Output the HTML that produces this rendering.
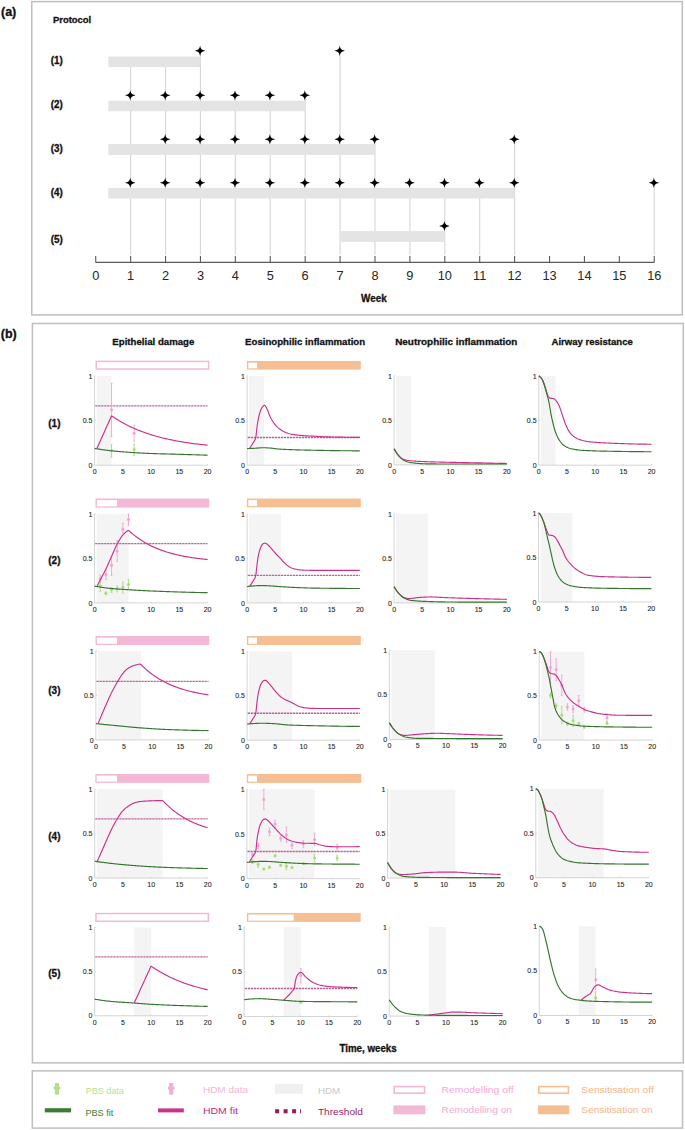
<!DOCTYPE html>
<html><head><meta charset="utf-8"><title>Figure</title>
<style>html,body{margin:0;padding:0;background:#fff;width:685px;height:1130px;overflow:hidden;font-family:"Liberation Sans",sans-serif;} svg{display:block;}</style>
</head><body>
<svg width="685" height="1130" viewBox="0 0 685 1130" font-family='"Liberation Sans", sans-serif'><rect x="31.75" y="1.60" width="650.55" height="313.25" fill="none" stroke="#bebebe" stroke-width="1.5"/>
<rect x="32.40" y="323.50" width="650.90" height="739.35" fill="none" stroke="#bebebe" stroke-width="1.5"/>
<rect x="32.30" y="1070.85" width="650.20" height="57.25" fill="none" stroke="#bebebe" stroke-width="1.5"/>
<line x1="130.63" y1="58.10" x2="130.63" y2="254.7" stroke="#d6d6d6" stroke-width="1.1"/>
<line x1="165.54" y1="58.10" x2="165.54" y2="254.7" stroke="#d6d6d6" stroke-width="1.1"/>
<line x1="200.44" y1="50.80" x2="200.44" y2="254.7" stroke="#d6d6d6" stroke-width="1.1"/>
<line x1="235.35" y1="95.20" x2="235.35" y2="254.7" stroke="#d6d6d6" stroke-width="1.1"/>
<line x1="270.26" y1="95.20" x2="270.26" y2="254.7" stroke="#d6d6d6" stroke-width="1.1"/>
<line x1="305.17" y1="95.20" x2="305.17" y2="254.7" stroke="#d6d6d6" stroke-width="1.1"/>
<line x1="340.08" y1="50.80" x2="340.08" y2="254.7" stroke="#d6d6d6" stroke-width="1.1"/>
<line x1="374.98" y1="139.30" x2="374.98" y2="254.7" stroke="#d6d6d6" stroke-width="1.1"/>
<line x1="409.89" y1="182.80" x2="409.89" y2="254.7" stroke="#d6d6d6" stroke-width="1.1"/>
<line x1="444.80" y1="182.80" x2="444.80" y2="254.7" stroke="#d6d6d6" stroke-width="1.1"/>
<line x1="479.71" y1="182.80" x2="479.71" y2="254.7" stroke="#d6d6d6" stroke-width="1.1"/>
<line x1="514.62" y1="139.30" x2="514.62" y2="254.7" stroke="#d6d6d6" stroke-width="1.1"/>
<line x1="654.25" y1="182.80" x2="654.25" y2="254.7" stroke="#d6d6d6" stroke-width="1.1"/>
<rect x="108.29" y="56.60" width="92.16" height="10.50" fill="#e4e4e4"/>
<rect x="108.29" y="100.70" width="196.88" height="10.50" fill="#e4e4e4"/>
<rect x="108.29" y="144.10" width="266.70" height="10.80" fill="#e4e4e4"/>
<rect x="108.29" y="187.90" width="406.33" height="10.60" fill="#e4e4e4"/>
<rect x="340.08" y="231.10" width="104.72" height="10.80" fill="#e4e4e4"/>
<path d="M0,-5.3 C0.55,-2.0 1.2,-1.2 5.2,0 C1.2,1.2 0.55,2.0 0,5.3 C-0.55,2.0 -1.2,1.2 -5.2,0 C-1.2,-1.2 -0.55,-2.0 0,-5.3 Z" transform="translate(200.09,50.80)" fill="#000"/>
<path d="M0,-5.3 C0.55,-2.0 1.2,-1.2 5.2,0 C1.2,1.2 0.55,2.0 0,5.3 C-0.55,2.0 -1.2,1.2 -5.2,0 C-1.2,-1.2 -0.55,-2.0 0,-5.3 Z" transform="translate(339.73,50.80)" fill="#000"/>
<path d="M0,-5.3 C0.55,-2.0 1.2,-1.2 5.2,0 C1.2,1.2 0.55,2.0 0,5.3 C-0.55,2.0 -1.2,1.2 -5.2,0 C-1.2,-1.2 -0.55,-2.0 0,-5.3 Z" transform="translate(130.28,95.20)" fill="#000"/>
<path d="M0,-5.3 C0.55,-2.0 1.2,-1.2 5.2,0 C1.2,1.2 0.55,2.0 0,5.3 C-0.55,2.0 -1.2,1.2 -5.2,0 C-1.2,-1.2 -0.55,-2.0 0,-5.3 Z" transform="translate(165.19,95.20)" fill="#000"/>
<path d="M0,-5.3 C0.55,-2.0 1.2,-1.2 5.2,0 C1.2,1.2 0.55,2.0 0,5.3 C-0.55,2.0 -1.2,1.2 -5.2,0 C-1.2,-1.2 -0.55,-2.0 0,-5.3 Z" transform="translate(200.09,95.20)" fill="#000"/>
<path d="M0,-5.3 C0.55,-2.0 1.2,-1.2 5.2,0 C1.2,1.2 0.55,2.0 0,5.3 C-0.55,2.0 -1.2,1.2 -5.2,0 C-1.2,-1.2 -0.55,-2.0 0,-5.3 Z" transform="translate(235.00,95.20)" fill="#000"/>
<path d="M0,-5.3 C0.55,-2.0 1.2,-1.2 5.2,0 C1.2,1.2 0.55,2.0 0,5.3 C-0.55,2.0 -1.2,1.2 -5.2,0 C-1.2,-1.2 -0.55,-2.0 0,-5.3 Z" transform="translate(269.91,95.20)" fill="#000"/>
<path d="M0,-5.3 C0.55,-2.0 1.2,-1.2 5.2,0 C1.2,1.2 0.55,2.0 0,5.3 C-0.55,2.0 -1.2,1.2 -5.2,0 C-1.2,-1.2 -0.55,-2.0 0,-5.3 Z" transform="translate(304.82,95.20)" fill="#000"/>
<path d="M0,-5.3 C0.55,-2.0 1.2,-1.2 5.2,0 C1.2,1.2 0.55,2.0 0,5.3 C-0.55,2.0 -1.2,1.2 -5.2,0 C-1.2,-1.2 -0.55,-2.0 0,-5.3 Z" transform="translate(165.19,139.30)" fill="#000"/>
<path d="M0,-5.3 C0.55,-2.0 1.2,-1.2 5.2,0 C1.2,1.2 0.55,2.0 0,5.3 C-0.55,2.0 -1.2,1.2 -5.2,0 C-1.2,-1.2 -0.55,-2.0 0,-5.3 Z" transform="translate(200.09,139.30)" fill="#000"/>
<path d="M0,-5.3 C0.55,-2.0 1.2,-1.2 5.2,0 C1.2,1.2 0.55,2.0 0,5.3 C-0.55,2.0 -1.2,1.2 -5.2,0 C-1.2,-1.2 -0.55,-2.0 0,-5.3 Z" transform="translate(235.00,139.30)" fill="#000"/>
<path d="M0,-5.3 C0.55,-2.0 1.2,-1.2 5.2,0 C1.2,1.2 0.55,2.0 0,5.3 C-0.55,2.0 -1.2,1.2 -5.2,0 C-1.2,-1.2 -0.55,-2.0 0,-5.3 Z" transform="translate(269.91,139.30)" fill="#000"/>
<path d="M0,-5.3 C0.55,-2.0 1.2,-1.2 5.2,0 C1.2,1.2 0.55,2.0 0,5.3 C-0.55,2.0 -1.2,1.2 -5.2,0 C-1.2,-1.2 -0.55,-2.0 0,-5.3 Z" transform="translate(304.82,139.30)" fill="#000"/>
<path d="M0,-5.3 C0.55,-2.0 1.2,-1.2 5.2,0 C1.2,1.2 0.55,2.0 0,5.3 C-0.55,2.0 -1.2,1.2 -5.2,0 C-1.2,-1.2 -0.55,-2.0 0,-5.3 Z" transform="translate(339.73,139.30)" fill="#000"/>
<path d="M0,-5.3 C0.55,-2.0 1.2,-1.2 5.2,0 C1.2,1.2 0.55,2.0 0,5.3 C-0.55,2.0 -1.2,1.2 -5.2,0 C-1.2,-1.2 -0.55,-2.0 0,-5.3 Z" transform="translate(374.63,139.30)" fill="#000"/>
<path d="M0,-5.3 C0.55,-2.0 1.2,-1.2 5.2,0 C1.2,1.2 0.55,2.0 0,5.3 C-0.55,2.0 -1.2,1.2 -5.2,0 C-1.2,-1.2 -0.55,-2.0 0,-5.3 Z" transform="translate(514.27,139.30)" fill="#000"/>
<path d="M0,-5.3 C0.55,-2.0 1.2,-1.2 5.2,0 C1.2,1.2 0.55,2.0 0,5.3 C-0.55,2.0 -1.2,1.2 -5.2,0 C-1.2,-1.2 -0.55,-2.0 0,-5.3 Z" transform="translate(130.28,182.80)" fill="#000"/>
<path d="M0,-5.3 C0.55,-2.0 1.2,-1.2 5.2,0 C1.2,1.2 0.55,2.0 0,5.3 C-0.55,2.0 -1.2,1.2 -5.2,0 C-1.2,-1.2 -0.55,-2.0 0,-5.3 Z" transform="translate(165.19,182.80)" fill="#000"/>
<path d="M0,-5.3 C0.55,-2.0 1.2,-1.2 5.2,0 C1.2,1.2 0.55,2.0 0,5.3 C-0.55,2.0 -1.2,1.2 -5.2,0 C-1.2,-1.2 -0.55,-2.0 0,-5.3 Z" transform="translate(200.09,182.80)" fill="#000"/>
<path d="M0,-5.3 C0.55,-2.0 1.2,-1.2 5.2,0 C1.2,1.2 0.55,2.0 0,5.3 C-0.55,2.0 -1.2,1.2 -5.2,0 C-1.2,-1.2 -0.55,-2.0 0,-5.3 Z" transform="translate(235.00,182.80)" fill="#000"/>
<path d="M0,-5.3 C0.55,-2.0 1.2,-1.2 5.2,0 C1.2,1.2 0.55,2.0 0,5.3 C-0.55,2.0 -1.2,1.2 -5.2,0 C-1.2,-1.2 -0.55,-2.0 0,-5.3 Z" transform="translate(269.91,182.80)" fill="#000"/>
<path d="M0,-5.3 C0.55,-2.0 1.2,-1.2 5.2,0 C1.2,1.2 0.55,2.0 0,5.3 C-0.55,2.0 -1.2,1.2 -5.2,0 C-1.2,-1.2 -0.55,-2.0 0,-5.3 Z" transform="translate(304.82,182.80)" fill="#000"/>
<path d="M0,-5.3 C0.55,-2.0 1.2,-1.2 5.2,0 C1.2,1.2 0.55,2.0 0,5.3 C-0.55,2.0 -1.2,1.2 -5.2,0 C-1.2,-1.2 -0.55,-2.0 0,-5.3 Z" transform="translate(339.73,182.80)" fill="#000"/>
<path d="M0,-5.3 C0.55,-2.0 1.2,-1.2 5.2,0 C1.2,1.2 0.55,2.0 0,5.3 C-0.55,2.0 -1.2,1.2 -5.2,0 C-1.2,-1.2 -0.55,-2.0 0,-5.3 Z" transform="translate(374.63,182.80)" fill="#000"/>
<path d="M0,-5.3 C0.55,-2.0 1.2,-1.2 5.2,0 C1.2,1.2 0.55,2.0 0,5.3 C-0.55,2.0 -1.2,1.2 -5.2,0 C-1.2,-1.2 -0.55,-2.0 0,-5.3 Z" transform="translate(409.54,182.80)" fill="#000"/>
<path d="M0,-5.3 C0.55,-2.0 1.2,-1.2 5.2,0 C1.2,1.2 0.55,2.0 0,5.3 C-0.55,2.0 -1.2,1.2 -5.2,0 C-1.2,-1.2 -0.55,-2.0 0,-5.3 Z" transform="translate(444.45,182.80)" fill="#000"/>
<path d="M0,-5.3 C0.55,-2.0 1.2,-1.2 5.2,0 C1.2,1.2 0.55,2.0 0,5.3 C-0.55,2.0 -1.2,1.2 -5.2,0 C-1.2,-1.2 -0.55,-2.0 0,-5.3 Z" transform="translate(479.36,182.80)" fill="#000"/>
<path d="M0,-5.3 C0.55,-2.0 1.2,-1.2 5.2,0 C1.2,1.2 0.55,2.0 0,5.3 C-0.55,2.0 -1.2,1.2 -5.2,0 C-1.2,-1.2 -0.55,-2.0 0,-5.3 Z" transform="translate(514.27,182.80)" fill="#000"/>
<path d="M0,-5.3 C0.55,-2.0 1.2,-1.2 5.2,0 C1.2,1.2 0.55,2.0 0,5.3 C-0.55,2.0 -1.2,1.2 -5.2,0 C-1.2,-1.2 -0.55,-2.0 0,-5.3 Z" transform="translate(653.90,182.80)" fill="#000"/>
<path d="M0,-5.3 C0.55,-2.0 1.2,-1.2 5.2,0 C1.2,1.2 0.55,2.0 0,5.3 C-0.55,2.0 -1.2,1.2 -5.2,0 C-1.2,-1.2 -0.55,-2.0 0,-5.3 Z" transform="translate(444.45,226.10)" fill="#000"/>
<line x1="95.72" y1="262.40" x2="654.25" y2="262.40" stroke="#5a5a5a" stroke-width="1.1"/>
<line x1="95.72" y1="256.0" x2="95.72" y2="262.40" stroke="#5a5a5a" stroke-width="1.1"/>
<text x="95.72" y="279.70" font-size="12.8" text-anchor="middle" font-weight="normal" fill="#262626">0</text>
<line x1="130.63" y1="256.0" x2="130.63" y2="262.40" stroke="#5a5a5a" stroke-width="1.1"/>
<text x="130.63" y="279.70" font-size="12.8" text-anchor="middle" font-weight="normal" fill="#262626">1</text>
<line x1="165.54" y1="256.0" x2="165.54" y2="262.40" stroke="#5a5a5a" stroke-width="1.1"/>
<text x="165.54" y="279.70" font-size="12.8" text-anchor="middle" font-weight="normal" fill="#262626">2</text>
<line x1="200.44" y1="256.0" x2="200.44" y2="262.40" stroke="#5a5a5a" stroke-width="1.1"/>
<text x="200.44" y="279.70" font-size="12.8" text-anchor="middle" font-weight="normal" fill="#262626">3</text>
<line x1="235.35" y1="256.0" x2="235.35" y2="262.40" stroke="#5a5a5a" stroke-width="1.1"/>
<text x="235.35" y="279.70" font-size="12.8" text-anchor="middle" font-weight="normal" fill="#262626">4</text>
<line x1="270.26" y1="256.0" x2="270.26" y2="262.40" stroke="#5a5a5a" stroke-width="1.1"/>
<text x="270.26" y="279.70" font-size="12.8" text-anchor="middle" font-weight="normal" fill="#262626">5</text>
<line x1="305.17" y1="256.0" x2="305.17" y2="262.40" stroke="#5a5a5a" stroke-width="1.1"/>
<text x="305.17" y="279.70" font-size="12.8" text-anchor="middle" font-weight="normal" fill="#262626">6</text>
<line x1="340.08" y1="256.0" x2="340.08" y2="262.40" stroke="#5a5a5a" stroke-width="1.1"/>
<text x="340.08" y="279.70" font-size="12.8" text-anchor="middle" font-weight="normal" fill="#262626">7</text>
<line x1="374.98" y1="256.0" x2="374.98" y2="262.40" stroke="#5a5a5a" stroke-width="1.1"/>
<text x="374.98" y="279.70" font-size="12.8" text-anchor="middle" font-weight="normal" fill="#262626">8</text>
<line x1="409.89" y1="256.0" x2="409.89" y2="262.40" stroke="#5a5a5a" stroke-width="1.1"/>
<text x="409.89" y="279.70" font-size="12.8" text-anchor="middle" font-weight="normal" fill="#262626">9</text>
<line x1="444.80" y1="256.0" x2="444.80" y2="262.40" stroke="#5a5a5a" stroke-width="1.1"/>
<text x="444.80" y="279.70" font-size="12.8" text-anchor="middle" font-weight="normal" fill="#262626">10</text>
<line x1="479.71" y1="256.0" x2="479.71" y2="262.40" stroke="#5a5a5a" stroke-width="1.1"/>
<text x="479.71" y="279.70" font-size="12.8" text-anchor="middle" font-weight="normal" fill="#262626">11</text>
<line x1="514.62" y1="256.0" x2="514.62" y2="262.40" stroke="#5a5a5a" stroke-width="1.1"/>
<text x="514.62" y="279.70" font-size="12.8" text-anchor="middle" font-weight="normal" fill="#262626">12</text>
<line x1="549.52" y1="256.0" x2="549.52" y2="262.40" stroke="#5a5a5a" stroke-width="1.1"/>
<text x="549.52" y="279.70" font-size="12.8" text-anchor="middle" font-weight="normal" fill="#262626">13</text>
<line x1="584.43" y1="256.0" x2="584.43" y2="262.40" stroke="#5a5a5a" stroke-width="1.1"/>
<text x="584.43" y="279.70" font-size="12.8" text-anchor="middle" font-weight="normal" fill="#262626">14</text>
<line x1="619.34" y1="256.0" x2="619.34" y2="262.40" stroke="#5a5a5a" stroke-width="1.1"/>
<text x="619.34" y="279.70" font-size="12.8" text-anchor="middle" font-weight="normal" fill="#262626">15</text>
<line x1="654.25" y1="256.0" x2="654.25" y2="262.40" stroke="#5a5a5a" stroke-width="1.1"/>
<text x="654.25" y="279.70" font-size="12.8" text-anchor="middle" font-weight="normal" fill="#262626">16</text>
<text x="1.00" y="16.20" font-size="12.5" text-anchor="start" font-weight="bold" fill="#111" stroke="#111" stroke-width="0.3">(a)</text>
<text x="53.00" y="22.80" font-size="9.6" text-anchor="start" font-weight="bold" fill="#111" textLength="38.20" lengthAdjust="spacingAndGlyphs" stroke="#111" stroke-width="0.3">Protocol</text>
<text x="50.80" y="64.30" font-size="10.2" text-anchor="start" font-weight="bold" fill="#111" textLength="12.00" lengthAdjust="spacingAndGlyphs" stroke="#111" stroke-width="0.3">(1)</text>
<text x="50.80" y="108.10" font-size="10.2" text-anchor="start" font-weight="bold" fill="#111" textLength="12.00" lengthAdjust="spacingAndGlyphs" stroke="#111" stroke-width="0.3">(2)</text>
<text x="50.80" y="152.30" font-size="10.2" text-anchor="start" font-weight="bold" fill="#111" textLength="12.00" lengthAdjust="spacingAndGlyphs" stroke="#111" stroke-width="0.3">(3)</text>
<text x="50.80" y="196.20" font-size="10.2" text-anchor="start" font-weight="bold" fill="#111" textLength="12.00" lengthAdjust="spacingAndGlyphs" stroke="#111" stroke-width="0.3">(4)</text>
<text x="50.80" y="242.90" font-size="10.2" text-anchor="start" font-weight="bold" fill="#111" textLength="12.00" lengthAdjust="spacingAndGlyphs" stroke="#111" stroke-width="0.3">(5)</text>
<text x="361.00" y="301.60" font-size="10.0" text-anchor="start" font-weight="bold" fill="#111" textLength="25.70" lengthAdjust="spacingAndGlyphs" stroke="#111" stroke-width="0.3">Week</text>
<text x="0.80" y="338.40" font-size="12.5" text-anchor="start" font-weight="bold" fill="#111" stroke="#111" stroke-width="0.3">(b)</text>
<text x="112.30" y="344.90" font-size="9.9" text-anchor="start" font-weight="bold" fill="#111" textLength="82.10" lengthAdjust="spacingAndGlyphs" stroke="#111" stroke-width="0.3">Epithelial damage</text>
<text x="245.10" y="344.90" font-size="9.9" text-anchor="start" font-weight="bold" fill="#111" textLength="120.00" lengthAdjust="spacingAndGlyphs" stroke="#111" stroke-width="0.3">Eosinophilic inflammation</text>
<text x="395.20" y="344.90" font-size="9.9" text-anchor="start" font-weight="bold" fill="#111" textLength="122.20" lengthAdjust="spacingAndGlyphs" stroke="#111" stroke-width="0.3">Neutrophilic inflammation</text>
<text x="551.50" y="344.90" font-size="9.9" text-anchor="start" font-weight="bold" fill="#111" textLength="81.30" lengthAdjust="spacingAndGlyphs" stroke="#111" stroke-width="0.3">Airway resistance</text>
<text x="48.30" y="426.80" font-size="10.4" text-anchor="start" font-weight="bold" fill="#111" textLength="12.20" lengthAdjust="spacingAndGlyphs" stroke="#111" stroke-width="0.3">(1)</text>
<text x="48.30" y="563.80" font-size="10.4" text-anchor="start" font-weight="bold" fill="#111" textLength="12.20" lengthAdjust="spacingAndGlyphs" stroke="#111" stroke-width="0.3">(2)</text>
<text x="48.30" y="693.50" font-size="10.4" text-anchor="start" font-weight="bold" fill="#111" textLength="12.20" lengthAdjust="spacingAndGlyphs" stroke="#111" stroke-width="0.3">(3)</text>
<text x="48.30" y="840.00" font-size="10.4" text-anchor="start" font-weight="bold" fill="#111" textLength="12.20" lengthAdjust="spacingAndGlyphs" stroke="#111" stroke-width="0.3">(4)</text>
<text x="48.30" y="976.50" font-size="10.4" text-anchor="start" font-weight="bold" fill="#111" textLength="12.20" lengthAdjust="spacingAndGlyphs" stroke="#111" stroke-width="0.3">(5)</text>
<text x="339.40" y="1051.90" font-size="10.0" text-anchor="start" font-weight="bold" fill="#111" textLength="57.30" lengthAdjust="spacingAndGlyphs" stroke="#111" stroke-width="0.3">Time, weeks</text>
<rect x="96.63" y="375.90" width="14.92" height="89.30" fill="#f4f4f4"/>
<path d="M94.60,375.90 L94.60,465.20 L207.60,465.20" fill="none" stroke="#cfcfcf" stroke-width="0.9"/>
<line x1="122.85" y1="465.20" x2="122.85" y2="464.00" stroke="#cfcfcf" stroke-width="0.8"/>
<line x1="151.10" y1="465.20" x2="151.10" y2="464.00" stroke="#cfcfcf" stroke-width="0.8"/>
<line x1="179.35" y1="465.20" x2="179.35" y2="464.00" stroke="#cfcfcf" stroke-width="0.8"/>
<line x1="207.60" y1="465.20" x2="207.60" y2="464.00" stroke="#cfcfcf" stroke-width="0.8"/>
<line x1="94.60" y1="420.55" x2="95.80" y2="420.55" stroke="#cfcfcf" stroke-width="0.8"/>
<line x1="94.60" y1="375.90" x2="95.80" y2="375.90" stroke="#cfcfcf" stroke-width="0.8"/>
<text x="92.40" y="467.80" font-size="7.0" text-anchor="end" font-weight="normal" fill="#262626" stroke="#262626" stroke-width="0.1">0</text>
<text x="92.40" y="423.15" font-size="7.0" text-anchor="end" font-weight="normal" fill="#262626" stroke="#262626" stroke-width="0.1">0.5</text>
<text x="92.40" y="378.50" font-size="7.0" text-anchor="end" font-weight="normal" fill="#262626" stroke="#262626" stroke-width="0.1">1</text>
<text x="94.60" y="474.00" font-size="7.0" text-anchor="middle" font-weight="normal" fill="#262626" stroke="#262626" stroke-width="0.1">0</text>
<text x="122.85" y="474.00" font-size="7.0" text-anchor="middle" font-weight="normal" fill="#262626" stroke="#262626" stroke-width="0.1">5</text>
<text x="151.10" y="474.00" font-size="7.0" text-anchor="middle" font-weight="normal" fill="#262626" stroke="#262626" stroke-width="0.1">10</text>
<text x="179.35" y="474.00" font-size="7.0" text-anchor="middle" font-weight="normal" fill="#262626" stroke="#262626" stroke-width="0.1">15</text>
<text x="207.60" y="474.00" font-size="7.0" text-anchor="middle" font-weight="normal" fill="#262626" stroke="#262626" stroke-width="0.1">20</text>
<line x1="95.20" y1="405.82" x2="207.60" y2="405.82" stroke="#b8649a" stroke-width="1.35" stroke-dasharray="2.3,0.7"/>
<line x1="111.55" y1="383.40" x2="111.55" y2="436.62" stroke="#f0a4d2" stroke-width="0.9"/>
<line x1="110.65" y1="383.40" x2="112.45" y2="383.40" stroke="#f0a4d2" stroke-width="0.8"/>
<line x1="110.65" y1="436.62" x2="112.45" y2="436.62" stroke="#f0a4d2" stroke-width="0.8"/>
<circle cx="111.55" cy="409.83" r="1.5" fill="#f0a4d2"/>
<line x1="134.15" y1="425.37" x2="134.15" y2="441.18" stroke="#f0a4d2" stroke-width="0.9"/>
<line x1="133.25" y1="425.37" x2="135.05" y2="425.37" stroke="#f0a4d2" stroke-width="0.8"/>
<line x1="133.25" y1="441.18" x2="135.05" y2="441.18" stroke="#f0a4d2" stroke-width="0.8"/>
<circle cx="134.15" cy="433.32" r="1.5" fill="#f0a4d2"/>
<line x1="111.55" y1="444.66" x2="111.55" y2="457.25" stroke="#a9dc78" stroke-width="0.9"/>
<line x1="110.65" y1="444.66" x2="112.45" y2="444.66" stroke="#a9dc78" stroke-width="0.8"/>
<line x1="110.65" y1="457.25" x2="112.45" y2="457.25" stroke="#a9dc78" stroke-width="0.8"/>
<circle cx="111.55" cy="450.47" r="1.5" fill="#a9dc78"/>
<line x1="134.15" y1="444.21" x2="134.15" y2="455.64" stroke="#a9dc78" stroke-width="0.9"/>
<line x1="133.25" y1="444.21" x2="135.05" y2="444.21" stroke="#a9dc78" stroke-width="0.8"/>
<line x1="133.25" y1="455.64" x2="135.05" y2="455.64" stroke="#a9dc78" stroke-width="0.8"/>
<circle cx="134.15" cy="449.57" r="1.5" fill="#a9dc78"/>
<path d="M94.60,448.41 L95.53,448.57 L96.47,448.72 L97.40,448.88 L98.34,449.03 L99.27,449.18 L100.20,449.33 L101.14,449.47 L102.07,449.61 L103.00,449.75 L103.94,449.88 L104.87,450.01 L105.81,450.14 L106.74,450.26 L107.67,450.38 L108.61,450.49 L109.54,450.60 L110.48,450.71 L111.41,450.81 L112.34,450.90 L113.28,451.00 L114.21,451.09 L115.15,451.18 L116.08,451.26 L117.01,451.35 L117.95,451.43 L118.88,451.51 L119.81,451.59 L120.75,451.66 L121.68,451.74 L122.62,451.81 L123.55,451.88 L124.48,451.95 L125.42,452.02 L126.35,452.09 L127.29,452.16 L128.22,452.22 L129.15,452.28 L130.09,452.35 L131.02,452.41 L131.96,452.47 L132.89,452.53 L133.82,452.59 L134.76,452.65 L135.69,452.70 L136.62,452.76 L137.56,452.82 L138.49,452.87 L139.43,452.93 L140.36,452.98 L141.29,453.03 L142.23,453.09 L143.16,453.14 L144.10,453.19 L145.03,453.23 L145.96,453.28 L146.90,453.32 L147.83,453.37 L148.77,453.41 L149.70,453.45 L150.63,453.48 L151.57,453.52 L152.50,453.55 L153.43,453.59 L154.37,453.62 L155.30,453.65 L156.24,453.68 L157.17,453.71 L158.10,453.74 L159.04,453.76 L159.97,453.79 L160.91,453.82 L161.84,453.84 L162.77,453.87 L163.71,453.89 L164.64,453.92 L165.58,453.94 L166.51,453.96 L167.44,453.99 L168.38,454.01 L169.31,454.04 L170.24,454.06 L171.18,454.08 L172.11,454.11 L173.05,454.13 L173.98,454.16 L174.91,454.18 L175.85,454.21 L176.78,454.23 L177.72,454.26 L178.65,454.28 L179.58,454.31 L180.52,454.34 L181.45,454.37 L182.39,454.40 L183.32,454.43 L184.25,454.45 L185.19,454.48 L186.12,454.51 L187.05,454.54 L187.99,454.57 L188.92,454.60 L189.86,454.63 L190.79,454.66 L191.72,454.69 L192.66,454.71 L193.59,454.74 L194.53,454.77 L195.46,454.80 L196.39,454.83 L197.33,454.86 L198.26,454.89 L199.20,454.92 L200.13,454.95 L201.06,454.98 L202.00,455.01 L202.93,455.04 L203.86,455.08 L204.80,455.11 L205.73,455.14 L206.67,455.17 L207.60,455.20" fill="none" stroke="#35752f" stroke-width="1.15" stroke-linejoin="round"/>
<path d="M96.86,448.59 L97.78,446.54 L98.70,444.49 L99.61,442.45 L100.53,440.40 L101.45,438.35 L102.37,436.30 L103.29,434.25 L104.20,432.20 L105.12,430.16 L106.04,428.11 L106.96,426.06 L107.88,424.01 L108.80,421.96 L109.71,419.91 L110.63,417.87 L111.55,415.82 M111.55,415.82 L112.48,416.46 L113.42,417.08 L114.35,417.70 L115.28,418.31 L116.21,418.91 L117.15,419.50 L118.08,420.07 L119.01,420.63 L119.94,421.18 L120.88,421.73 L121.81,422.26 L122.74,422.78 L123.67,423.29 L124.61,423.80 L125.54,424.29 L126.47,424.77 L127.40,425.25 L128.34,425.71 L129.27,426.17 L130.20,426.62 L131.13,427.06 L132.07,427.49 L133.00,427.91 L133.93,428.33 L134.86,428.73 L135.80,429.13 L136.73,429.53 L137.66,429.91 L138.59,430.29 L139.53,430.66 L140.46,431.02 L141.39,431.38 L142.32,431.73 L143.26,432.08 L144.19,432.41 L145.12,432.74 L146.05,433.07 L146.99,433.39 L147.92,433.70 L148.85,434.01 L149.78,434.31 L150.72,434.60 L151.65,434.89 L152.58,435.18 L153.51,435.45 L154.45,435.73 L155.38,436.00 L156.31,436.26 L157.24,436.52 L158.18,436.77 L159.11,437.02 L160.04,437.27 L160.97,437.50 L161.91,437.74 L162.84,437.97 L163.77,438.20 L164.70,438.42 L165.64,438.64 L166.57,438.85 L167.50,439.06 L168.43,439.27 L169.37,439.47 L170.30,439.67 L171.23,439.86 L172.16,440.05 L173.10,440.24 L174.03,440.42 L174.96,440.60 L175.89,440.78 L176.83,440.95 L177.76,441.13 L178.69,441.29 L179.62,441.46 L180.56,441.62 L181.49,441.78 L182.42,441.93 L183.35,442.08 L184.29,442.23 L185.22,442.38 L186.15,442.52 L187.08,442.66 L188.02,442.80 L188.95,442.94 L189.88,443.07 L190.81,443.20 L191.75,443.33 L192.68,443.45 L193.61,443.58 L194.54,443.70 L195.48,443.82 L196.41,443.93 L197.34,444.05 L198.27,444.16 L199.21,444.27 L200.14,444.38 L201.07,444.48 L202.00,444.59 L202.94,444.69 L203.87,444.79 L204.80,444.89 L205.73,444.99 L206.67,445.08 L207.60,445.17" fill="none" stroke="#cc2f8a" stroke-width="1.15" stroke-linejoin="round"/>
<rect x="249.13" y="375.90" width="14.88" height="89.30" fill="#f4f4f4"/>
<path d="M247.10,375.90 L247.10,465.20 L359.80,465.20" fill="none" stroke="#cfcfcf" stroke-width="0.9"/>
<line x1="275.27" y1="465.20" x2="275.27" y2="464.00" stroke="#cfcfcf" stroke-width="0.8"/>
<line x1="303.45" y1="465.20" x2="303.45" y2="464.00" stroke="#cfcfcf" stroke-width="0.8"/>
<line x1="331.62" y1="465.20" x2="331.62" y2="464.00" stroke="#cfcfcf" stroke-width="0.8"/>
<line x1="359.80" y1="465.20" x2="359.80" y2="464.00" stroke="#cfcfcf" stroke-width="0.8"/>
<line x1="247.10" y1="420.55" x2="248.30" y2="420.55" stroke="#cfcfcf" stroke-width="0.8"/>
<line x1="247.10" y1="375.90" x2="248.30" y2="375.90" stroke="#cfcfcf" stroke-width="0.8"/>
<text x="244.90" y="467.80" font-size="7.0" text-anchor="end" font-weight="normal" fill="#262626" stroke="#262626" stroke-width="0.1">0</text>
<text x="244.90" y="423.15" font-size="7.0" text-anchor="end" font-weight="normal" fill="#262626" stroke="#262626" stroke-width="0.1">0.5</text>
<text x="244.90" y="378.50" font-size="7.0" text-anchor="end" font-weight="normal" fill="#262626" stroke="#262626" stroke-width="0.1">1</text>
<text x="247.10" y="474.00" font-size="7.0" text-anchor="middle" font-weight="normal" fill="#262626" stroke="#262626" stroke-width="0.1">0</text>
<text x="275.27" y="474.00" font-size="7.0" text-anchor="middle" font-weight="normal" fill="#262626" stroke="#262626" stroke-width="0.1">5</text>
<text x="303.45" y="474.00" font-size="7.0" text-anchor="middle" font-weight="normal" fill="#262626" stroke="#262626" stroke-width="0.1">10</text>
<text x="331.62" y="474.00" font-size="7.0" text-anchor="middle" font-weight="normal" fill="#262626" stroke="#262626" stroke-width="0.1">15</text>
<text x="359.80" y="474.00" font-size="7.0" text-anchor="middle" font-weight="normal" fill="#262626" stroke="#262626" stroke-width="0.1">20</text>
<line x1="247.70" y1="437.52" x2="359.80" y2="437.52" stroke="#b8649a" stroke-width="1.35" stroke-dasharray="2.3,0.7"/>
<path d="M247.10,448.59 L248.03,448.57 L248.96,448.54 L249.89,448.50 L250.83,448.47 L251.76,448.43 L252.69,448.38 L253.62,448.34 L254.55,448.29 L255.48,448.24 L256.41,448.17 L257.35,448.09 L258.28,448.00 L259.21,447.90 L260.14,447.81 L261.07,447.74 L262.00,447.70 L262.93,447.70 L263.87,447.72 L264.80,447.75 L265.73,447.80 L266.66,447.85 L267.59,447.91 L268.52,447.98 L269.45,448.04 L270.39,448.11 L271.32,448.19 L272.25,448.29 L273.18,448.40 L274.11,448.51 L275.04,448.63 L275.97,448.74 L276.90,448.85 L277.84,448.95 L278.77,449.03 L279.70,449.11 L280.63,449.16 L281.56,449.22 L282.49,449.27 L283.42,449.32 L284.36,449.37 L285.29,449.41 L286.22,449.46 L287.15,449.50 L288.08,449.54 L289.01,449.58 L289.94,449.62 L290.88,449.66 L291.81,449.69 L292.74,449.73 L293.67,449.76 L294.60,449.79 L295.53,449.82 L296.46,449.85 L297.40,449.88 L298.33,449.91 L299.26,449.93 L300.19,449.95 L301.12,449.98 L302.05,450.00 L302.98,450.02 L303.92,450.04 L304.85,450.06 L305.78,450.08 L306.71,450.10 L307.64,450.12 L308.57,450.14 L309.50,450.16 L310.44,450.18 L311.37,450.20 L312.30,450.22 L313.23,450.24 L314.16,450.26 L315.09,450.28 L316.02,450.30 L316.96,450.32 L317.89,450.34 L318.82,450.36 L319.75,450.37 L320.68,450.39 L321.61,450.41 L322.54,450.43 L323.48,450.44 L324.41,450.46 L325.34,450.48 L326.27,450.49 L327.20,450.51 L328.13,450.53 L329.06,450.54 L330.00,450.56 L330.93,450.57 L331.86,450.59 L332.79,450.60 L333.72,450.61 L334.65,450.63 L335.58,450.64 L336.51,450.65 L337.45,450.67 L338.38,450.68 L339.31,450.69 L340.24,450.70 L341.17,450.71 L342.10,450.72 L343.03,450.73 L343.97,450.74 L344.90,450.75 L345.83,450.76 L346.76,450.77 L347.69,450.77 L348.62,450.78 L349.55,450.79 L350.49,450.79 L351.42,450.80 L352.35,450.80 L353.28,450.81 L354.21,450.81 L355.14,450.82 L356.07,450.82 L357.01,450.82 L357.94,450.82 L358.87,450.82 L359.80,450.82" fill="none" stroke="#35752f" stroke-width="1.15" stroke-linejoin="round"/>
<path d="M249.47,448.50 L250.40,447.17 L251.34,445.74 L252.27,444.23 L253.21,442.65 L254.14,441.30 L255.08,439.65 L256.01,436.40 L256.95,427.25 L257.88,421.22 L258.82,416.63 L259.75,412.89 L260.69,410.17 L261.62,408.13 L262.56,406.77 L263.49,405.73 L264.43,405.28 L265.36,405.94 L266.30,407.43 L267.23,409.19 L268.17,411.65 L269.10,414.35 L270.04,416.43 L270.97,418.25 L271.91,419.93 L272.84,421.49 L273.78,422.90 L274.71,424.22 L275.65,425.44 L276.58,426.49 L277.52,427.35 L278.45,428.11 L279.39,428.80 L280.32,429.45 L281.26,430.09 L282.19,430.70 L283.13,431.24 L284.06,431.70 L285.00,432.11 L285.93,432.49 L286.87,432.85 L287.80,433.18 L288.74,433.48 L289.67,433.75 L290.61,433.99 L291.54,434.19 L292.48,434.37 L293.41,434.53 L294.35,434.67 L295.28,434.81 L296.22,434.93 L297.15,435.04 L298.09,435.15 L299.02,435.25 L299.96,435.35 L300.89,435.44 L301.83,435.53 L302.76,435.61 L303.70,435.69 L304.63,435.75 L305.57,435.81 L306.50,435.86 L307.44,435.91 L308.37,435.95 L309.31,435.98 L310.24,436.02 L311.18,436.06 L312.11,436.10 L313.05,436.14 L313.98,436.19 L314.92,436.25 L315.85,436.30 L316.79,436.35 L317.72,436.41 L318.66,436.46 L319.59,436.52 L320.53,436.57 L321.46,436.62 L322.40,436.67 L323.33,436.71 L324.27,436.75 L325.20,436.78 L326.14,436.81 L327.07,436.83 L328.01,436.85 L328.94,436.88 L329.88,436.90 L330.81,436.92 L331.75,436.95 L332.68,436.97 L333.62,436.99 L334.55,437.01 L335.49,437.03 L336.42,437.05 L337.36,437.07 L338.29,437.09 L339.23,437.11 L340.16,437.13 L341.10,437.15 L342.03,437.17 L342.97,437.18 L343.90,437.20 L344.84,437.21 L345.77,437.23 L346.71,437.24 L347.64,437.25 L348.58,437.27 L349.51,437.28 L350.45,437.29 L351.38,437.30 L352.32,437.30 L353.25,437.31 L354.19,437.32 L355.12,437.32 L356.06,437.33 L356.99,437.33 L357.93,437.34 L358.86,437.34 L359.80,437.34" fill="none" stroke="#cc2f8a" stroke-width="1.15" stroke-linejoin="round"/>
<rect x="396.13" y="375.90" width="14.88" height="89.00" fill="#f4f4f4"/>
<path d="M394.10,375.90 L394.10,464.90 L506.80,464.90" fill="none" stroke="#cfcfcf" stroke-width="0.9"/>
<line x1="422.28" y1="464.90" x2="422.28" y2="463.70" stroke="#cfcfcf" stroke-width="0.8"/>
<line x1="450.45" y1="464.90" x2="450.45" y2="463.70" stroke="#cfcfcf" stroke-width="0.8"/>
<line x1="478.62" y1="464.90" x2="478.62" y2="463.70" stroke="#cfcfcf" stroke-width="0.8"/>
<line x1="506.80" y1="464.90" x2="506.80" y2="463.70" stroke="#cfcfcf" stroke-width="0.8"/>
<line x1="394.10" y1="420.40" x2="395.30" y2="420.40" stroke="#cfcfcf" stroke-width="0.8"/>
<line x1="394.10" y1="375.90" x2="395.30" y2="375.90" stroke="#cfcfcf" stroke-width="0.8"/>
<text x="391.90" y="467.50" font-size="7.0" text-anchor="end" font-weight="normal" fill="#262626" stroke="#262626" stroke-width="0.1">0</text>
<text x="391.90" y="423.00" font-size="7.0" text-anchor="end" font-weight="normal" fill="#262626" stroke="#262626" stroke-width="0.1">0.5</text>
<text x="391.90" y="378.50" font-size="7.0" text-anchor="end" font-weight="normal" fill="#262626" stroke="#262626" stroke-width="0.1">1</text>
<text x="394.10" y="473.70" font-size="7.0" text-anchor="middle" font-weight="normal" fill="#262626" stroke="#262626" stroke-width="0.1">0</text>
<text x="422.28" y="473.70" font-size="7.0" text-anchor="middle" font-weight="normal" fill="#262626" stroke="#262626" stroke-width="0.1">5</text>
<text x="450.45" y="473.70" font-size="7.0" text-anchor="middle" font-weight="normal" fill="#262626" stroke="#262626" stroke-width="0.1">10</text>
<text x="478.62" y="473.70" font-size="7.0" text-anchor="middle" font-weight="normal" fill="#262626" stroke="#262626" stroke-width="0.1">15</text>
<text x="506.80" y="473.70" font-size="7.0" text-anchor="middle" font-weight="normal" fill="#262626" stroke="#262626" stroke-width="0.1">20</text>
<path d="M394.10,448.70 L395.03,450.40 L395.96,451.98 L396.89,453.43 L397.83,454.69 L398.76,455.76 L399.69,456.64 L400.62,457.47 L401.55,458.21 L402.48,458.85 L403.41,459.34 L404.35,459.68 L405.28,459.92 L406.21,460.13 L407.14,460.31 L408.07,460.46 L409.00,460.59 L409.93,460.70 L410.87,460.79 L411.80,460.88 L412.73,460.95 L413.66,461.03 L414.59,461.09 L415.52,461.16 L416.45,461.22 L417.39,461.27 L418.32,461.33 L419.25,461.38 L420.18,461.42 L421.11,461.47 L422.04,461.51 L422.97,461.55 L423.90,461.59 L424.84,461.62 L425.77,461.66 L426.70,461.69 L427.63,461.73 L428.56,461.76 L429.49,461.79 L430.42,461.82 L431.36,461.85 L432.29,461.88 L433.22,461.91 L434.15,461.93 L435.08,461.96 L436.01,461.98 L436.94,462.01 L437.88,462.03 L438.81,462.05 L439.74,462.08 L440.67,462.10 L441.60,462.12 L442.53,462.14 L443.46,462.16 L444.40,462.18 L445.33,462.21 L446.26,462.23 L447.19,462.25 L448.12,462.27 L449.05,462.29 L449.98,462.31 L450.92,462.33 L451.85,462.35 L452.78,462.37 L453.71,462.39 L454.64,462.41 L455.57,462.43 L456.50,462.45 L457.44,462.47 L458.37,462.48 L459.30,462.50 L460.23,462.52 L461.16,462.54 L462.09,462.55 L463.02,462.57 L463.96,462.59 L464.89,462.61 L465.82,462.62 L466.75,462.64 L467.68,462.66 L468.61,462.68 L469.54,462.70 L470.48,462.71 L471.41,462.73 L472.34,462.75 L473.27,462.77 L474.20,462.79 L475.13,462.81 L476.06,462.83 L477.00,462.85 L477.93,462.86 L478.86,462.88 L479.79,462.90 L480.72,462.92 L481.65,462.94 L482.58,462.96 L483.51,462.98 L484.45,463.00 L485.38,463.02 L486.31,463.04 L487.24,463.06 L488.17,463.08 L489.10,463.10 L490.03,463.12 L490.97,463.14 L491.90,463.16 L492.83,463.18 L493.76,463.20 L494.69,463.22 L495.62,463.23 L496.55,463.25 L497.49,463.27 L498.42,463.29 L499.35,463.31 L500.28,463.33 L501.21,463.35 L502.14,463.37 L503.07,463.39 L504.01,463.42 L504.94,463.44 L505.87,463.46 L506.80,463.48" fill="none" stroke="#cc2f8a" stroke-width="1.15" stroke-linejoin="round"/>
<path d="M394.10,448.70 L395.03,450.36 L395.96,451.92 L396.89,453.36 L397.83,454.67 L398.76,455.82 L399.69,456.83 L400.62,457.78 L401.55,458.66 L402.48,459.43 L403.41,460.08 L404.35,460.59 L405.28,461.00 L406.21,461.39 L407.14,461.73 L408.07,462.03 L409.00,462.29 L409.93,462.50 L410.87,462.66 L411.80,462.78 L412.73,462.89 L413.66,463.00 L414.59,463.10 L415.52,463.19 L416.45,463.28 L417.39,463.36 L418.32,463.44 L419.25,463.51 L420.18,463.57 L421.11,463.63 L422.04,463.68 L422.97,463.72 L423.90,463.76 L424.84,463.79 L425.77,463.81 L426.70,463.83 L427.63,463.84 L428.56,463.86 L429.49,463.87 L430.42,463.88 L431.36,463.89 L432.29,463.90 L433.22,463.91 L434.15,463.92 L435.08,463.93 L436.01,463.94 L436.94,463.95 L437.88,463.96 L438.81,463.97 L439.74,463.97 L440.67,463.98 L441.60,463.98 L442.53,463.99 L443.46,463.99 L444.40,464.00 L445.33,464.00 L446.26,464.00 L447.19,464.01 L448.12,464.01 L449.05,464.01 L449.98,464.01 L450.92,464.01 L451.85,464.01 L452.78,464.01 L453.71,464.01 L454.64,464.01 L455.57,464.01 L456.50,464.01 L457.44,464.01 L458.37,464.01 L459.30,464.01 L460.23,464.01 L461.16,464.01 L462.09,464.01 L463.02,464.01 L463.96,464.01 L464.89,464.01 L465.82,464.01 L466.75,464.01 L467.68,464.01 L468.61,464.01 L469.54,464.01 L470.48,464.01 L471.41,464.01 L472.34,464.01 L473.27,464.01 L474.20,464.01 L475.13,464.01 L476.06,464.01 L477.00,464.01 L477.93,464.01 L478.86,464.01 L479.79,464.01 L480.72,464.01 L481.65,464.01 L482.58,464.01 L483.51,464.01 L484.45,464.01 L485.38,464.01 L486.31,464.01 L487.24,464.01 L488.17,464.01 L489.10,464.01 L490.03,464.01 L490.97,464.01 L491.90,464.01 L492.83,464.01 L493.76,464.01 L494.69,464.01 L495.62,464.01 L496.55,464.01 L497.49,464.01 L498.42,464.01 L499.35,464.01 L500.28,464.01 L501.21,464.01 L502.14,464.01 L503.07,464.01 L504.01,464.01 L504.94,464.01 L505.87,464.01 L506.80,464.01" fill="none" stroke="#35752f" stroke-width="1.15" stroke-linejoin="round"/>
<rect x="540.83" y="375.90" width="14.89" height="89.30" fill="#f4f4f4"/>
<path d="M538.80,375.90 L538.80,465.20 L651.60,465.20" fill="none" stroke="#cfcfcf" stroke-width="0.9"/>
<line x1="567.00" y1="465.20" x2="567.00" y2="464.00" stroke="#cfcfcf" stroke-width="0.8"/>
<line x1="595.20" y1="465.20" x2="595.20" y2="464.00" stroke="#cfcfcf" stroke-width="0.8"/>
<line x1="623.40" y1="465.20" x2="623.40" y2="464.00" stroke="#cfcfcf" stroke-width="0.8"/>
<line x1="651.60" y1="465.20" x2="651.60" y2="464.00" stroke="#cfcfcf" stroke-width="0.8"/>
<line x1="538.80" y1="420.55" x2="540.00" y2="420.55" stroke="#cfcfcf" stroke-width="0.8"/>
<line x1="538.80" y1="375.90" x2="540.00" y2="375.90" stroke="#cfcfcf" stroke-width="0.8"/>
<text x="536.60" y="467.80" font-size="7.0" text-anchor="end" font-weight="normal" fill="#262626" stroke="#262626" stroke-width="0.1">0</text>
<text x="536.60" y="423.15" font-size="7.0" text-anchor="end" font-weight="normal" fill="#262626" stroke="#262626" stroke-width="0.1">0.5</text>
<text x="536.60" y="378.50" font-size="7.0" text-anchor="end" font-weight="normal" fill="#262626" stroke="#262626" stroke-width="0.1">1</text>
<text x="538.80" y="474.00" font-size="7.0" text-anchor="middle" font-weight="normal" fill="#262626" stroke="#262626" stroke-width="0.1">0</text>
<text x="567.00" y="474.00" font-size="7.0" text-anchor="middle" font-weight="normal" fill="#262626" stroke="#262626" stroke-width="0.1">5</text>
<text x="595.20" y="474.00" font-size="7.0" text-anchor="middle" font-weight="normal" fill="#262626" stroke="#262626" stroke-width="0.1">10</text>
<text x="623.40" y="474.00" font-size="7.0" text-anchor="middle" font-weight="normal" fill="#262626" stroke="#262626" stroke-width="0.1">15</text>
<text x="651.60" y="474.00" font-size="7.0" text-anchor="middle" font-weight="normal" fill="#262626" stroke="#262626" stroke-width="0.1">20</text>
<path d="M538.80,375.90 L539.73,376.55 L540.66,377.41 L541.60,378.52 L542.53,379.95 L543.46,381.93 L544.39,384.42 L545.33,387.60 L546.26,390.77 L547.19,393.97 L548.12,396.28 L549.05,397.49 L549.99,398.23 L550.92,398.37 L551.85,398.41 L552.78,398.45 L553.72,398.61 L554.65,399.24 L555.58,400.22 L556.51,401.31 L557.44,402.61 L558.38,404.24 L559.31,406.16 L560.24,408.64 L561.17,411.42 L562.11,414.15 L563.04,417.04 L563.97,419.98 L564.90,422.73 L565.83,425.06 L566.77,427.06 L567.70,428.95 L568.63,430.67 L569.56,432.19 L570.50,433.44 L571.43,434.43 L572.36,435.31 L573.29,436.11 L574.22,436.83 L575.16,437.47 L576.09,438.04 L577.02,438.52 L577.95,438.93 L578.89,439.28 L579.82,439.61 L580.75,439.92 L581.68,440.21 L582.61,440.47 L583.55,440.72 L584.48,440.94 L585.41,441.13 L586.34,441.31 L587.28,441.46 L588.21,441.60 L589.14,441.71 L590.07,441.82 L591.00,441.92 L591.94,442.02 L592.87,442.11 L593.80,442.20 L594.73,442.28 L595.67,442.35 L596.60,442.43 L597.53,442.50 L598.46,442.56 L599.40,442.62 L600.33,442.68 L601.26,442.73 L602.19,442.78 L603.12,442.83 L604.06,442.88 L604.99,442.92 L605.92,442.96 L606.85,443.00 L607.79,443.04 L608.72,443.08 L609.65,443.12 L610.58,443.16 L611.51,443.20 L612.45,443.24 L613.38,443.28 L614.31,443.32 L615.24,443.36 L616.18,443.39 L617.11,443.43 L618.04,443.47 L618.97,443.50 L619.90,443.54 L620.84,443.57 L621.77,443.60 L622.70,443.64 L623.63,443.67 L624.57,443.70 L625.50,443.73 L626.43,443.76 L627.36,443.79 L628.29,443.82 L629.23,443.85 L630.16,443.88 L631.09,443.90 L632.02,443.93 L632.96,443.96 L633.89,443.98 L634.82,444.00 L635.75,444.02 L636.68,444.04 L637.62,444.06 L638.55,444.08 L639.48,444.10 L640.41,444.12 L641.35,444.13 L642.28,444.15 L643.21,444.16 L644.14,444.17 L645.07,444.18 L646.01,444.19 L646.94,444.20 L647.87,444.20 L648.80,444.21 L649.74,444.21 L650.67,444.21 L651.60,444.21" fill="none" stroke="#cc2f8a" stroke-width="1.15" stroke-linejoin="round"/>
<path d="M538.80,375.90 L539.73,376.55 L540.66,377.41 L541.60,378.48 L542.53,379.97 L543.46,382.47 L544.39,385.56 L545.33,388.58 L546.26,391.78 L547.19,395.15 L548.12,398.66 L549.05,402.74 L549.99,408.23 L550.92,413.68 L551.85,418.36 L552.78,422.45 L553.72,426.20 L554.65,429.55 L555.58,432.33 L556.51,434.73 L557.44,436.85 L558.38,438.65 L559.31,440.14 L560.24,441.50 L561.17,442.73 L562.11,443.82 L563.04,444.75 L563.97,445.49 L564.90,446.09 L565.83,446.64 L566.77,447.14 L567.70,447.58 L568.63,447.96 L569.56,448.29 L570.50,448.57 L571.43,448.79 L572.36,448.99 L573.29,449.19 L574.22,449.36 L575.16,449.53 L576.09,449.68 L577.02,449.81 L577.95,449.94 L578.89,450.05 L579.82,450.14 L580.75,450.22 L581.68,450.29 L582.61,450.35 L583.55,450.40 L584.48,450.46 L585.41,450.51 L586.34,450.56 L587.28,450.60 L588.21,450.65 L589.14,450.69 L590.07,450.73 L591.00,450.77 L591.94,450.80 L592.87,450.84 L593.80,450.87 L594.73,450.90 L595.67,450.93 L596.60,450.96 L597.53,450.99 L598.46,451.01 L599.40,451.04 L600.33,451.06 L601.26,451.08 L602.19,451.10 L603.12,451.12 L604.06,451.14 L604.99,451.16 L605.92,451.18 L606.85,451.20 L607.79,451.21 L608.72,451.23 L609.65,451.25 L610.58,451.27 L611.51,451.28 L612.45,451.30 L613.38,451.32 L614.31,451.33 L615.24,451.35 L616.18,451.36 L617.11,451.38 L618.04,451.40 L618.97,451.41 L619.90,451.43 L620.84,451.44 L621.77,451.46 L622.70,451.47 L623.63,451.48 L624.57,451.50 L625.50,451.51 L626.43,451.52 L627.36,451.54 L628.29,451.55 L629.23,451.56 L630.16,451.57 L631.09,451.58 L632.02,451.59 L632.96,451.61 L633.89,451.62 L634.82,451.63 L635.75,451.63 L636.68,451.64 L637.62,451.65 L638.55,451.66 L639.48,451.67 L640.41,451.67 L641.35,451.68 L642.28,451.69 L643.21,451.69 L644.14,451.70 L645.07,451.70 L646.01,451.70 L646.94,451.71 L647.87,451.71 L648.80,451.71 L649.74,451.71 L650.67,451.72 L651.60,451.72" fill="none" stroke="#35752f" stroke-width="1.15" stroke-linejoin="round"/>
<rect x="96.63" y="513.90" width="31.87" height="89.00" fill="#f4f4f4"/>
<path d="M94.60,513.90 L94.60,602.90 L207.60,602.90" fill="none" stroke="#cfcfcf" stroke-width="0.9"/>
<line x1="122.85" y1="602.90" x2="122.85" y2="601.70" stroke="#cfcfcf" stroke-width="0.8"/>
<line x1="151.10" y1="602.90" x2="151.10" y2="601.70" stroke="#cfcfcf" stroke-width="0.8"/>
<line x1="179.35" y1="602.90" x2="179.35" y2="601.70" stroke="#cfcfcf" stroke-width="0.8"/>
<line x1="207.60" y1="602.90" x2="207.60" y2="601.70" stroke="#cfcfcf" stroke-width="0.8"/>
<line x1="94.60" y1="558.40" x2="95.80" y2="558.40" stroke="#cfcfcf" stroke-width="0.8"/>
<line x1="94.60" y1="513.90" x2="95.80" y2="513.90" stroke="#cfcfcf" stroke-width="0.8"/>
<text x="92.40" y="605.50" font-size="7.0" text-anchor="end" font-weight="normal" fill="#262626" stroke="#262626" stroke-width="0.1">0</text>
<text x="92.40" y="561.00" font-size="7.0" text-anchor="end" font-weight="normal" fill="#262626" stroke="#262626" stroke-width="0.1">0.5</text>
<text x="92.40" y="516.50" font-size="7.0" text-anchor="end" font-weight="normal" fill="#262626" stroke="#262626" stroke-width="0.1">1</text>
<text x="94.60" y="611.70" font-size="7.0" text-anchor="middle" font-weight="normal" fill="#262626" stroke="#262626" stroke-width="0.1">0</text>
<text x="122.85" y="611.70" font-size="7.0" text-anchor="middle" font-weight="normal" fill="#262626" stroke="#262626" stroke-width="0.1">5</text>
<text x="151.10" y="611.70" font-size="7.0" text-anchor="middle" font-weight="normal" fill="#262626" stroke="#262626" stroke-width="0.1">10</text>
<text x="179.35" y="611.70" font-size="7.0" text-anchor="middle" font-weight="normal" fill="#262626" stroke="#262626" stroke-width="0.1">15</text>
<text x="207.60" y="611.70" font-size="7.0" text-anchor="middle" font-weight="normal" fill="#262626" stroke="#262626" stroke-width="0.1">20</text>
<line x1="95.20" y1="543.63" x2="207.60" y2="543.63" stroke="#b8649a" stroke-width="1.35" stroke-dasharray="2.3,0.7"/>
<line x1="100.25" y1="575.22" x2="100.25" y2="582.43" stroke="#f0a4d2" stroke-width="0.9"/>
<line x1="99.35" y1="575.22" x2="101.15" y2="575.22" stroke="#f0a4d2" stroke-width="0.8"/>
<line x1="99.35" y1="582.43" x2="101.15" y2="582.43" stroke="#f0a4d2" stroke-width="0.8"/>
<circle cx="100.25" cy="578.87" r="1.5" fill="#f0a4d2"/>
<line x1="105.90" y1="569.70" x2="105.90" y2="579.58" stroke="#f0a4d2" stroke-width="0.9"/>
<line x1="105.00" y1="569.70" x2="106.80" y2="569.70" stroke="#f0a4d2" stroke-width="0.8"/>
<line x1="105.00" y1="579.58" x2="106.80" y2="579.58" stroke="#f0a4d2" stroke-width="0.8"/>
<circle cx="105.90" cy="574.51" r="1.5" fill="#f0a4d2"/>
<line x1="111.55" y1="556.80" x2="111.55" y2="575.49" stroke="#f0a4d2" stroke-width="0.9"/>
<line x1="110.65" y1="556.80" x2="112.45" y2="556.80" stroke="#f0a4d2" stroke-width="0.8"/>
<line x1="110.65" y1="575.49" x2="112.45" y2="575.49" stroke="#f0a4d2" stroke-width="0.8"/>
<circle cx="111.55" cy="565.16" r="1.5" fill="#f0a4d2"/>
<line x1="117.20" y1="540.51" x2="117.20" y2="561.51" stroke="#f0a4d2" stroke-width="0.9"/>
<line x1="116.30" y1="540.51" x2="118.10" y2="540.51" stroke="#f0a4d2" stroke-width="0.8"/>
<line x1="116.30" y1="561.51" x2="118.10" y2="561.51" stroke="#f0a4d2" stroke-width="0.8"/>
<circle cx="117.20" cy="551.01" r="1.5" fill="#f0a4d2"/>
<line x1="122.85" y1="523.07" x2="122.85" y2="533.12" stroke="#f0a4d2" stroke-width="0.9"/>
<line x1="121.95" y1="523.07" x2="123.75" y2="523.07" stroke="#f0a4d2" stroke-width="0.8"/>
<line x1="121.95" y1="533.12" x2="123.75" y2="533.12" stroke="#f0a4d2" stroke-width="0.8"/>
<circle cx="122.85" cy="529.21" r="1.5" fill="#f0a4d2"/>
<line x1="128.50" y1="513.90" x2="128.50" y2="525.47" stroke="#f0a4d2" stroke-width="0.9"/>
<line x1="127.60" y1="513.90" x2="129.40" y2="513.90" stroke="#f0a4d2" stroke-width="0.8"/>
<line x1="127.60" y1="525.47" x2="129.40" y2="525.47" stroke="#f0a4d2" stroke-width="0.8"/>
<circle cx="128.50" cy="519.60" r="1.5" fill="#f0a4d2"/>
<line x1="100.25" y1="581.27" x2="100.25" y2="591.69" stroke="#a9dc78" stroke-width="0.9"/>
<line x1="99.35" y1="581.27" x2="101.15" y2="581.27" stroke="#a9dc78" stroke-width="0.8"/>
<line x1="99.35" y1="591.69" x2="101.15" y2="591.69" stroke="#a9dc78" stroke-width="0.8"/>
<circle cx="100.25" cy="586.08" r="1.5" fill="#a9dc78"/>
<line x1="105.90" y1="591.69" x2="105.90" y2="594.89" stroke="#a9dc78" stroke-width="0.9"/>
<line x1="105.00" y1="591.69" x2="106.80" y2="591.69" stroke="#a9dc78" stroke-width="0.8"/>
<line x1="105.00" y1="594.89" x2="106.80" y2="594.89" stroke="#a9dc78" stroke-width="0.8"/>
<circle cx="105.90" cy="593.29" r="1.5" fill="#a9dc78"/>
<line x1="111.55" y1="587.68" x2="111.55" y2="592.49" stroke="#a9dc78" stroke-width="0.9"/>
<line x1="110.65" y1="587.68" x2="112.45" y2="587.68" stroke="#a9dc78" stroke-width="0.8"/>
<line x1="110.65" y1="592.49" x2="112.45" y2="592.49" stroke="#a9dc78" stroke-width="0.8"/>
<circle cx="111.55" cy="589.73" r="1.5" fill="#a9dc78"/>
<line x1="117.20" y1="585.72" x2="117.20" y2="591.69" stroke="#a9dc78" stroke-width="0.9"/>
<line x1="116.30" y1="585.72" x2="118.10" y2="585.72" stroke="#a9dc78" stroke-width="0.8"/>
<line x1="116.30" y1="591.69" x2="118.10" y2="591.69" stroke="#a9dc78" stroke-width="0.8"/>
<circle cx="117.20" cy="588.48" r="1.5" fill="#a9dc78"/>
<line x1="122.85" y1="582.07" x2="122.85" y2="593.29" stroke="#a9dc78" stroke-width="0.9"/>
<line x1="121.95" y1="582.07" x2="123.75" y2="582.07" stroke="#a9dc78" stroke-width="0.8"/>
<line x1="121.95" y1="593.29" x2="123.75" y2="593.29" stroke="#a9dc78" stroke-width="0.8"/>
<circle cx="122.85" cy="587.32" r="1.5" fill="#a9dc78"/>
<line x1="128.50" y1="579.31" x2="128.50" y2="589.73" stroke="#a9dc78" stroke-width="0.9"/>
<line x1="127.60" y1="579.31" x2="129.40" y2="579.31" stroke="#a9dc78" stroke-width="0.8"/>
<line x1="127.60" y1="589.73" x2="129.40" y2="589.73" stroke="#a9dc78" stroke-width="0.8"/>
<circle cx="128.50" cy="584.48" r="1.5" fill="#a9dc78"/>
<path d="M94.60,586.17 L95.53,586.33 L96.47,586.49 L97.40,586.64 L98.34,586.80 L99.27,586.95 L100.20,587.09 L101.14,587.24 L102.07,587.37 L103.00,587.51 L103.94,587.64 L104.87,587.76 L105.81,587.88 L106.74,588.00 L107.67,588.11 L108.61,588.21 L109.54,588.31 L110.48,588.40 L111.41,588.49 L112.34,588.57 L113.28,588.65 L114.21,588.73 L115.15,588.81 L116.08,588.88 L117.01,588.96 L117.95,589.03 L118.88,589.09 L119.81,589.16 L120.75,589.23 L121.68,589.29 L122.62,589.35 L123.55,589.41 L124.48,589.47 L125.42,589.53 L126.35,589.59 L127.29,589.65 L128.22,589.71 L129.15,589.77 L130.09,589.83 L131.02,589.89 L131.96,589.94 L132.89,590.00 L133.82,590.06 L134.76,590.11 L135.69,590.17 L136.62,590.22 L137.56,590.28 L138.49,590.33 L139.43,590.39 L140.36,590.44 L141.29,590.49 L142.23,590.54 L143.16,590.59 L144.10,590.64 L145.03,590.69 L145.96,590.73 L146.90,590.78 L147.83,590.82 L148.77,590.87 L149.70,590.91 L150.63,590.95 L151.57,590.99 L152.50,591.03 L153.43,591.07 L154.37,591.10 L155.30,591.14 L156.24,591.18 L157.17,591.21 L158.10,591.25 L159.04,591.29 L159.97,591.32 L160.91,591.36 L161.84,591.39 L162.77,591.43 L163.71,591.46 L164.64,591.50 L165.58,591.53 L166.51,591.57 L167.44,591.60 L168.38,591.63 L169.31,591.67 L170.24,591.70 L171.18,591.73 L172.11,591.77 L173.05,591.80 L173.98,591.83 L174.91,591.86 L175.85,591.89 L176.78,591.93 L177.72,591.96 L178.65,591.99 L179.58,592.02 L180.52,592.05 L181.45,592.07 L182.39,592.10 L183.32,592.13 L184.25,592.16 L185.19,592.19 L186.12,592.21 L187.05,592.24 L187.99,592.26 L188.92,592.29 L189.86,592.31 L190.79,592.34 L191.72,592.36 L192.66,592.38 L193.59,592.41 L194.53,592.43 L195.46,592.45 L196.39,592.47 L197.33,592.49 L198.26,592.51 L199.20,592.53 L200.13,592.55 L201.06,592.56 L202.00,592.58 L202.93,592.60 L203.86,592.61 L204.80,592.63 L205.73,592.64 L206.67,592.65 L207.60,592.66" fill="none" stroke="#35752f" stroke-width="1.15" stroke-linejoin="round"/>
<path d="M97.20,585.99 L98.12,584.14 L99.04,582.31 L99.96,580.48 L100.88,578.68 L101.80,576.92 L102.72,575.19 L103.64,573.44 L104.56,571.66 L105.48,569.82 L106.41,567.90 L107.33,565.90 L108.25,563.84 L109.17,561.76 L110.09,559.67 L111.01,557.61 L111.93,555.56 L112.85,553.47 L113.77,551.35 L114.69,549.26 L115.61,547.23 L116.53,545.32 L117.45,543.56 L118.37,541.90 L119.29,540.28 L120.21,538.74 L121.14,537.30 L122.06,536.00 L122.98,534.87 L123.90,533.89 L124.82,532.98 L125.74,532.15 L126.66,531.41 L127.58,530.78 L128.50,530.28 M128.50,530.28 L129.43,531.13 L130.36,531.97 L131.29,532.78 L132.22,533.58 L133.15,534.36 L134.08,535.11 L135.01,535.84 L135.94,536.56 L136.88,537.25 L137.81,537.93 L138.74,538.59 L139.67,539.23 L140.60,539.85 L141.53,540.46 L142.46,541.05 L143.39,541.63 L144.32,542.19 L145.25,542.74 L146.18,543.27 L147.11,543.79 L148.04,544.29 L148.97,544.78 L149.90,545.26 L150.83,545.72 L151.76,546.17 L152.70,546.62 L153.63,547.04 L154.56,547.46 L155.49,547.87 L156.42,548.26 L157.35,548.65 L158.28,549.02 L159.21,549.39 L160.14,549.75 L161.07,550.09 L162.00,550.43 L162.93,550.76 L163.86,551.08 L164.79,551.39 L165.72,551.69 L166.65,551.99 L167.58,552.27 L168.52,552.55 L169.45,552.82 L170.38,553.09 L171.31,553.35 L172.24,553.60 L173.17,553.84 L174.10,554.08 L175.03,554.31 L175.96,554.54 L176.89,554.76 L177.82,554.97 L178.75,555.18 L179.68,555.38 L180.61,555.58 L181.54,555.77 L182.47,555.96 L183.40,556.14 L184.34,556.32 L185.27,556.49 L186.20,556.66 L187.13,556.82 L188.06,556.98 L188.99,557.14 L189.92,557.29 L190.85,557.43 L191.78,557.58 L192.71,557.72 L193.64,557.85 L194.57,557.99 L195.50,558.11 L196.43,558.24 L197.36,558.36 L198.29,558.48 L199.22,558.60 L200.16,558.71 L201.09,558.82 L202.02,558.92 L202.95,559.03 L203.88,559.13 L204.81,559.23 L205.74,559.32 L206.67,559.42 L207.60,559.51" fill="none" stroke="#cc2f8a" stroke-width="1.15" stroke-linejoin="round"/>
<rect x="249.13" y="513.90" width="31.78" height="89.00" fill="#f4f4f4"/>
<path d="M247.10,513.90 L247.10,602.90 L359.80,602.90" fill="none" stroke="#cfcfcf" stroke-width="0.9"/>
<line x1="275.27" y1="602.90" x2="275.27" y2="601.70" stroke="#cfcfcf" stroke-width="0.8"/>
<line x1="303.45" y1="602.90" x2="303.45" y2="601.70" stroke="#cfcfcf" stroke-width="0.8"/>
<line x1="331.62" y1="602.90" x2="331.62" y2="601.70" stroke="#cfcfcf" stroke-width="0.8"/>
<line x1="359.80" y1="602.90" x2="359.80" y2="601.70" stroke="#cfcfcf" stroke-width="0.8"/>
<line x1="247.10" y1="558.40" x2="248.30" y2="558.40" stroke="#cfcfcf" stroke-width="0.8"/>
<line x1="247.10" y1="513.90" x2="248.30" y2="513.90" stroke="#cfcfcf" stroke-width="0.8"/>
<text x="244.90" y="605.50" font-size="7.0" text-anchor="end" font-weight="normal" fill="#262626" stroke="#262626" stroke-width="0.1">0</text>
<text x="244.90" y="561.00" font-size="7.0" text-anchor="end" font-weight="normal" fill="#262626" stroke="#262626" stroke-width="0.1">0.5</text>
<text x="244.90" y="516.50" font-size="7.0" text-anchor="end" font-weight="normal" fill="#262626" stroke="#262626" stroke-width="0.1">1</text>
<text x="247.10" y="611.70" font-size="7.0" text-anchor="middle" font-weight="normal" fill="#262626" stroke="#262626" stroke-width="0.1">0</text>
<text x="275.27" y="611.70" font-size="7.0" text-anchor="middle" font-weight="normal" fill="#262626" stroke="#262626" stroke-width="0.1">5</text>
<text x="303.45" y="611.70" font-size="7.0" text-anchor="middle" font-weight="normal" fill="#262626" stroke="#262626" stroke-width="0.1">10</text>
<text x="331.62" y="611.70" font-size="7.0" text-anchor="middle" font-weight="normal" fill="#262626" stroke="#262626" stroke-width="0.1">15</text>
<text x="359.80" y="611.70" font-size="7.0" text-anchor="middle" font-weight="normal" fill="#262626" stroke="#262626" stroke-width="0.1">20</text>
<line x1="247.70" y1="575.31" x2="359.80" y2="575.31" stroke="#b8649a" stroke-width="1.35" stroke-dasharray="2.3,0.7"/>
<path d="M247.10,586.61 L248.03,586.49 L248.96,586.38 L249.89,586.28 L250.83,586.18 L251.76,586.08 L252.69,586.00 L253.62,585.92 L254.55,585.85 L255.48,585.78 L256.41,585.72 L257.35,585.68 L258.28,585.63 L259.21,585.60 L260.14,585.57 L261.07,585.56 L262.00,585.55 L262.93,585.55 L263.87,585.56 L264.80,585.58 L265.73,585.61 L266.66,585.65 L267.59,585.70 L268.52,585.76 L269.45,585.82 L270.39,585.88 L271.32,585.95 L272.25,586.03 L273.18,586.10 L274.11,586.18 L275.04,586.25 L275.97,586.33 L276.90,586.40 L277.84,586.47 L278.77,586.53 L279.70,586.59 L280.63,586.65 L281.56,586.71 L282.49,586.76 L283.42,586.82 L284.36,586.88 L285.29,586.94 L286.22,587.00 L287.15,587.05 L288.08,587.11 L289.01,587.16 L289.94,587.22 L290.88,587.27 L291.81,587.32 L292.74,587.36 L293.67,587.41 L294.60,587.45 L295.53,587.49 L296.46,587.53 L297.40,587.57 L298.33,587.61 L299.26,587.65 L300.19,587.69 L301.12,587.72 L302.05,587.76 L302.98,587.80 L303.92,587.83 L304.85,587.87 L305.78,587.90 L306.71,587.93 L307.64,587.96 L308.57,587.99 L309.50,588.02 L310.44,588.04 L311.37,588.06 L312.30,588.08 L313.23,588.10 L314.16,588.12 L315.09,588.13 L316.02,588.14 L316.96,588.16 L317.89,588.17 L318.82,588.18 L319.75,588.19 L320.68,588.21 L321.61,588.22 L322.54,588.23 L323.48,588.24 L324.41,588.25 L325.34,588.26 L326.27,588.27 L327.20,588.28 L328.13,588.29 L329.06,588.30 L330.00,588.31 L330.93,588.32 L331.86,588.33 L332.79,588.34 L333.72,588.35 L334.65,588.36 L335.58,588.37 L336.51,588.38 L337.45,588.38 L338.38,588.39 L339.31,588.40 L340.24,588.41 L341.17,588.41 L342.10,588.42 L343.03,588.43 L343.97,588.43 L344.90,588.44 L345.83,588.44 L346.76,588.45 L347.69,588.45 L348.62,588.46 L349.55,588.46 L350.49,588.46 L351.42,588.47 L352.35,588.47 L353.28,588.47 L354.21,588.48 L355.14,588.48 L356.07,588.48 L357.01,588.48 L357.94,588.48 L358.87,588.48 L359.80,588.48" fill="none" stroke="#35752f" stroke-width="1.15" stroke-linejoin="round"/>
<path d="M249.47,586.43 L250.40,585.20 L251.34,583.83 L252.27,582.35 L253.21,580.78 L254.14,579.42 L255.08,577.71 L256.01,574.29 L256.95,565.29 L257.88,558.06 L258.82,553.42 L259.75,550.05 L260.69,547.33 L261.62,545.48 L262.56,544.13 L263.49,543.53 L264.43,543.27 L265.36,543.18 L266.30,543.48 L267.23,544.17 L268.17,545.08 L269.10,546.02 L270.04,546.95 L270.97,548.05 L271.91,549.22 L272.84,550.36 L273.78,551.43 L274.71,552.48 L275.65,553.51 L276.58,554.52 L277.52,555.51 L278.45,556.47 L279.39,557.43 L280.32,558.41 L281.26,559.44 L282.19,560.49 L283.13,561.52 L284.06,562.48 L285.00,563.41 L285.93,564.30 L286.87,565.12 L287.80,565.82 L288.74,566.47 L289.67,567.05 L290.61,567.55 L291.54,567.96 L292.48,568.31 L293.41,568.61 L294.35,568.87 L295.28,569.10 L296.22,569.31 L297.15,569.50 L298.09,569.65 L299.02,569.76 L299.96,569.86 L300.89,569.95 L301.83,570.03 L302.76,570.10 L303.70,570.16 L304.63,570.20 L305.57,570.23 L306.50,570.25 L307.44,570.27 L308.37,570.29 L309.31,570.30 L310.24,570.31 L311.18,570.32 L312.11,570.33 L313.05,570.33 L313.98,570.34 L314.92,570.35 L315.85,570.35 L316.79,570.36 L317.72,570.37 L318.66,570.37 L319.59,570.38 L320.53,570.38 L321.46,570.39 L322.40,570.39 L323.33,570.40 L324.27,570.40 L325.20,570.40 L326.14,570.41 L327.07,570.41 L328.01,570.41 L328.94,570.41 L329.88,570.41 L330.81,570.41 L331.75,570.41 L332.68,570.41 L333.62,570.41 L334.55,570.41 L335.49,570.41 L336.42,570.41 L337.36,570.41 L338.29,570.41 L339.23,570.41 L340.16,570.41 L341.10,570.41 L342.03,570.41 L342.97,570.41 L343.90,570.41 L344.84,570.41 L345.77,570.41 L346.71,570.41 L347.64,570.41 L348.58,570.41 L349.51,570.41 L350.45,570.41 L351.38,570.41 L352.32,570.41 L353.25,570.41 L354.19,570.41 L355.12,570.41 L356.06,570.41 L356.99,570.41 L357.93,570.41 L358.86,570.41 L359.80,570.41" fill="none" stroke="#cc2f8a" stroke-width="1.15" stroke-linejoin="round"/>
<rect x="396.13" y="513.90" width="31.78" height="89.00" fill="#f4f4f4"/>
<path d="M394.10,513.90 L394.10,602.90 L506.80,602.90" fill="none" stroke="#cfcfcf" stroke-width="0.9"/>
<line x1="422.28" y1="602.90" x2="422.28" y2="601.70" stroke="#cfcfcf" stroke-width="0.8"/>
<line x1="450.45" y1="602.90" x2="450.45" y2="601.70" stroke="#cfcfcf" stroke-width="0.8"/>
<line x1="478.62" y1="602.90" x2="478.62" y2="601.70" stroke="#cfcfcf" stroke-width="0.8"/>
<line x1="506.80" y1="602.90" x2="506.80" y2="601.70" stroke="#cfcfcf" stroke-width="0.8"/>
<line x1="394.10" y1="558.40" x2="395.30" y2="558.40" stroke="#cfcfcf" stroke-width="0.8"/>
<line x1="394.10" y1="513.90" x2="395.30" y2="513.90" stroke="#cfcfcf" stroke-width="0.8"/>
<text x="391.90" y="605.50" font-size="7.0" text-anchor="end" font-weight="normal" fill="#262626" stroke="#262626" stroke-width="0.1">0</text>
<text x="391.90" y="561.00" font-size="7.0" text-anchor="end" font-weight="normal" fill="#262626" stroke="#262626" stroke-width="0.1">0.5</text>
<text x="391.90" y="516.50" font-size="7.0" text-anchor="end" font-weight="normal" fill="#262626" stroke="#262626" stroke-width="0.1">1</text>
<text x="394.10" y="611.70" font-size="7.0" text-anchor="middle" font-weight="normal" fill="#262626" stroke="#262626" stroke-width="0.1">0</text>
<text x="422.28" y="611.70" font-size="7.0" text-anchor="middle" font-weight="normal" fill="#262626" stroke="#262626" stroke-width="0.1">5</text>
<text x="450.45" y="611.70" font-size="7.0" text-anchor="middle" font-weight="normal" fill="#262626" stroke="#262626" stroke-width="0.1">10</text>
<text x="478.62" y="611.70" font-size="7.0" text-anchor="middle" font-weight="normal" fill="#262626" stroke="#262626" stroke-width="0.1">15</text>
<text x="506.80" y="611.70" font-size="7.0" text-anchor="middle" font-weight="normal" fill="#262626" stroke="#262626" stroke-width="0.1">20</text>
<path d="M394.10,586.61 L395.03,588.18 L395.96,589.66 L396.89,591.02 L397.83,592.24 L398.76,593.30 L399.69,594.24 L400.62,595.13 L401.55,595.95 L402.48,596.66 L403.41,597.22 L404.35,597.59 L405.28,597.87 L406.21,598.11 L407.14,598.32 L408.07,598.46 L409.00,598.53 L409.93,598.53 L410.87,598.48 L411.80,598.39 L412.73,598.28 L413.66,598.15 L414.59,598.02 L415.52,597.88 L416.45,597.75 L417.39,597.64 L418.32,597.56 L419.25,597.50 L420.18,597.43 L421.11,597.36 L422.04,597.30 L422.97,597.24 L423.90,597.18 L424.84,597.12 L425.77,597.07 L426.70,597.03 L427.63,596.99 L428.56,596.97 L429.49,596.95 L430.42,596.94 L431.36,596.94 L432.29,596.95 L433.22,596.98 L434.15,597.01 L435.08,597.05 L436.01,597.09 L436.94,597.14 L437.88,597.20 L438.81,597.25 L439.74,597.31 L440.67,597.36 L441.60,597.42 L442.53,597.47 L443.46,597.51 L444.40,597.55 L445.33,597.59 L446.26,597.63 L447.19,597.66 L448.12,597.70 L449.05,597.73 L449.98,597.77 L450.92,597.80 L451.85,597.83 L452.78,597.87 L453.71,597.90 L454.64,597.93 L455.57,597.96 L456.50,597.99 L457.44,598.03 L458.37,598.06 L459.30,598.09 L460.23,598.12 L461.16,598.15 L462.09,598.18 L463.02,598.21 L463.96,598.24 L464.89,598.27 L465.82,598.30 L466.75,598.32 L467.68,598.35 L468.61,598.38 L469.54,598.41 L470.48,598.43 L471.41,598.46 L472.34,598.49 L473.27,598.51 L474.20,598.54 L475.13,598.57 L476.06,598.59 L477.00,598.62 L477.93,598.65 L478.86,598.67 L479.79,598.70 L480.72,598.72 L481.65,598.75 L482.58,598.77 L483.51,598.80 L484.45,598.82 L485.38,598.84 L486.31,598.87 L487.24,598.89 L488.17,598.92 L489.10,598.94 L490.03,598.96 L490.97,598.99 L491.90,599.01 L492.83,599.03 L493.76,599.05 L494.69,599.08 L495.62,599.10 L496.55,599.12 L497.49,599.14 L498.42,599.16 L499.35,599.18 L500.28,599.20 L501.21,599.22 L502.14,599.24 L503.07,599.26 L504.01,599.28 L504.94,599.30 L505.87,599.32 L506.80,599.34" fill="none" stroke="#cc2f8a" stroke-width="1.15" stroke-linejoin="round"/>
<path d="M394.10,586.61 L395.03,588.20 L395.96,589.70 L396.89,591.09 L397.83,592.35 L398.76,593.47 L399.69,594.45 L400.62,595.38 L401.55,596.23 L402.48,596.99 L403.41,597.64 L404.35,598.14 L405.28,598.58 L406.21,598.98 L407.14,599.34 L408.07,599.67 L409.00,599.95 L409.93,600.18 L410.87,600.35 L411.80,600.47 L412.73,600.57 L413.66,600.67 L414.59,600.76 L415.52,600.85 L416.45,600.92 L417.39,600.99 L418.32,601.06 L419.25,601.12 L420.18,601.17 L421.11,601.22 L422.04,601.27 L422.97,601.31 L423.90,601.36 L424.84,601.39 L425.77,601.43 L426.70,601.46 L427.63,601.50 L428.56,601.53 L429.49,601.56 L430.42,601.59 L431.36,601.62 L432.29,601.65 L433.22,601.68 L434.15,601.71 L435.08,601.73 L436.01,601.76 L436.94,601.78 L437.88,601.81 L438.81,601.83 L439.74,601.85 L440.67,601.87 L441.60,601.89 L442.53,601.91 L443.46,601.93 L444.40,601.94 L445.33,601.96 L446.26,601.97 L447.19,601.98 L448.12,601.99 L449.05,602.00 L449.98,602.01 L450.92,602.01 L451.85,602.02 L452.78,602.02 L453.71,602.03 L454.64,602.04 L455.57,602.04 L456.50,602.05 L457.44,602.05 L458.37,602.06 L459.30,602.06 L460.23,602.07 L461.16,602.07 L462.09,602.08 L463.02,602.08 L463.96,602.08 L464.89,602.09 L465.82,602.09 L466.75,602.10 L467.68,602.10 L468.61,602.11 L469.54,602.11 L470.48,602.11 L471.41,602.12 L472.34,602.12 L473.27,602.12 L474.20,602.13 L475.13,602.13 L476.06,602.13 L477.00,602.14 L477.93,602.14 L478.86,602.14 L479.79,602.15 L480.72,602.15 L481.65,602.15 L482.58,602.15 L483.51,602.16 L484.45,602.16 L485.38,602.16 L486.31,602.16 L487.24,602.17 L488.17,602.17 L489.10,602.17 L490.03,602.17 L490.97,602.17 L491.90,602.18 L492.83,602.18 L493.76,602.18 L494.69,602.18 L495.62,602.18 L496.55,602.18 L497.49,602.18 L498.42,602.18 L499.35,602.18 L500.28,602.19 L501.21,602.19 L502.14,602.19 L503.07,602.19 L504.01,602.19 L504.94,602.19 L505.87,602.19 L506.80,602.19" fill="none" stroke="#35752f" stroke-width="1.15" stroke-linejoin="round"/>
<rect x="540.53" y="513.00" width="31.81" height="89.00" fill="#f4f4f4"/>
<path d="M538.50,513.00 L538.50,602.00 L651.30,602.00" fill="none" stroke="#cfcfcf" stroke-width="0.9"/>
<line x1="566.70" y1="602.00" x2="566.70" y2="600.80" stroke="#cfcfcf" stroke-width="0.8"/>
<line x1="594.90" y1="602.00" x2="594.90" y2="600.80" stroke="#cfcfcf" stroke-width="0.8"/>
<line x1="623.10" y1="602.00" x2="623.10" y2="600.80" stroke="#cfcfcf" stroke-width="0.8"/>
<line x1="651.30" y1="602.00" x2="651.30" y2="600.80" stroke="#cfcfcf" stroke-width="0.8"/>
<line x1="538.50" y1="557.50" x2="539.70" y2="557.50" stroke="#cfcfcf" stroke-width="0.8"/>
<line x1="538.50" y1="513.00" x2="539.70" y2="513.00" stroke="#cfcfcf" stroke-width="0.8"/>
<text x="536.30" y="604.60" font-size="7.0" text-anchor="end" font-weight="normal" fill="#262626" stroke="#262626" stroke-width="0.1">0</text>
<text x="536.30" y="560.10" font-size="7.0" text-anchor="end" font-weight="normal" fill="#262626" stroke="#262626" stroke-width="0.1">0.5</text>
<text x="536.30" y="515.60" font-size="7.0" text-anchor="end" font-weight="normal" fill="#262626" stroke="#262626" stroke-width="0.1">1</text>
<text x="538.50" y="610.80" font-size="7.0" text-anchor="middle" font-weight="normal" fill="#262626" stroke="#262626" stroke-width="0.1">0</text>
<text x="566.70" y="610.80" font-size="7.0" text-anchor="middle" font-weight="normal" fill="#262626" stroke="#262626" stroke-width="0.1">5</text>
<text x="594.90" y="610.80" font-size="7.0" text-anchor="middle" font-weight="normal" fill="#262626" stroke="#262626" stroke-width="0.1">10</text>
<text x="623.10" y="610.80" font-size="7.0" text-anchor="middle" font-weight="normal" fill="#262626" stroke="#262626" stroke-width="0.1">15</text>
<text x="651.30" y="610.80" font-size="7.0" text-anchor="middle" font-weight="normal" fill="#262626" stroke="#262626" stroke-width="0.1">20</text>
<path d="M538.50,513.00 L539.43,513.54 L540.36,514.68 L541.30,516.45 L542.23,518.38 L543.16,520.60 L544.09,522.99 L545.03,525.71 L545.96,528.58 L546.89,531.03 L547.82,533.29 L548.75,534.85 L549.69,535.13 L550.62,535.24 L551.55,535.34 L552.48,535.55 L553.42,535.93 L554.35,536.48 L555.28,537.33 L556.21,538.71 L557.14,540.21 L558.08,541.86 L559.01,543.64 L559.94,545.43 L560.87,547.19 L561.81,548.97 L562.74,550.85 L563.67,552.99 L564.60,555.36 L565.53,557.36 L566.47,558.88 L567.40,560.26 L568.33,561.51 L569.26,562.65 L570.20,563.70 L571.13,564.69 L572.06,565.64 L572.99,566.55 L573.92,567.42 L574.86,568.24 L575.79,568.99 L576.72,569.68 L577.65,570.31 L578.59,570.88 L579.52,571.45 L580.45,572.00 L581.38,572.53 L582.31,573.04 L583.25,573.52 L584.18,573.95 L585.11,574.34 L586.04,574.68 L586.98,574.96 L587.91,575.17 L588.84,575.33 L589.77,575.48 L590.70,575.62 L591.64,575.75 L592.57,575.87 L593.50,575.99 L594.43,576.10 L595.37,576.19 L596.30,576.28 L597.23,576.36 L598.16,576.43 L599.10,576.49 L600.03,576.55 L600.96,576.59 L601.89,576.62 L602.82,576.65 L603.76,576.68 L604.69,576.71 L605.62,576.73 L606.55,576.76 L607.49,576.78 L608.42,576.81 L609.35,576.83 L610.28,576.85 L611.21,576.87 L612.15,576.90 L613.08,576.92 L614.01,576.94 L614.94,576.96 L615.88,576.98 L616.81,577.00 L617.74,577.02 L618.67,577.04 L619.60,577.05 L620.54,577.07 L621.47,577.09 L622.40,577.10 L623.33,577.12 L624.27,577.13 L625.20,577.15 L626.13,577.16 L627.06,577.18 L627.99,577.19 L628.93,577.20 L629.86,577.21 L630.79,577.22 L631.72,577.24 L632.66,577.25 L633.59,577.26 L634.52,577.27 L635.45,577.27 L636.38,577.28 L637.32,577.29 L638.25,577.30 L639.18,577.30 L640.11,577.31 L641.05,577.32 L641.98,577.32 L642.91,577.33 L643.84,577.33 L644.77,577.33 L645.71,577.34 L646.64,577.34 L647.57,577.34 L648.50,577.34 L649.44,577.35 L650.37,577.35 L651.30,577.35" fill="none" stroke="#cc2f8a" stroke-width="1.15" stroke-linejoin="round"/>
<path d="M538.50,513.00 L539.43,513.54 L540.36,514.68 L541.30,516.45 L542.23,518.36 L543.16,520.60 L544.09,523.41 L545.03,527.10 L545.96,531.04 L546.89,535.21 L547.82,539.15 L548.75,542.98 L549.69,546.97 L550.62,551.08 L551.55,555.44 L552.48,559.69 L553.42,563.41 L554.35,566.79 L555.28,569.58 L556.21,572.02 L557.14,574.18 L558.08,575.99 L559.01,577.47 L559.94,578.80 L560.87,580.00 L561.81,581.06 L562.74,581.95 L563.67,582.66 L564.60,583.24 L565.53,583.76 L566.47,584.23 L567.40,584.65 L568.33,585.01 L569.26,585.33 L570.20,585.60 L571.13,585.83 L572.06,586.04 L572.99,586.24 L573.92,586.42 L574.86,586.60 L575.79,586.76 L576.72,586.91 L577.65,587.04 L578.59,587.15 L579.52,587.25 L580.45,587.34 L581.38,587.41 L582.31,587.46 L583.25,587.52 L584.18,587.57 L585.11,587.62 L586.04,587.67 L586.98,587.72 L587.91,587.77 L588.84,587.81 L589.77,587.85 L590.70,587.89 L591.64,587.93 L592.57,587.96 L593.50,587.99 L594.43,588.03 L595.37,588.06 L596.30,588.08 L597.23,588.11 L598.16,588.14 L599.10,588.16 L600.03,588.18 L600.96,588.20 L601.89,588.22 L602.82,588.24 L603.76,588.26 L604.69,588.27 L605.62,588.29 L606.55,588.30 L607.49,588.31 L608.42,588.32 L609.35,588.34 L610.28,588.35 L611.21,588.36 L612.15,588.37 L613.08,588.38 L614.01,588.40 L614.94,588.41 L615.88,588.42 L616.81,588.43 L617.74,588.44 L618.67,588.45 L619.60,588.46 L620.54,588.47 L621.47,588.48 L622.40,588.49 L623.33,588.50 L624.27,588.51 L625.20,588.52 L626.13,588.53 L627.06,588.54 L627.99,588.54 L628.93,588.55 L629.86,588.56 L630.79,588.57 L631.72,588.57 L632.66,588.58 L633.59,588.59 L634.52,588.59 L635.45,588.60 L636.38,588.60 L637.32,588.61 L638.25,588.61 L639.18,588.62 L640.11,588.62 L641.05,588.63 L641.98,588.63 L642.91,588.64 L643.84,588.64 L644.77,588.64 L645.71,588.64 L646.64,588.65 L647.57,588.65 L648.50,588.65 L649.44,588.65 L650.37,588.65 L651.30,588.65" fill="none" stroke="#35752f" stroke-width="1.15" stroke-linejoin="round"/>
<rect x="97.93" y="650.90" width="43.01" height="89.00" fill="#f4f4f4"/>
<path d="M95.90,650.90 L95.90,739.90 L208.50,739.90" fill="none" stroke="#cfcfcf" stroke-width="0.9"/>
<line x1="124.05" y1="739.90" x2="124.05" y2="738.70" stroke="#cfcfcf" stroke-width="0.8"/>
<line x1="152.20" y1="739.90" x2="152.20" y2="738.70" stroke="#cfcfcf" stroke-width="0.8"/>
<line x1="180.35" y1="739.90" x2="180.35" y2="738.70" stroke="#cfcfcf" stroke-width="0.8"/>
<line x1="208.50" y1="739.90" x2="208.50" y2="738.70" stroke="#cfcfcf" stroke-width="0.8"/>
<line x1="95.90" y1="695.40" x2="97.10" y2="695.40" stroke="#cfcfcf" stroke-width="0.8"/>
<line x1="95.90" y1="650.90" x2="97.10" y2="650.90" stroke="#cfcfcf" stroke-width="0.8"/>
<text x="93.70" y="742.50" font-size="7.0" text-anchor="end" font-weight="normal" fill="#262626" stroke="#262626" stroke-width="0.1">0</text>
<text x="93.70" y="698.00" font-size="7.0" text-anchor="end" font-weight="normal" fill="#262626" stroke="#262626" stroke-width="0.1">0.5</text>
<text x="93.70" y="653.50" font-size="7.0" text-anchor="end" font-weight="normal" fill="#262626" stroke="#262626" stroke-width="0.1">1</text>
<text x="95.90" y="748.70" font-size="7.0" text-anchor="middle" font-weight="normal" fill="#262626" stroke="#262626" stroke-width="0.1">0</text>
<text x="124.05" y="748.70" font-size="7.0" text-anchor="middle" font-weight="normal" fill="#262626" stroke="#262626" stroke-width="0.1">5</text>
<text x="152.20" y="748.70" font-size="7.0" text-anchor="middle" font-weight="normal" fill="#262626" stroke="#262626" stroke-width="0.1">10</text>
<text x="180.35" y="748.70" font-size="7.0" text-anchor="middle" font-weight="normal" fill="#262626" stroke="#262626" stroke-width="0.1">15</text>
<text x="208.50" y="748.70" font-size="7.0" text-anchor="middle" font-weight="normal" fill="#262626" stroke="#262626" stroke-width="0.1">20</text>
<line x1="96.50" y1="681.34" x2="208.50" y2="681.34" stroke="#b8649a" stroke-width="1.35" stroke-dasharray="2.3,0.7"/>
<path d="M95.90,723.61 L96.83,723.71 L97.76,723.80 L98.69,723.90 L99.62,724.00 L100.55,724.09 L101.48,724.18 L102.41,724.28 L103.34,724.37 L104.28,724.47 L105.21,724.56 L106.14,724.65 L107.07,724.74 L108.00,724.84 L108.93,724.93 L109.86,725.02 L110.79,725.11 L111.72,725.20 L112.65,725.29 L113.58,725.38 L114.51,725.47 L115.44,725.56 L116.37,725.65 L117.30,725.74 L118.23,725.83 L119.16,725.92 L120.10,726.01 L121.03,726.10 L121.96,726.19 L122.89,726.28 L123.82,726.37 L124.75,726.46 L125.68,726.55 L126.61,726.65 L127.54,726.74 L128.47,726.83 L129.40,726.91 L130.33,727.00 L131.26,727.09 L132.19,727.18 L133.12,727.26 L134.05,727.34 L134.98,727.43 L135.91,727.51 L136.85,727.58 L137.78,727.66 L138.71,727.73 L139.64,727.81 L140.57,727.87 L141.50,727.94 L142.43,728.01 L143.36,728.08 L144.29,728.14 L145.22,728.21 L146.15,728.28 L147.08,728.34 L148.01,728.41 L148.94,728.47 L149.87,728.53 L150.80,728.60 L151.73,728.66 L152.67,728.72 L153.60,728.78 L154.53,728.84 L155.46,728.90 L156.39,728.96 L157.32,729.01 L158.25,729.07 L159.18,729.12 L160.11,729.18 L161.04,729.23 L161.97,729.28 L162.90,729.33 L163.83,729.37 L164.76,729.42 L165.69,729.46 L166.62,729.50 L167.55,729.54 L168.49,729.58 L169.42,729.62 L170.35,729.65 L171.28,729.68 L172.21,729.71 L173.14,729.75 L174.07,729.78 L175.00,729.81 L175.93,729.84 L176.86,729.87 L177.79,729.90 L178.72,729.93 L179.65,729.96 L180.58,729.99 L181.51,730.02 L182.44,730.05 L183.37,730.08 L184.30,730.11 L185.24,730.13 L186.17,730.16 L187.10,730.19 L188.03,730.21 L188.96,730.24 L189.89,730.26 L190.82,730.28 L191.75,730.31 L192.68,730.33 L193.61,730.35 L194.54,730.37 L195.47,730.39 L196.40,730.41 L197.33,730.43 L198.26,730.44 L199.19,730.46 L200.12,730.47 L201.06,730.49 L201.99,730.50 L202.92,730.51 L203.85,730.52 L204.78,730.53 L205.71,730.54 L206.64,730.55 L207.57,730.55 L208.50,730.55" fill="none" stroke="#35752f" stroke-width="1.15" stroke-linejoin="round"/>
<path d="M98.07,723.61 L98.99,721.36 L99.91,719.12 L100.83,716.90 L101.76,714.71 L102.68,712.53 L103.60,710.37 L104.52,708.22 L105.45,706.10 L106.37,704.00 L107.29,701.93 L108.21,699.89 L109.13,697.85 L110.06,695.84 L110.98,693.88 L111.90,691.98 L112.82,690.16 L113.75,688.40 L114.67,686.69 L115.59,685.03 L116.51,683.42 L117.43,681.84 L118.36,680.28 L119.28,678.72 L120.20,677.20 L121.12,675.76 L122.05,674.43 L122.97,673.27 L123.89,672.19 L124.81,671.18 L125.73,670.24 L126.66,669.41 L127.58,668.69 L128.50,668.08 L129.42,667.52 L130.35,667.00 L131.27,666.54 L132.19,666.13 L133.11,665.77 L134.03,665.47 L134.96,665.20 L135.88,664.93 L136.80,664.69 L137.72,664.48 L138.65,664.30 L139.57,664.16 L140.49,664.07 M140.49,664.07 L141.42,665.02 L142.35,665.94 L143.28,666.84 L144.22,667.72 L145.15,668.58 L146.08,669.41 L147.01,670.21 L147.94,671.00 L148.87,671.77 L149.81,672.51 L150.74,673.24 L151.67,673.94 L152.60,674.63 L153.53,675.30 L154.46,675.95 L155.40,676.59 L156.33,677.21 L157.26,677.81 L158.19,678.39 L159.12,678.96 L160.05,679.52 L160.99,680.06 L161.92,680.58 L162.85,681.09 L163.78,681.59 L164.71,682.08 L165.64,682.55 L166.58,683.01 L167.51,683.45 L168.44,683.89 L169.37,684.31 L170.30,684.73 L171.23,685.13 L172.17,685.52 L173.10,685.90 L174.03,686.27 L174.96,686.63 L175.89,686.98 L176.82,687.32 L177.76,687.65 L178.69,687.98 L179.62,688.29 L180.55,688.60 L181.48,688.90 L182.41,689.19 L183.35,689.47 L184.28,689.75 L185.21,690.02 L186.14,690.28 L187.07,690.53 L188.00,690.78 L188.94,691.02 L189.87,691.25 L190.80,691.48 L191.73,691.70 L192.66,691.92 L193.59,692.13 L194.53,692.34 L195.46,692.54 L196.39,692.73 L197.32,692.92 L198.25,693.10 L199.18,693.28 L200.12,693.46 L201.05,693.63 L201.98,693.79 L202.91,693.95 L203.84,694.11 L204.77,694.26 L205.71,694.41 L206.64,694.56 L207.57,694.70 L208.50,694.83" fill="none" stroke="#cc2f8a" stroke-width="1.15" stroke-linejoin="round"/>
<rect x="249.13" y="651.40" width="43.05" height="88.80" fill="#f4f4f4"/>
<path d="M247.10,651.40 L247.10,740.20 L359.80,740.20" fill="none" stroke="#cfcfcf" stroke-width="0.9"/>
<line x1="275.27" y1="740.20" x2="275.27" y2="739.00" stroke="#cfcfcf" stroke-width="0.8"/>
<line x1="303.45" y1="740.20" x2="303.45" y2="739.00" stroke="#cfcfcf" stroke-width="0.8"/>
<line x1="331.62" y1="740.20" x2="331.62" y2="739.00" stroke="#cfcfcf" stroke-width="0.8"/>
<line x1="359.80" y1="740.20" x2="359.80" y2="739.00" stroke="#cfcfcf" stroke-width="0.8"/>
<line x1="247.10" y1="695.80" x2="248.30" y2="695.80" stroke="#cfcfcf" stroke-width="0.8"/>
<line x1="247.10" y1="651.40" x2="248.30" y2="651.40" stroke="#cfcfcf" stroke-width="0.8"/>
<text x="244.90" y="742.80" font-size="7.0" text-anchor="end" font-weight="normal" fill="#262626" stroke="#262626" stroke-width="0.1">0</text>
<text x="244.90" y="698.40" font-size="7.0" text-anchor="end" font-weight="normal" fill="#262626" stroke="#262626" stroke-width="0.1">0.5</text>
<text x="244.90" y="654.00" font-size="7.0" text-anchor="end" font-weight="normal" fill="#262626" stroke="#262626" stroke-width="0.1">1</text>
<text x="247.10" y="749.00" font-size="7.0" text-anchor="middle" font-weight="normal" fill="#262626" stroke="#262626" stroke-width="0.1">0</text>
<text x="275.27" y="749.00" font-size="7.0" text-anchor="middle" font-weight="normal" fill="#262626" stroke="#262626" stroke-width="0.1">5</text>
<text x="303.45" y="749.00" font-size="7.0" text-anchor="middle" font-weight="normal" fill="#262626" stroke="#262626" stroke-width="0.1">10</text>
<text x="331.62" y="749.00" font-size="7.0" text-anchor="middle" font-weight="normal" fill="#262626" stroke="#262626" stroke-width="0.1">15</text>
<text x="359.80" y="749.00" font-size="7.0" text-anchor="middle" font-weight="normal" fill="#262626" stroke="#262626" stroke-width="0.1">20</text>
<line x1="247.70" y1="713.20" x2="359.80" y2="713.20" stroke="#b8649a" stroke-width="1.35" stroke-dasharray="2.3,0.7"/>
<path d="M247.10,724.13 L248.03,724.03 L248.96,723.93 L249.89,723.84 L250.83,723.76 L251.76,723.68 L252.69,723.61 L253.62,723.54 L254.55,723.48 L255.48,723.43 L256.41,723.38 L257.35,723.34 L258.28,723.31 L259.21,723.28 L260.14,723.26 L261.07,723.25 L262.00,723.24 L262.93,723.24 L263.87,723.25 L264.80,723.26 L265.73,723.29 L266.66,723.31 L267.59,723.35 L268.52,723.38 L269.45,723.42 L270.39,723.47 L271.32,723.51 L272.25,723.56 L273.18,723.60 L274.11,723.66 L275.04,723.72 L275.97,723.80 L276.90,723.88 L277.84,723.97 L278.77,724.07 L279.70,724.17 L280.63,724.28 L281.56,724.38 L282.49,724.48 L283.42,724.58 L284.36,724.68 L285.29,724.77 L286.22,724.85 L287.15,724.92 L288.08,724.98 L289.01,725.02 L289.94,725.07 L290.88,725.11 L291.81,725.14 L292.74,725.18 L293.67,725.21 L294.60,725.24 L295.53,725.27 L296.46,725.30 L297.40,725.33 L298.33,725.35 L299.26,725.38 L300.19,725.40 L301.12,725.43 L302.05,725.45 L302.98,725.47 L303.92,725.49 L304.85,725.52 L305.78,725.54 L306.71,725.56 L307.64,725.58 L308.57,725.60 L309.50,725.62 L310.44,725.64 L311.37,725.66 L312.30,725.68 L313.23,725.70 L314.16,725.72 L315.09,725.74 L316.02,725.76 L316.96,725.78 L317.89,725.80 L318.82,725.82 L319.75,725.84 L320.68,725.86 L321.61,725.88 L322.54,725.90 L323.48,725.92 L324.41,725.94 L325.34,725.96 L326.27,725.98 L327.20,725.99 L328.13,726.01 L329.06,726.03 L330.00,726.05 L330.93,726.06 L331.86,726.08 L332.79,726.10 L333.72,726.11 L334.65,726.13 L335.58,726.15 L336.51,726.16 L337.45,726.18 L338.38,726.19 L339.31,726.21 L340.24,726.22 L341.17,726.24 L342.10,726.25 L343.03,726.26 L343.97,726.28 L344.90,726.29 L345.83,726.30 L346.76,726.31 L347.69,726.32 L348.62,726.34 L349.55,726.35 L350.49,726.36 L351.42,726.37 L352.35,726.38 L353.28,726.38 L354.21,726.39 L355.14,726.40 L356.07,726.41 L357.01,726.42 L357.94,726.42 L358.87,726.43 L359.80,726.44" fill="none" stroke="#35752f" stroke-width="1.15" stroke-linejoin="round"/>
<path d="M249.47,723.95 L250.40,722.72 L251.34,721.35 L252.27,719.87 L253.21,718.31 L254.14,716.95 L255.08,715.25 L256.01,711.81 L256.95,702.67 L257.88,695.46 L258.82,690.83 L259.75,687.47 L260.69,684.78 L261.62,682.88 L262.56,681.46 L263.49,680.75 L264.43,680.39 L265.36,680.26 L266.30,680.63 L267.23,681.49 L268.17,682.59 L269.10,683.69 L270.04,684.70 L270.97,685.81 L271.91,686.97 L272.84,688.13 L273.78,689.26 L274.71,690.42 L275.65,691.56 L276.58,692.64 L277.52,693.69 L278.45,694.71 L279.39,695.66 L280.32,696.49 L281.26,697.21 L282.19,697.86 L283.13,698.46 L284.06,699.00 L285.00,699.50 L285.93,699.95 L286.87,700.39 L287.80,700.82 L288.74,701.23 L289.67,701.63 L290.61,702.04 L291.54,702.46 L292.48,702.94 L293.41,703.48 L294.35,704.05 L295.28,704.60 L296.22,705.09 L297.15,705.53 L298.09,705.95 L299.02,706.34 L299.96,706.68 L300.89,706.95 L301.83,707.18 L302.76,707.39 L303.70,707.57 L304.63,707.73 L305.57,707.86 L306.50,707.97 L307.44,708.08 L308.37,708.18 L309.31,708.27 L310.24,708.34 L311.18,708.39 L312.11,708.41 L313.05,708.42 L313.98,708.43 L314.92,708.44 L315.85,708.45 L316.79,708.46 L317.72,708.47 L318.66,708.48 L319.59,708.48 L320.53,708.49 L321.46,708.49 L322.40,708.49 L323.33,708.50 L324.27,708.50 L325.20,708.50 L326.14,708.50 L327.07,708.50 L328.01,708.50 L328.94,708.50 L329.88,708.50 L330.81,708.50 L331.75,708.50 L332.68,708.50 L333.62,708.50 L334.55,708.50 L335.49,708.50 L336.42,708.50 L337.36,708.50 L338.29,708.50 L339.23,708.50 L340.16,708.50 L341.10,708.50 L342.03,708.50 L342.97,708.50 L343.90,708.50 L344.84,708.50 L345.77,708.50 L346.71,708.50 L347.64,708.50 L348.58,708.50 L349.51,708.50 L350.45,708.50 L351.38,708.50 L352.32,708.50 L353.25,708.50 L354.19,708.50 L355.12,708.50 L356.06,708.50 L356.99,708.50 L357.93,708.50 L358.86,708.50 L359.80,708.50" fill="none" stroke="#cc2f8a" stroke-width="1.15" stroke-linejoin="round"/>
<rect x="391.44" y="650.20" width="43.24" height="89.30" fill="#f4f4f4"/>
<path d="M389.40,650.20 L389.40,739.50 L502.60,739.50" fill="none" stroke="#cfcfcf" stroke-width="0.9"/>
<line x1="417.70" y1="739.50" x2="417.70" y2="738.30" stroke="#cfcfcf" stroke-width="0.8"/>
<line x1="446.00" y1="739.50" x2="446.00" y2="738.30" stroke="#cfcfcf" stroke-width="0.8"/>
<line x1="474.30" y1="739.50" x2="474.30" y2="738.30" stroke="#cfcfcf" stroke-width="0.8"/>
<line x1="502.60" y1="739.50" x2="502.60" y2="738.30" stroke="#cfcfcf" stroke-width="0.8"/>
<line x1="389.40" y1="694.85" x2="390.60" y2="694.85" stroke="#cfcfcf" stroke-width="0.8"/>
<line x1="389.40" y1="650.20" x2="390.60" y2="650.20" stroke="#cfcfcf" stroke-width="0.8"/>
<text x="387.20" y="742.10" font-size="7.0" text-anchor="end" font-weight="normal" fill="#262626" stroke="#262626" stroke-width="0.1">0</text>
<text x="387.20" y="697.45" font-size="7.0" text-anchor="end" font-weight="normal" fill="#262626" stroke="#262626" stroke-width="0.1">0.5</text>
<text x="387.20" y="652.80" font-size="7.0" text-anchor="end" font-weight="normal" fill="#262626" stroke="#262626" stroke-width="0.1">1</text>
<text x="389.40" y="748.30" font-size="7.0" text-anchor="middle" font-weight="normal" fill="#262626" stroke="#262626" stroke-width="0.1">0</text>
<text x="417.70" y="748.30" font-size="7.0" text-anchor="middle" font-weight="normal" fill="#262626" stroke="#262626" stroke-width="0.1">5</text>
<text x="446.00" y="748.30" font-size="7.0" text-anchor="middle" font-weight="normal" fill="#262626" stroke="#262626" stroke-width="0.1">10</text>
<text x="474.30" y="748.30" font-size="7.0" text-anchor="middle" font-weight="normal" fill="#262626" stroke="#262626" stroke-width="0.1">15</text>
<text x="502.60" y="748.30" font-size="7.0" text-anchor="middle" font-weight="normal" fill="#262626" stroke="#262626" stroke-width="0.1">20</text>
<path d="M389.40,722.80 L390.34,724.37 L391.27,725.85 L392.21,727.23 L393.14,728.48 L394.08,729.59 L395.01,730.59 L395.95,731.55 L396.88,732.44 L397.82,733.22 L398.76,733.83 L399.69,734.25 L400.63,734.59 L401.56,734.89 L402.50,735.14 L403.43,735.32 L404.37,735.39 L405.30,735.38 L406.24,735.35 L407.18,735.30 L408.11,735.23 L409.05,735.15 L409.98,735.05 L410.92,734.96 L411.85,734.86 L412.79,734.76 L413.72,734.67 L414.66,734.59 L415.60,734.52 L416.53,734.44 L417.47,734.35 L418.40,734.27 L419.34,734.19 L420.27,734.10 L421.21,734.02 L422.14,733.94 L423.08,733.86 L424.01,733.79 L424.95,733.73 L425.89,733.67 L426.82,733.62 L427.76,733.57 L428.69,733.53 L429.63,733.48 L430.56,733.44 L431.50,733.39 L432.43,733.35 L433.37,733.32 L434.31,733.29 L435.24,733.27 L436.18,733.25 L437.11,733.25 L438.05,733.25 L438.98,733.27 L439.92,733.29 L440.85,733.33 L441.79,733.36 L442.73,733.41 L443.66,733.45 L444.60,733.49 L445.53,733.54 L446.47,733.58 L447.40,733.62 L448.34,733.65 L449.27,733.69 L450.21,733.73 L451.15,733.77 L452.08,733.80 L453.02,733.84 L453.95,733.88 L454.89,733.92 L455.82,733.96 L456.76,734.01 L457.69,734.05 L458.63,734.09 L459.57,734.13 L460.50,734.17 L461.44,734.21 L462.37,734.25 L463.31,734.29 L464.24,734.32 L465.18,734.36 L466.11,734.40 L467.05,734.43 L467.99,734.47 L468.92,734.50 L469.86,734.54 L470.79,734.57 L471.73,734.60 L472.66,734.63 L473.60,734.66 L474.53,734.68 L475.47,734.71 L476.40,734.74 L477.34,734.77 L478.28,734.80 L479.21,734.83 L480.15,734.85 L481.08,734.88 L482.02,734.91 L482.95,734.93 L483.89,734.96 L484.82,734.99 L485.76,735.01 L486.70,735.04 L487.63,735.06 L488.57,735.09 L489.50,735.11 L490.44,735.13 L491.37,735.16 L492.31,735.18 L493.24,735.20 L494.18,735.22 L495.12,735.24 L496.05,735.26 L496.99,735.28 L497.92,735.30 L498.86,735.32 L499.79,735.34 L500.73,735.36 L501.66,735.38 L502.60,735.39" fill="none" stroke="#cc2f8a" stroke-width="1.15" stroke-linejoin="round"/>
<path d="M389.40,722.80 L390.34,724.38 L391.27,725.88 L392.21,727.26 L393.14,728.53 L394.08,729.67 L395.01,730.69 L395.95,731.64 L396.88,732.53 L397.82,733.32 L398.76,734.00 L399.69,734.56 L400.63,735.07 L401.56,735.55 L402.50,735.98 L403.43,736.38 L404.37,736.72 L405.30,737.00 L406.24,737.21 L407.18,737.37 L408.11,737.51 L409.05,737.65 L409.98,737.77 L410.92,737.89 L411.85,737.99 L412.79,738.08 L413.72,738.16 L414.66,738.23 L415.60,738.28 L416.53,738.32 L417.47,738.34 L418.40,738.34 L419.34,738.35 L420.27,738.36 L421.21,738.37 L422.14,738.37 L423.08,738.38 L424.01,738.39 L424.95,738.39 L425.89,738.40 L426.82,738.41 L427.76,738.41 L428.69,738.42 L429.63,738.42 L430.56,738.43 L431.50,738.44 L432.43,738.44 L433.37,738.45 L434.31,738.45 L435.24,738.46 L436.18,738.46 L437.11,738.47 L438.05,738.47 L438.98,738.48 L439.92,738.48 L440.85,738.49 L441.79,738.49 L442.73,738.50 L443.66,738.50 L444.60,738.50 L445.53,738.51 L446.47,738.51 L447.40,738.52 L448.34,738.52 L449.27,738.52 L450.21,738.53 L451.15,738.53 L452.08,738.53 L453.02,738.54 L453.95,738.54 L454.89,738.54 L455.82,738.55 L456.76,738.55 L457.69,738.55 L458.63,738.55 L459.57,738.56 L460.50,738.56 L461.44,738.56 L462.37,738.56 L463.31,738.57 L464.24,738.57 L465.18,738.57 L466.11,738.57 L467.05,738.57 L467.99,738.58 L468.92,738.58 L469.86,738.58 L470.79,738.58 L471.73,738.58 L472.66,738.59 L473.60,738.59 L474.53,738.59 L475.47,738.59 L476.40,738.59 L477.34,738.59 L478.28,738.59 L479.21,738.59 L480.15,738.60 L481.08,738.60 L482.02,738.60 L482.95,738.60 L483.89,738.60 L484.82,738.60 L485.76,738.60 L486.70,738.60 L487.63,738.60 L488.57,738.60 L489.50,738.60 L490.44,738.60 L491.37,738.60 L492.31,738.60 L493.24,738.61 L494.18,738.61 L495.12,738.61 L496.05,738.61 L496.99,738.61 L497.92,738.61 L498.86,738.61 L499.79,738.61 L500.73,738.61 L501.66,738.61 L502.60,738.61" fill="none" stroke="#35752f" stroke-width="1.15" stroke-linejoin="round"/>
<rect x="541.23" y="651.60" width="43.17" height="88.50" fill="#f4f4f4"/>
<path d="M539.20,651.60 L539.20,740.10 L652.20,740.10" fill="none" stroke="#cfcfcf" stroke-width="0.9"/>
<line x1="567.45" y1="740.10" x2="567.45" y2="738.90" stroke="#cfcfcf" stroke-width="0.8"/>
<line x1="595.70" y1="740.10" x2="595.70" y2="738.90" stroke="#cfcfcf" stroke-width="0.8"/>
<line x1="623.95" y1="740.10" x2="623.95" y2="738.90" stroke="#cfcfcf" stroke-width="0.8"/>
<line x1="652.20" y1="740.10" x2="652.20" y2="738.90" stroke="#cfcfcf" stroke-width="0.8"/>
<line x1="539.20" y1="695.85" x2="540.40" y2="695.85" stroke="#cfcfcf" stroke-width="0.8"/>
<line x1="539.20" y1="651.60" x2="540.40" y2="651.60" stroke="#cfcfcf" stroke-width="0.8"/>
<text x="537.00" y="742.70" font-size="7.0" text-anchor="end" font-weight="normal" fill="#262626" stroke="#262626" stroke-width="0.1">0</text>
<text x="537.00" y="698.45" font-size="7.0" text-anchor="end" font-weight="normal" fill="#262626" stroke="#262626" stroke-width="0.1">0.5</text>
<text x="537.00" y="654.20" font-size="7.0" text-anchor="end" font-weight="normal" fill="#262626" stroke="#262626" stroke-width="0.1">1</text>
<text x="539.20" y="748.90" font-size="7.0" text-anchor="middle" font-weight="normal" fill="#262626" stroke="#262626" stroke-width="0.1">0</text>
<text x="567.45" y="748.90" font-size="7.0" text-anchor="middle" font-weight="normal" fill="#262626" stroke="#262626" stroke-width="0.1">5</text>
<text x="595.70" y="748.90" font-size="7.0" text-anchor="middle" font-weight="normal" fill="#262626" stroke="#262626" stroke-width="0.1">10</text>
<text x="623.95" y="748.90" font-size="7.0" text-anchor="middle" font-weight="normal" fill="#262626" stroke="#262626" stroke-width="0.1">15</text>
<text x="652.20" y="748.90" font-size="7.0" text-anchor="middle" font-weight="normal" fill="#262626" stroke="#262626" stroke-width="0.1">20</text>
<line x1="550.50" y1="651.60" x2="550.50" y2="682.75" stroke="#f0a4d2" stroke-width="0.9"/>
<line x1="549.60" y1="651.60" x2="551.40" y2="651.60" stroke="#f0a4d2" stroke-width="0.8"/>
<line x1="549.60" y1="682.75" x2="551.40" y2="682.75" stroke="#f0a4d2" stroke-width="0.8"/>
<circle cx="550.50" cy="667.18" r="1.5" fill="#f0a4d2"/>
<line x1="556.15" y1="659.03" x2="556.15" y2="680.54" stroke="#f0a4d2" stroke-width="0.9"/>
<line x1="555.25" y1="659.03" x2="557.05" y2="659.03" stroke="#f0a4d2" stroke-width="0.8"/>
<line x1="555.25" y1="680.54" x2="557.05" y2="680.54" stroke="#f0a4d2" stroke-width="0.8"/>
<circle cx="556.15" cy="669.48" r="1.5" fill="#f0a4d2"/>
<line x1="561.80" y1="675.14" x2="561.80" y2="695.50" stroke="#f0a4d2" stroke-width="0.9"/>
<line x1="560.90" y1="675.14" x2="562.70" y2="675.14" stroke="#f0a4d2" stroke-width="0.8"/>
<line x1="560.90" y1="695.50" x2="562.70" y2="695.50" stroke="#f0a4d2" stroke-width="0.8"/>
<circle cx="561.80" cy="685.32" r="1.5" fill="#f0a4d2"/>
<line x1="567.45" y1="703.73" x2="567.45" y2="710.28" stroke="#f0a4d2" stroke-width="0.9"/>
<line x1="566.55" y1="703.73" x2="568.35" y2="703.73" stroke="#f0a4d2" stroke-width="0.8"/>
<line x1="566.55" y1="710.28" x2="568.35" y2="710.28" stroke="#f0a4d2" stroke-width="0.8"/>
<circle cx="567.45" cy="707.09" r="1.5" fill="#f0a4d2"/>
<line x1="573.10" y1="705.67" x2="573.10" y2="712.58" stroke="#f0a4d2" stroke-width="0.9"/>
<line x1="572.20" y1="705.67" x2="574.00" y2="705.67" stroke="#f0a4d2" stroke-width="0.8"/>
<line x1="572.20" y1="712.58" x2="574.00" y2="712.58" stroke="#f0a4d2" stroke-width="0.8"/>
<circle cx="573.10" cy="709.12" r="1.5" fill="#f0a4d2"/>
<line x1="578.75" y1="695.50" x2="578.75" y2="705.67" stroke="#f0a4d2" stroke-width="0.9"/>
<line x1="577.85" y1="695.50" x2="579.65" y2="695.50" stroke="#f0a4d2" stroke-width="0.8"/>
<line x1="577.85" y1="705.67" x2="579.65" y2="705.67" stroke="#f0a4d2" stroke-width="0.8"/>
<circle cx="578.75" cy="700.63" r="1.5" fill="#f0a4d2"/>
<line x1="584.40" y1="707.36" x2="584.40" y2="712.22" stroke="#f0a4d2" stroke-width="0.9"/>
<line x1="583.50" y1="707.36" x2="585.30" y2="707.36" stroke="#f0a4d2" stroke-width="0.8"/>
<line x1="583.50" y1="712.22" x2="585.30" y2="712.22" stroke="#f0a4d2" stroke-width="0.8"/>
<circle cx="584.40" cy="709.83" r="1.5" fill="#f0a4d2"/>
<line x1="607.00" y1="713.90" x2="607.00" y2="721.60" stroke="#f0a4d2" stroke-width="0.9"/>
<line x1="606.10" y1="713.90" x2="607.90" y2="713.90" stroke="#f0a4d2" stroke-width="0.8"/>
<line x1="606.10" y1="721.60" x2="607.90" y2="721.60" stroke="#f0a4d2" stroke-width="0.8"/>
<circle cx="607.00" cy="717.80" r="1.5" fill="#f0a4d2"/>
<line x1="550.50" y1="692.75" x2="550.50" y2="697.62" stroke="#a9dc78" stroke-width="0.9"/>
<line x1="549.60" y1="692.75" x2="551.40" y2="692.75" stroke="#a9dc78" stroke-width="0.8"/>
<line x1="549.60" y1="697.62" x2="551.40" y2="697.62" stroke="#a9dc78" stroke-width="0.8"/>
<circle cx="550.50" cy="695.23" r="1.5" fill="#a9dc78"/>
<line x1="556.15" y1="703.82" x2="556.15" y2="707.80" stroke="#a9dc78" stroke-width="0.9"/>
<line x1="555.25" y1="703.82" x2="557.05" y2="703.82" stroke="#a9dc78" stroke-width="0.8"/>
<line x1="555.25" y1="707.80" x2="557.05" y2="707.80" stroke="#a9dc78" stroke-width="0.8"/>
<circle cx="556.15" cy="705.67" r="1.5" fill="#a9dc78"/>
<line x1="561.80" y1="706.47" x2="561.80" y2="723.64" stroke="#a9dc78" stroke-width="0.9"/>
<line x1="560.90" y1="706.47" x2="562.70" y2="706.47" stroke="#a9dc78" stroke-width="0.8"/>
<line x1="560.90" y1="723.64" x2="562.70" y2="723.64" stroke="#a9dc78" stroke-width="0.8"/>
<circle cx="561.80" cy="714.88" r="1.5" fill="#a9dc78"/>
<line x1="567.45" y1="722.40" x2="567.45" y2="725.50" stroke="#a9dc78" stroke-width="0.9"/>
<line x1="566.55" y1="722.40" x2="568.35" y2="722.40" stroke="#a9dc78" stroke-width="0.8"/>
<line x1="566.55" y1="725.50" x2="568.35" y2="725.50" stroke="#a9dc78" stroke-width="0.8"/>
<circle cx="567.45" cy="723.82" r="1.5" fill="#a9dc78"/>
<line x1="573.10" y1="715.41" x2="573.10" y2="726.21" stroke="#a9dc78" stroke-width="0.9"/>
<line x1="572.20" y1="715.41" x2="574.00" y2="715.41" stroke="#a9dc78" stroke-width="0.8"/>
<line x1="572.20" y1="726.21" x2="574.00" y2="726.21" stroke="#a9dc78" stroke-width="0.8"/>
<circle cx="573.10" cy="720.81" r="1.5" fill="#a9dc78"/>
<line x1="578.75" y1="722.40" x2="578.75" y2="725.06" stroke="#a9dc78" stroke-width="0.9"/>
<line x1="577.85" y1="722.40" x2="579.65" y2="722.40" stroke="#a9dc78" stroke-width="0.8"/>
<line x1="577.85" y1="725.06" x2="579.65" y2="725.06" stroke="#a9dc78" stroke-width="0.8"/>
<circle cx="578.75" cy="723.64" r="1.5" fill="#a9dc78"/>
<line x1="584.40" y1="725.94" x2="584.40" y2="728.15" stroke="#a9dc78" stroke-width="0.9"/>
<line x1="583.50" y1="725.94" x2="585.30" y2="725.94" stroke="#a9dc78" stroke-width="0.8"/>
<line x1="583.50" y1="728.15" x2="585.30" y2="728.15" stroke="#a9dc78" stroke-width="0.8"/>
<circle cx="584.40" cy="726.91" r="1.5" fill="#a9dc78"/>
<line x1="607.00" y1="722.67" x2="607.00" y2="724.17" stroke="#a9dc78" stroke-width="0.9"/>
<line x1="606.10" y1="722.67" x2="607.90" y2="722.67" stroke="#a9dc78" stroke-width="0.8"/>
<line x1="606.10" y1="724.17" x2="607.90" y2="724.17" stroke="#a9dc78" stroke-width="0.8"/>
<circle cx="607.00" cy="723.37" r="1.5" fill="#a9dc78"/>
<path d="M539.20,651.60 L540.13,651.93 L541.07,652.64 L542.00,654.02 L542.94,655.84 L543.87,658.15 L544.80,660.54 L545.74,662.87 L546.67,665.32 L547.60,668.34 L548.54,671.01 L549.47,672.48 L550.41,673.25 L551.34,673.54 L552.27,673.74 L553.21,673.89 L554.14,674.07 L555.08,674.57 L556.01,675.39 L556.94,676.44 L557.88,677.87 L558.81,679.46 L559.75,681.02 L560.68,682.64 L561.61,684.45 L562.55,686.71 L563.48,689.14 L564.41,691.52 L565.35,693.47 L566.28,694.98 L567.22,696.32 L568.15,697.51 L569.08,698.59 L570.02,699.57 L570.95,700.49 L571.89,701.35 L572.82,702.17 L573.75,702.93 L574.69,703.65 L575.62,704.33 L576.56,704.98 L577.49,705.59 L578.42,706.17 L579.36,706.73 L580.29,707.27 L581.22,707.80 L582.16,708.30 L583.09,708.78 L584.03,709.24 L584.96,709.66 L585.89,710.05 L586.83,710.40 L587.76,710.72 L588.70,711.03 L589.63,711.32 L590.56,711.61 L591.50,711.89 L592.43,712.16 L593.37,712.42 L594.30,712.66 L595.23,712.89 L596.17,713.11 L597.10,713.31 L598.03,713.49 L598.97,713.66 L599.90,713.80 L600.84,713.93 L601.77,714.04 L602.70,714.15 L603.64,714.25 L604.57,714.35 L605.51,714.44 L606.44,714.53 L607.37,714.62 L608.31,714.71 L609.24,714.78 L610.18,714.86 L611.11,714.93 L612.04,714.99 L612.98,715.05 L613.91,715.10 L614.84,715.14 L615.78,715.17 L616.71,715.20 L617.65,715.22 L618.58,715.23 L619.51,715.24 L620.45,715.25 L621.38,715.26 L622.32,715.27 L623.25,715.28 L624.18,715.29 L625.12,715.30 L626.05,715.30 L626.99,715.31 L627.92,715.32 L628.85,715.33 L629.79,715.33 L630.72,715.34 L631.65,715.35 L632.59,715.35 L633.52,715.36 L634.46,715.36 L635.39,715.37 L636.32,715.37 L637.26,715.38 L638.19,715.38 L639.13,715.38 L640.06,715.39 L640.99,715.39 L641.93,715.39 L642.86,715.40 L643.80,715.40 L644.73,715.40 L645.66,715.40 L646.60,715.40 L647.53,715.41 L648.46,715.41 L649.40,715.41 L650.33,715.41 L651.27,715.41 L652.20,715.41" fill="none" stroke="#cc2f8a" stroke-width="1.15" stroke-linejoin="round"/>
<path d="M539.20,651.60 L540.13,651.93 L541.07,652.64 L542.00,654.02 L542.94,655.80 L543.87,658.01 L544.80,660.64 L545.74,664.03 L546.67,667.80 L547.60,671.44 L548.54,675.24 L549.47,679.61 L550.41,684.62 L551.34,689.66 L552.27,694.60 L553.21,699.72 L554.14,704.96 L555.08,708.25 L556.01,710.76 L556.94,712.82 L557.88,714.51 L558.81,715.91 L559.75,717.16 L560.68,718.29 L561.61,719.30 L562.55,720.19 L563.48,720.95 L564.41,721.57 L565.35,722.09 L566.28,722.57 L567.22,723.00 L568.15,723.40 L569.08,723.76 L570.02,724.08 L570.95,724.36 L571.89,724.60 L572.82,724.79 L573.75,724.96 L574.69,725.12 L575.62,725.26 L576.56,725.40 L577.49,725.53 L578.42,725.65 L579.36,725.76 L580.29,725.86 L581.22,725.95 L582.16,726.03 L583.09,726.10 L584.03,726.16 L584.96,726.21 L585.89,726.25 L586.83,726.29 L587.76,726.33 L588.70,726.37 L589.63,726.40 L590.56,726.44 L591.50,726.47 L592.43,726.50 L593.37,726.53 L594.30,726.56 L595.23,726.59 L596.17,726.62 L597.10,726.64 L598.03,726.67 L598.97,726.69 L599.90,726.71 L600.84,726.73 L601.77,726.75 L602.70,726.77 L603.64,726.79 L604.57,726.81 L605.51,726.82 L606.44,726.84 L607.37,726.85 L608.31,726.87 L609.24,726.88 L610.18,726.89 L611.11,726.91 L612.04,726.92 L612.98,726.93 L613.91,726.95 L614.84,726.96 L615.78,726.97 L616.71,726.98 L617.65,727.00 L618.58,727.01 L619.51,727.02 L620.45,727.03 L621.38,727.04 L622.32,727.05 L623.25,727.07 L624.18,727.08 L625.12,727.09 L626.05,727.10 L626.99,727.11 L627.92,727.12 L628.85,727.13 L629.79,727.14 L630.72,727.15 L631.65,727.16 L632.59,727.17 L633.52,727.18 L634.46,727.18 L635.39,727.19 L636.32,727.20 L637.26,727.21 L638.19,727.21 L639.13,727.22 L640.06,727.23 L640.99,727.23 L641.93,727.24 L642.86,727.24 L643.80,727.25 L644.73,727.25 L645.66,727.26 L646.60,727.26 L647.53,727.26 L648.46,727.26 L649.40,727.27 L650.33,727.27 L651.27,727.27 L652.20,727.27" fill="none" stroke="#35752f" stroke-width="1.15" stroke-linejoin="round"/>
<rect x="96.73" y="789.20" width="65.77" height="88.90" fill="#f4f4f4"/>
<path d="M94.70,789.20 L94.70,878.10 L207.70,878.10" fill="none" stroke="#cfcfcf" stroke-width="0.9"/>
<line x1="122.95" y1="878.10" x2="122.95" y2="876.90" stroke="#cfcfcf" stroke-width="0.8"/>
<line x1="151.20" y1="878.10" x2="151.20" y2="876.90" stroke="#cfcfcf" stroke-width="0.8"/>
<line x1="179.45" y1="878.10" x2="179.45" y2="876.90" stroke="#cfcfcf" stroke-width="0.8"/>
<line x1="207.70" y1="878.10" x2="207.70" y2="876.90" stroke="#cfcfcf" stroke-width="0.8"/>
<line x1="94.70" y1="833.65" x2="95.90" y2="833.65" stroke="#cfcfcf" stroke-width="0.8"/>
<line x1="94.70" y1="789.20" x2="95.90" y2="789.20" stroke="#cfcfcf" stroke-width="0.8"/>
<text x="92.50" y="880.70" font-size="7.0" text-anchor="end" font-weight="normal" fill="#262626" stroke="#262626" stroke-width="0.1">0</text>
<text x="92.50" y="836.25" font-size="7.0" text-anchor="end" font-weight="normal" fill="#262626" stroke="#262626" stroke-width="0.1">0.5</text>
<text x="92.50" y="791.80" font-size="7.0" text-anchor="end" font-weight="normal" fill="#262626" stroke="#262626" stroke-width="0.1">1</text>
<text x="94.70" y="886.90" font-size="7.0" text-anchor="middle" font-weight="normal" fill="#262626" stroke="#262626" stroke-width="0.1">0</text>
<text x="122.95" y="886.90" font-size="7.0" text-anchor="middle" font-weight="normal" fill="#262626" stroke="#262626" stroke-width="0.1">5</text>
<text x="151.20" y="886.90" font-size="7.0" text-anchor="middle" font-weight="normal" fill="#262626" stroke="#262626" stroke-width="0.1">10</text>
<text x="179.45" y="886.90" font-size="7.0" text-anchor="middle" font-weight="normal" fill="#262626" stroke="#262626" stroke-width="0.1">15</text>
<text x="207.70" y="886.90" font-size="7.0" text-anchor="middle" font-weight="normal" fill="#262626" stroke="#262626" stroke-width="0.1">20</text>
<line x1="95.30" y1="818.80" x2="207.70" y2="818.80" stroke="#b8649a" stroke-width="1.35" stroke-dasharray="2.3,0.7"/>
<path d="M94.70,861.30 L95.63,861.43 L96.57,861.56 L97.50,861.68 L98.44,861.81 L99.37,861.93 L100.30,862.06 L101.24,862.18 L102.17,862.30 L103.10,862.42 L104.04,862.54 L104.97,862.66 L105.91,862.78 L106.84,862.89 L107.77,863.00 L108.71,863.12 L109.64,863.23 L110.58,863.33 L111.51,863.44 L112.44,863.55 L113.38,863.65 L114.31,863.75 L115.25,863.85 L116.18,863.95 L117.11,864.04 L118.05,864.14 L118.98,864.23 L119.91,864.32 L120.85,864.41 L121.78,864.49 L122.72,864.58 L123.65,864.67 L124.58,864.75 L125.52,864.83 L126.45,864.91 L127.39,865.00 L128.32,865.08 L129.25,865.16 L130.19,865.23 L131.12,865.31 L132.06,865.39 L132.99,865.46 L133.92,865.54 L134.86,865.61 L135.79,865.69 L136.72,865.76 L137.66,865.83 L138.59,865.90 L139.53,865.96 L140.46,866.03 L141.39,866.10 L142.33,866.16 L143.26,866.22 L144.20,866.28 L145.13,866.35 L146.06,866.40 L147.00,866.46 L147.93,866.52 L148.87,866.57 L149.80,866.63 L150.73,866.68 L151.67,866.73 L152.60,866.78 L153.53,866.83 L154.47,866.87 L155.40,866.92 L156.34,866.97 L157.27,867.01 L158.20,867.06 L159.14,867.10 L160.07,867.15 L161.01,867.19 L161.94,867.23 L162.87,867.27 L163.81,867.31 L164.74,867.35 L165.68,867.39 L166.61,867.43 L167.54,867.47 L168.48,867.50 L169.41,867.54 L170.34,867.58 L171.28,867.61 L172.21,867.64 L173.15,867.68 L174.08,867.71 L175.01,867.74 L175.95,867.77 L176.88,867.80 L177.82,867.83 L178.75,867.86 L179.68,867.88 L180.62,867.91 L181.55,867.94 L182.49,867.96 L183.42,867.99 L184.35,868.01 L185.29,868.04 L186.22,868.06 L187.15,868.09 L188.09,868.11 L189.02,868.14 L189.96,868.16 L190.89,868.18 L191.82,868.21 L192.76,868.23 L193.69,868.25 L194.63,868.27 L195.56,868.29 L196.49,868.31 L197.43,868.33 L198.36,868.35 L199.30,868.37 L200.23,868.38 L201.16,868.40 L202.10,868.42 L203.03,868.43 L203.96,868.45 L204.90,868.46 L205.83,868.47 L206.77,868.49 L207.70,868.50" fill="none" stroke="#35752f" stroke-width="1.15" stroke-linejoin="round"/>
<path d="M97.30,861.21 L98.23,859.13 L99.17,857.03 L100.11,854.94 L101.04,852.83 L101.98,850.71 L102.91,848.59 L103.85,846.43 L104.78,844.27 L105.72,842.11 L106.65,839.97 L107.59,837.88 L108.52,835.80 L109.46,833.73 L110.40,831.69 L111.33,829.70 L112.27,827.79 L113.20,825.97 L114.14,824.19 L115.07,822.46 L116.01,820.80 L116.94,819.22 L117.88,817.71 L118.82,816.23 L119.75,814.80 L120.69,813.44 L121.62,812.19 L122.56,811.07 L123.49,810.10 L124.43,809.21 L125.36,808.39 L126.30,807.64 L127.23,806.94 L128.17,806.29 L129.11,805.65 L130.04,805.03 L130.98,804.45 L131.91,803.93 L132.85,803.48 L133.78,803.12 L134.72,802.82 L135.65,802.53 L136.59,802.27 L137.52,802.04 L138.46,801.85 L139.40,801.68 L140.33,801.55 L141.27,801.45 L142.20,801.35 L143.14,801.26 L144.07,801.19 L145.01,801.12 L145.94,801.06 L146.88,801.00 L147.81,800.96 L148.75,800.92 L149.69,800.88 L150.62,800.85 L151.56,800.81 L152.49,800.78 L153.43,800.75 L154.36,800.72 L155.30,800.69 L156.23,800.67 L157.17,800.65 L158.11,800.63 L159.04,800.61 L159.98,800.60 L160.91,800.59 L161.85,800.58 L162.78,800.58 M162.78,800.58 L163.72,801.57 L164.65,802.55 L165.59,803.49 L166.53,804.41 L167.46,805.31 L168.40,806.18 L169.33,807.03 L170.27,807.85 L171.20,808.65 L172.14,809.44 L173.08,810.20 L174.01,810.94 L174.95,811.66 L175.88,812.36 L176.82,813.05 L177.75,813.71 L178.69,814.36 L179.63,814.99 L180.56,815.61 L181.50,816.20 L182.43,816.78 L183.37,817.35 L184.31,817.90 L185.24,818.44 L186.18,818.96 L187.11,819.47 L188.05,819.96 L188.98,820.45 L189.92,820.91 L190.86,821.37 L191.79,821.82 L192.73,822.25 L193.66,822.67 L194.60,823.08 L195.53,823.48 L196.47,823.87 L197.41,824.24 L198.34,824.61 L199.28,824.97 L200.21,825.32 L201.15,825.66 L202.09,825.99 L203.02,826.31 L203.96,826.62 L204.89,826.93 L205.83,827.23 L206.76,827.52 L207.70,827.80" fill="none" stroke="#cc2f8a" stroke-width="1.15" stroke-linejoin="round"/>
<rect x="248.93" y="789.20" width="65.65" height="89.50" fill="#f4f4f4"/>
<path d="M246.90,789.20 L246.90,878.70 L359.70,878.70" fill="none" stroke="#cfcfcf" stroke-width="0.9"/>
<line x1="275.10" y1="878.70" x2="275.10" y2="877.50" stroke="#cfcfcf" stroke-width="0.8"/>
<line x1="303.30" y1="878.70" x2="303.30" y2="877.50" stroke="#cfcfcf" stroke-width="0.8"/>
<line x1="331.50" y1="878.70" x2="331.50" y2="877.50" stroke="#cfcfcf" stroke-width="0.8"/>
<line x1="359.70" y1="878.70" x2="359.70" y2="877.50" stroke="#cfcfcf" stroke-width="0.8"/>
<line x1="246.90" y1="833.95" x2="248.10" y2="833.95" stroke="#cfcfcf" stroke-width="0.8"/>
<line x1="246.90" y1="789.20" x2="248.10" y2="789.20" stroke="#cfcfcf" stroke-width="0.8"/>
<text x="244.70" y="881.30" font-size="7.0" text-anchor="end" font-weight="normal" fill="#262626" stroke="#262626" stroke-width="0.1">0</text>
<text x="244.70" y="836.55" font-size="7.0" text-anchor="end" font-weight="normal" fill="#262626" stroke="#262626" stroke-width="0.1">0.5</text>
<text x="244.70" y="791.80" font-size="7.0" text-anchor="end" font-weight="normal" fill="#262626" stroke="#262626" stroke-width="0.1">1</text>
<text x="246.90" y="887.50" font-size="7.0" text-anchor="middle" font-weight="normal" fill="#262626" stroke="#262626" stroke-width="0.1">0</text>
<text x="275.10" y="887.50" font-size="7.0" text-anchor="middle" font-weight="normal" fill="#262626" stroke="#262626" stroke-width="0.1">5</text>
<text x="303.30" y="887.50" font-size="7.0" text-anchor="middle" font-weight="normal" fill="#262626" stroke="#262626" stroke-width="0.1">10</text>
<text x="331.50" y="887.50" font-size="7.0" text-anchor="middle" font-weight="normal" fill="#262626" stroke="#262626" stroke-width="0.1">15</text>
<text x="359.70" y="887.50" font-size="7.0" text-anchor="middle" font-weight="normal" fill="#262626" stroke="#262626" stroke-width="0.1">20</text>
<line x1="247.50" y1="851.49" x2="359.70" y2="851.49" stroke="#b8649a" stroke-width="1.35" stroke-dasharray="2.3,0.7"/>
<line x1="252.54" y1="853.19" x2="252.54" y2="855.88" stroke="#f0a4d2" stroke-width="0.9"/>
<line x1="251.64" y1="853.19" x2="253.44" y2="853.19" stroke="#f0a4d2" stroke-width="0.8"/>
<line x1="251.64" y1="855.88" x2="253.44" y2="855.88" stroke="#f0a4d2" stroke-width="0.8"/>
<circle cx="252.54" cy="854.54" r="1.5" fill="#f0a4d2"/>
<line x1="258.18" y1="843.17" x2="258.18" y2="848.36" stroke="#f0a4d2" stroke-width="0.9"/>
<line x1="257.28" y1="843.17" x2="259.08" y2="843.17" stroke="#f0a4d2" stroke-width="0.8"/>
<line x1="257.28" y1="848.36" x2="259.08" y2="848.36" stroke="#f0a4d2" stroke-width="0.8"/>
<circle cx="258.18" cy="845.76" r="1.5" fill="#f0a4d2"/>
<line x1="263.82" y1="789.29" x2="263.82" y2="809.52" stroke="#f0a4d2" stroke-width="0.9"/>
<line x1="262.92" y1="789.29" x2="264.72" y2="789.29" stroke="#f0a4d2" stroke-width="0.8"/>
<line x1="262.92" y1="809.52" x2="264.72" y2="809.52" stroke="#f0a4d2" stroke-width="0.8"/>
<circle cx="263.82" cy="799.49" r="1.5" fill="#f0a4d2"/>
<line x1="269.46" y1="827.86" x2="269.46" y2="835.56" stroke="#f0a4d2" stroke-width="0.9"/>
<line x1="268.56" y1="827.86" x2="270.36" y2="827.86" stroke="#f0a4d2" stroke-width="0.8"/>
<line x1="268.56" y1="835.56" x2="270.36" y2="835.56" stroke="#f0a4d2" stroke-width="0.8"/>
<circle cx="269.46" cy="831.71" r="1.5" fill="#f0a4d2"/>
<line x1="275.10" y1="820.26" x2="275.10" y2="827.86" stroke="#f0a4d2" stroke-width="0.9"/>
<line x1="274.20" y1="820.26" x2="276.00" y2="820.26" stroke="#f0a4d2" stroke-width="0.8"/>
<line x1="274.20" y1="827.86" x2="276.00" y2="827.86" stroke="#f0a4d2" stroke-width="0.8"/>
<circle cx="275.10" cy="824.02" r="1.5" fill="#f0a4d2"/>
<line x1="280.74" y1="835.56" x2="280.74" y2="841.20" stroke="#f0a4d2" stroke-width="0.9"/>
<line x1="279.84" y1="835.56" x2="281.64" y2="835.56" stroke="#f0a4d2" stroke-width="0.8"/>
<line x1="279.84" y1="841.20" x2="281.64" y2="841.20" stroke="#f0a4d2" stroke-width="0.8"/>
<circle cx="280.74" cy="838.34" r="1.5" fill="#f0a4d2"/>
<line x1="286.38" y1="827.06" x2="286.38" y2="842.36" stroke="#f0a4d2" stroke-width="0.9"/>
<line x1="285.48" y1="827.06" x2="287.28" y2="827.06" stroke="#f0a4d2" stroke-width="0.8"/>
<line x1="285.48" y1="842.36" x2="287.28" y2="842.36" stroke="#f0a4d2" stroke-width="0.8"/>
<circle cx="286.38" cy="834.85" r="1.5" fill="#f0a4d2"/>
<line x1="292.02" y1="842.72" x2="292.02" y2="848.63" stroke="#f0a4d2" stroke-width="0.9"/>
<line x1="291.12" y1="842.72" x2="292.92" y2="842.72" stroke="#f0a4d2" stroke-width="0.8"/>
<line x1="291.12" y1="848.63" x2="292.92" y2="848.63" stroke="#f0a4d2" stroke-width="0.8"/>
<circle cx="292.02" cy="845.14" r="1.5" fill="#f0a4d2"/>
<line x1="303.30" y1="840.66" x2="303.30" y2="847.82" stroke="#f0a4d2" stroke-width="0.9"/>
<line x1="302.40" y1="840.66" x2="304.20" y2="840.66" stroke="#f0a4d2" stroke-width="0.8"/>
<line x1="302.40" y1="847.82" x2="304.20" y2="847.82" stroke="#f0a4d2" stroke-width="0.8"/>
<circle cx="303.30" cy="844.06" r="1.5" fill="#f0a4d2"/>
<line x1="314.58" y1="833.23" x2="314.58" y2="845.32" stroke="#f0a4d2" stroke-width="0.9"/>
<line x1="313.68" y1="833.23" x2="315.48" y2="833.23" stroke="#f0a4d2" stroke-width="0.8"/>
<line x1="313.68" y1="845.32" x2="315.48" y2="845.32" stroke="#f0a4d2" stroke-width="0.8"/>
<circle cx="314.58" cy="839.50" r="1.5" fill="#f0a4d2"/>
<line x1="337.14" y1="844.42" x2="337.14" y2="850.51" stroke="#f0a4d2" stroke-width="0.9"/>
<line x1="336.24" y1="844.42" x2="338.04" y2="844.42" stroke="#f0a4d2" stroke-width="0.8"/>
<line x1="336.24" y1="850.51" x2="338.04" y2="850.51" stroke="#f0a4d2" stroke-width="0.8"/>
<circle cx="337.14" cy="847.38" r="1.5" fill="#f0a4d2"/>
<line x1="252.54" y1="859.91" x2="252.54" y2="863.49" stroke="#a9dc78" stroke-width="0.9"/>
<line x1="251.64" y1="859.91" x2="253.44" y2="859.91" stroke="#a9dc78" stroke-width="0.8"/>
<line x1="251.64" y1="863.49" x2="253.44" y2="863.49" stroke="#a9dc78" stroke-width="0.8"/>
<circle cx="252.54" cy="861.78" r="1.5" fill="#a9dc78"/>
<line x1="258.18" y1="862.14" x2="258.18" y2="867.33" stroke="#a9dc78" stroke-width="0.9"/>
<line x1="257.28" y1="862.14" x2="259.08" y2="862.14" stroke="#a9dc78" stroke-width="0.8"/>
<line x1="257.28" y1="867.33" x2="259.08" y2="867.33" stroke="#a9dc78" stroke-width="0.8"/>
<circle cx="258.18" cy="864.47" r="1.5" fill="#a9dc78"/>
<line x1="263.82" y1="868.32" x2="263.82" y2="869.75" stroke="#a9dc78" stroke-width="0.9"/>
<line x1="262.92" y1="868.32" x2="264.72" y2="868.32" stroke="#a9dc78" stroke-width="0.8"/>
<line x1="262.92" y1="869.75" x2="264.72" y2="869.75" stroke="#a9dc78" stroke-width="0.8"/>
<circle cx="263.82" cy="869.03" r="1.5" fill="#a9dc78"/>
<line x1="269.46" y1="866.17" x2="269.46" y2="868.41" stroke="#a9dc78" stroke-width="0.9"/>
<line x1="268.56" y1="866.17" x2="270.36" y2="866.17" stroke="#a9dc78" stroke-width="0.8"/>
<line x1="268.56" y1="868.41" x2="270.36" y2="868.41" stroke="#a9dc78" stroke-width="0.8"/>
<circle cx="269.46" cy="867.33" r="1.5" fill="#a9dc78"/>
<line x1="275.10" y1="854.54" x2="275.10" y2="856.77" stroke="#a9dc78" stroke-width="0.9"/>
<line x1="274.20" y1="854.54" x2="276.00" y2="854.54" stroke="#a9dc78" stroke-width="0.8"/>
<line x1="274.20" y1="856.77" x2="276.00" y2="856.77" stroke="#a9dc78" stroke-width="0.8"/>
<circle cx="275.10" cy="855.70" r="1.5" fill="#a9dc78"/>
<line x1="280.74" y1="864.38" x2="280.74" y2="866.17" stroke="#a9dc78" stroke-width="0.9"/>
<line x1="279.84" y1="864.38" x2="281.64" y2="864.38" stroke="#a9dc78" stroke-width="0.8"/>
<line x1="279.84" y1="866.17" x2="281.64" y2="866.17" stroke="#a9dc78" stroke-width="0.8"/>
<circle cx="280.74" cy="865.19" r="1.5" fill="#a9dc78"/>
<line x1="286.38" y1="863.22" x2="286.38" y2="869.75" stroke="#a9dc78" stroke-width="0.9"/>
<line x1="285.48" y1="863.22" x2="287.28" y2="863.22" stroke="#a9dc78" stroke-width="0.8"/>
<line x1="285.48" y1="869.75" x2="287.28" y2="869.75" stroke="#a9dc78" stroke-width="0.8"/>
<circle cx="286.38" cy="866.17" r="1.5" fill="#a9dc78"/>
<line x1="292.02" y1="866.62" x2="292.02" y2="868.41" stroke="#a9dc78" stroke-width="0.9"/>
<line x1="291.12" y1="866.62" x2="292.92" y2="866.62" stroke="#a9dc78" stroke-width="0.8"/>
<line x1="291.12" y1="868.41" x2="292.92" y2="868.41" stroke="#a9dc78" stroke-width="0.8"/>
<circle cx="292.02" cy="867.60" r="1.5" fill="#a9dc78"/>
<line x1="303.30" y1="862.59" x2="303.30" y2="864.38" stroke="#a9dc78" stroke-width="0.9"/>
<line x1="302.40" y1="862.59" x2="304.20" y2="862.59" stroke="#a9dc78" stroke-width="0.8"/>
<line x1="302.40" y1="864.38" x2="304.20" y2="864.38" stroke="#a9dc78" stroke-width="0.8"/>
<circle cx="303.30" cy="863.49" r="1.5" fill="#a9dc78"/>
<line x1="314.58" y1="854.27" x2="314.58" y2="861.78" stroke="#a9dc78" stroke-width="0.9"/>
<line x1="313.68" y1="854.27" x2="315.48" y2="854.27" stroke="#a9dc78" stroke-width="0.8"/>
<line x1="313.68" y1="861.78" x2="315.48" y2="861.78" stroke="#a9dc78" stroke-width="0.8"/>
<circle cx="314.58" cy="858.12" r="1.5" fill="#a9dc78"/>
<line x1="337.14" y1="855.16" x2="337.14" y2="860.71" stroke="#a9dc78" stroke-width="0.9"/>
<line x1="336.24" y1="855.16" x2="338.04" y2="855.16" stroke="#a9dc78" stroke-width="0.8"/>
<line x1="336.24" y1="860.71" x2="338.04" y2="860.71" stroke="#a9dc78" stroke-width="0.8"/>
<circle cx="337.14" cy="858.12" r="1.5" fill="#a9dc78"/>
<path d="M246.90,862.41 L247.83,862.30 L248.76,862.20 L249.70,862.10 L250.63,862.00 L251.56,861.91 L252.49,861.83 L253.43,861.76 L254.36,861.69 L255.29,861.62 L256.22,861.56 L257.15,861.51 L258.09,861.47 L259.02,861.43 L259.95,861.40 L260.88,861.37 L261.82,861.35 L262.75,861.34 L263.68,861.34 L264.61,861.34 L265.54,861.35 L266.48,861.38 L267.41,861.41 L268.34,861.45 L269.27,861.49 L270.21,861.55 L271.14,861.60 L272.07,861.67 L273.00,861.73 L273.93,861.80 L274.87,861.87 L275.80,861.94 L276.73,862.01 L277.66,862.08 L278.60,862.15 L279.53,862.22 L280.46,862.29 L281.39,862.35 L282.32,862.40 L283.26,862.46 L284.19,862.52 L285.12,862.57 L286.05,862.63 L286.99,862.69 L287.92,862.75 L288.85,862.81 L289.78,862.87 L290.71,862.93 L291.65,862.99 L292.58,863.05 L293.51,863.10 L294.44,863.16 L295.38,863.21 L296.31,863.26 L297.24,863.30 L298.17,863.35 L299.10,863.39 L300.04,863.42 L300.97,863.46 L301.90,863.49 L302.83,863.53 L303.77,863.56 L304.70,863.59 L305.63,863.62 L306.56,863.65 L307.50,863.68 L308.43,863.71 L309.36,863.74 L310.29,863.76 L311.22,863.78 L312.16,863.80 L313.09,863.82 L314.02,863.83 L314.95,863.85 L315.89,863.86 L316.82,863.87 L317.75,863.89 L318.68,863.90 L319.61,863.91 L320.55,863.92 L321.48,863.93 L322.41,863.95 L323.34,863.96 L324.28,863.97 L325.21,863.98 L326.14,863.99 L327.07,864.00 L328.00,864.01 L328.94,864.02 L329.87,864.03 L330.80,864.04 L331.73,864.05 L332.67,864.06 L333.60,864.07 L334.53,864.08 L335.46,864.09 L336.39,864.09 L337.33,864.10 L338.26,864.11 L339.19,864.12 L340.12,864.12 L341.06,864.13 L341.99,864.14 L342.92,864.14 L343.85,864.15 L344.78,864.16 L345.72,864.16 L346.65,864.17 L347.58,864.17 L348.51,864.17 L349.45,864.18 L350.38,864.18 L351.31,864.19 L352.24,864.19 L353.17,864.19 L354.11,864.19 L355.04,864.20 L355.97,864.20 L356.90,864.20 L357.84,864.20 L358.77,864.20 L359.70,864.20" fill="none" stroke="#35752f" stroke-width="1.15" stroke-linejoin="round"/>
<path d="M249.44,862.14 L250.37,860.51 L251.31,858.90 L252.24,857.31 L253.18,855.79 L254.11,854.65 L255.04,853.22 L255.98,849.91 L256.91,840.44 L257.85,834.17 L258.78,829.63 L259.72,826.21 L260.65,823.73 L261.59,821.71 L262.52,820.25 L263.45,819.56 L264.39,819.10 L265.32,818.91 L266.26,819.21 L267.19,819.92 L268.13,820.76 L269.06,821.63 L270.00,822.64 L270.93,823.65 L271.86,824.69 L272.80,825.75 L273.73,826.80 L274.67,827.84 L275.60,828.89 L276.54,829.95 L277.47,830.99 L278.41,831.97 L279.34,832.90 L280.27,833.80 L281.21,834.67 L282.14,835.49 L283.08,836.25 L284.01,836.98 L284.95,837.69 L285.88,838.35 L286.81,838.94 L287.75,839.44 L288.68,839.89 L289.62,840.29 L290.55,840.66 L291.49,840.98 L292.42,841.26 L293.36,841.52 L294.29,841.76 L295.22,841.97 L296.16,842.16 L297.09,842.32 L298.03,842.47 L298.96,842.60 L299.90,842.72 L300.83,842.84 L301.77,842.96 L302.70,843.08 L303.63,843.18 L304.57,843.24 L305.50,843.27 L306.44,843.28 L307.37,843.29 L308.31,843.29 L309.24,843.30 L310.18,843.30 L311.11,843.31 L312.04,843.31 L312.98,843.32 L313.91,843.33 L314.85,843.35 L315.78,843.51 L316.72,843.80 L317.65,844.15 L318.59,844.48 L319.52,844.75 L320.45,845.02 L321.39,845.28 L322.32,845.53 L323.26,845.75 L324.19,845.93 L325.13,846.07 L326.06,846.20 L327.00,846.32 L327.93,846.42 L328.86,846.50 L329.80,846.56 L330.73,846.60 L331.67,846.64 L332.60,846.67 L333.54,846.70 L334.47,846.72 L335.40,846.74 L336.34,846.75 L337.27,846.75 L338.21,846.75 L339.14,846.75 L340.08,846.75 L341.01,846.75 L341.95,846.75 L342.88,846.75 L343.81,846.75 L344.75,846.75 L345.68,846.74 L346.62,846.74 L347.55,846.74 L348.49,846.74 L349.42,846.73 L350.36,846.73 L351.29,846.73 L352.22,846.72 L353.16,846.72 L354.09,846.71 L355.03,846.70 L355.96,846.70 L356.90,846.69 L357.83,846.68 L358.77,846.67 L359.70,846.66" fill="none" stroke="#cc2f8a" stroke-width="1.15" stroke-linejoin="round"/>
<rect x="389.63" y="789.60" width="65.77" height="88.50" fill="#f4f4f4"/>
<path d="M387.60,789.60 L387.60,878.10 L500.60,878.10" fill="none" stroke="#cfcfcf" stroke-width="0.9"/>
<line x1="415.85" y1="878.10" x2="415.85" y2="876.90" stroke="#cfcfcf" stroke-width="0.8"/>
<line x1="444.10" y1="878.10" x2="444.10" y2="876.90" stroke="#cfcfcf" stroke-width="0.8"/>
<line x1="472.35" y1="878.10" x2="472.35" y2="876.90" stroke="#cfcfcf" stroke-width="0.8"/>
<line x1="500.60" y1="878.10" x2="500.60" y2="876.90" stroke="#cfcfcf" stroke-width="0.8"/>
<line x1="387.60" y1="833.85" x2="388.80" y2="833.85" stroke="#cfcfcf" stroke-width="0.8"/>
<line x1="387.60" y1="789.60" x2="388.80" y2="789.60" stroke="#cfcfcf" stroke-width="0.8"/>
<text x="385.40" y="880.70" font-size="7.0" text-anchor="end" font-weight="normal" fill="#262626" stroke="#262626" stroke-width="0.1">0</text>
<text x="385.40" y="836.45" font-size="7.0" text-anchor="end" font-weight="normal" fill="#262626" stroke="#262626" stroke-width="0.1">0.5</text>
<text x="385.40" y="792.20" font-size="7.0" text-anchor="end" font-weight="normal" fill="#262626" stroke="#262626" stroke-width="0.1">1</text>
<text x="387.60" y="886.90" font-size="7.0" text-anchor="middle" font-weight="normal" fill="#262626" stroke="#262626" stroke-width="0.1">0</text>
<text x="415.85" y="886.90" font-size="7.0" text-anchor="middle" font-weight="normal" fill="#262626" stroke="#262626" stroke-width="0.1">5</text>
<text x="444.10" y="886.90" font-size="7.0" text-anchor="middle" font-weight="normal" fill="#262626" stroke="#262626" stroke-width="0.1">10</text>
<text x="472.35" y="886.90" font-size="7.0" text-anchor="middle" font-weight="normal" fill="#262626" stroke="#262626" stroke-width="0.1">15</text>
<text x="500.60" y="886.90" font-size="7.0" text-anchor="middle" font-weight="normal" fill="#262626" stroke="#262626" stroke-width="0.1">20</text>
<path d="M387.60,862.44 L388.53,864.18 L389.47,865.80 L390.40,867.28 L391.34,868.58 L392.27,869.67 L393.20,870.64 L394.14,871.55 L395.07,872.37 L396.00,873.04 L396.94,873.53 L397.87,873.81 L398.81,874.05 L399.74,874.25 L400.67,874.41 L401.61,874.52 L402.54,874.56 L403.48,874.55 L404.41,874.53 L405.34,874.50 L406.28,874.46 L407.21,874.41 L408.15,874.36 L409.08,874.29 L410.01,874.23 L410.95,874.16 L411.88,874.09 L412.81,874.02 L413.75,873.94 L414.68,873.85 L415.62,873.73 L416.55,873.61 L417.48,873.48 L418.42,873.34 L419.35,873.20 L420.29,873.07 L421.22,872.95 L422.15,872.84 L423.09,872.74 L424.02,872.66 L424.96,872.61 L425.89,872.57 L426.82,872.53 L427.76,872.49 L428.69,872.45 L429.62,872.42 L430.56,872.38 L431.49,872.35 L432.43,872.32 L433.36,872.29 L434.29,872.27 L435.23,872.24 L436.16,872.22 L437.10,872.21 L438.03,872.19 L438.96,872.18 L439.90,872.17 L440.83,872.17 L441.77,872.17 L442.70,872.17 L443.63,872.17 L444.57,872.17 L445.50,872.17 L446.43,872.17 L447.37,872.17 L448.30,872.17 L449.24,872.17 L450.17,872.17 L451.10,872.17 L452.04,872.17 L452.97,872.17 L453.91,872.17 L454.84,872.17 L455.77,872.17 L456.71,872.18 L457.64,872.21 L458.58,872.25 L459.51,872.30 L460.44,872.36 L461.38,872.42 L462.31,872.49 L463.24,872.57 L464.18,872.65 L465.11,872.73 L466.05,872.81 L466.98,872.89 L467.91,872.97 L468.85,873.04 L469.78,873.11 L470.72,873.17 L471.65,873.23 L472.58,873.27 L473.52,873.32 L474.45,873.37 L475.39,873.41 L476.32,873.46 L477.25,873.50 L478.19,873.55 L479.12,873.59 L480.05,873.63 L480.99,873.68 L481.92,873.72 L482.86,873.76 L483.79,873.80 L484.72,873.84 L485.66,873.88 L486.59,873.92 L487.53,873.96 L488.46,873.99 L489.39,874.03 L490.33,874.07 L491.26,874.10 L492.20,874.13 L493.13,874.16 L494.06,874.20 L495.00,874.23 L495.93,874.26 L496.86,874.28 L497.80,874.31 L498.73,874.34 L499.67,874.36 L500.60,874.38" fill="none" stroke="#cc2f8a" stroke-width="1.15" stroke-linejoin="round"/>
<path d="M387.60,862.44 L388.53,864.21 L389.47,865.87 L390.40,867.38 L391.34,868.72 L392.27,869.85 L393.20,870.82 L394.14,871.72 L395.07,872.52 L396.00,873.21 L396.94,873.80 L397.87,874.27 L398.81,874.72 L399.74,875.14 L400.67,875.52 L401.61,875.85 L402.54,876.13 L403.48,876.35 L404.41,876.49 L405.34,876.59 L406.28,876.67 L407.21,876.75 L408.15,876.83 L409.08,876.90 L410.01,876.97 L410.95,877.03 L411.88,877.08 L412.81,877.14 L413.75,877.18 L414.68,877.22 L415.62,877.26 L416.55,877.29 L417.48,877.32 L418.42,877.34 L419.35,877.36 L420.29,877.38 L421.22,877.39 L422.15,877.40 L423.09,877.40 L424.02,877.41 L424.96,877.42 L425.89,877.42 L426.82,877.43 L427.76,877.44 L428.69,877.44 L429.62,877.45 L430.56,877.46 L431.49,877.46 L432.43,877.47 L433.36,877.47 L434.29,877.48 L435.23,877.49 L436.16,877.49 L437.10,877.50 L438.03,877.50 L438.96,877.51 L439.90,877.51 L440.83,877.52 L441.77,877.52 L442.70,877.53 L443.63,877.53 L444.57,877.54 L445.50,877.54 L446.43,877.55 L447.37,877.55 L448.30,877.55 L449.24,877.56 L450.17,877.56 L451.10,877.57 L452.04,877.57 L452.97,877.57 L453.91,877.58 L454.84,877.58 L455.77,877.58 L456.71,877.59 L457.64,877.59 L458.58,877.59 L459.51,877.60 L460.44,877.60 L461.38,877.60 L462.31,877.61 L463.24,877.61 L464.18,877.61 L465.11,877.61 L466.05,877.62 L466.98,877.62 L467.91,877.62 L468.85,877.62 L469.78,877.63 L470.72,877.63 L471.65,877.63 L472.58,877.63 L473.52,877.63 L474.45,877.63 L475.39,877.64 L476.32,877.64 L477.25,877.64 L478.19,877.64 L479.12,877.64 L480.05,877.64 L480.99,877.65 L481.92,877.65 L482.86,877.65 L483.79,877.65 L484.72,877.65 L485.66,877.65 L486.59,877.65 L487.53,877.65 L488.46,877.65 L489.39,877.65 L490.33,877.65 L491.26,877.65 L492.20,877.66 L493.13,877.66 L494.06,877.66 L495.00,877.66 L495.93,877.66 L496.86,877.66 L497.80,877.66 L498.73,877.66 L499.67,877.66 L500.60,877.66" fill="none" stroke="#35752f" stroke-width="1.15" stroke-linejoin="round"/>
<rect x="537.83" y="788.80" width="65.77" height="88.90" fill="#f4f4f4"/>
<path d="M535.80,788.80 L535.80,877.70 L648.80,877.70" fill="none" stroke="#cfcfcf" stroke-width="0.9"/>
<line x1="564.05" y1="877.70" x2="564.05" y2="876.50" stroke="#cfcfcf" stroke-width="0.8"/>
<line x1="592.30" y1="877.70" x2="592.30" y2="876.50" stroke="#cfcfcf" stroke-width="0.8"/>
<line x1="620.55" y1="877.70" x2="620.55" y2="876.50" stroke="#cfcfcf" stroke-width="0.8"/>
<line x1="648.80" y1="877.70" x2="648.80" y2="876.50" stroke="#cfcfcf" stroke-width="0.8"/>
<line x1="535.80" y1="833.25" x2="537.00" y2="833.25" stroke="#cfcfcf" stroke-width="0.8"/>
<line x1="535.80" y1="788.80" x2="537.00" y2="788.80" stroke="#cfcfcf" stroke-width="0.8"/>
<text x="533.60" y="880.30" font-size="7.0" text-anchor="end" font-weight="normal" fill="#262626" stroke="#262626" stroke-width="0.1">0</text>
<text x="533.60" y="835.85" font-size="7.0" text-anchor="end" font-weight="normal" fill="#262626" stroke="#262626" stroke-width="0.1">0.5</text>
<text x="533.60" y="791.40" font-size="7.0" text-anchor="end" font-weight="normal" fill="#262626" stroke="#262626" stroke-width="0.1">1</text>
<text x="535.80" y="886.50" font-size="7.0" text-anchor="middle" font-weight="normal" fill="#262626" stroke="#262626" stroke-width="0.1">0</text>
<text x="564.05" y="886.50" font-size="7.0" text-anchor="middle" font-weight="normal" fill="#262626" stroke="#262626" stroke-width="0.1">5</text>
<text x="592.30" y="886.50" font-size="7.0" text-anchor="middle" font-weight="normal" fill="#262626" stroke="#262626" stroke-width="0.1">10</text>
<text x="620.55" y="886.50" font-size="7.0" text-anchor="middle" font-weight="normal" fill="#262626" stroke="#262626" stroke-width="0.1">15</text>
<text x="648.80" y="886.50" font-size="7.0" text-anchor="middle" font-weight="normal" fill="#262626" stroke="#262626" stroke-width="0.1">20</text>
<path d="M535.80,788.80 L536.73,789.14 L537.67,789.84 L538.60,791.19 L539.54,792.94 L540.47,795.01 L541.40,797.39 L542.34,800.00 L543.27,802.88 L544.20,805.74 L545.14,808.62 L546.07,810.00 L547.01,810.83 L547.94,811.14 L548.87,811.20 L549.81,811.24 L550.74,811.41 L551.68,812.05 L552.61,812.88 L553.54,813.84 L554.48,815.08 L555.41,816.87 L556.35,819.12 L557.28,821.09 L558.21,823.09 L559.15,825.21 L560.08,827.25 L561.01,829.09 L561.95,830.82 L562.88,832.45 L563.82,833.95 L564.75,835.36 L565.68,836.71 L566.62,837.95 L567.55,839.05 L568.49,840.01 L569.42,840.86 L570.35,841.63 L571.29,842.32 L572.22,842.96 L573.16,843.55 L574.09,844.08 L575.02,844.55 L575.96,844.96 L576.89,845.33 L577.82,845.64 L578.76,845.90 L579.69,846.14 L580.63,846.36 L581.56,846.57 L582.49,846.75 L583.43,846.93 L584.36,847.09 L585.30,847.25 L586.23,847.39 L587.16,847.53 L588.10,847.66 L589.03,847.79 L589.97,847.91 L590.90,848.03 L591.83,848.14 L592.77,848.24 L593.70,848.33 L594.63,848.42 L595.57,848.49 L596.50,848.56 L597.44,848.61 L598.37,848.65 L599.30,848.69 L600.24,848.72 L601.17,848.76 L602.11,848.80 L603.04,848.86 L603.97,848.93 L604.91,849.04 L605.84,849.18 L606.78,849.35 L607.71,849.53 L608.64,849.72 L609.58,849.90 L610.51,850.07 L611.44,850.22 L612.38,850.37 L613.31,850.53 L614.25,850.68 L615.18,850.84 L616.11,850.99 L617.05,851.12 L617.98,851.24 L618.92,851.35 L619.85,851.43 L620.78,851.49 L621.72,851.54 L622.65,851.58 L623.59,851.63 L624.52,851.67 L625.45,851.72 L626.39,851.76 L627.32,851.80 L628.25,851.84 L629.19,851.87 L630.12,851.91 L631.06,851.94 L631.99,851.98 L632.92,852.01 L633.86,852.04 L634.79,852.06 L635.73,852.09 L636.66,852.12 L637.59,852.14 L638.53,852.16 L639.46,852.18 L640.40,852.20 L641.33,852.21 L642.26,852.23 L643.20,852.24 L644.13,852.25 L645.06,852.26 L646.00,852.27 L646.93,852.27 L647.87,852.27 L648.80,852.27" fill="none" stroke="#cc2f8a" stroke-width="1.15" stroke-linejoin="round"/>
<path d="M535.80,788.80 L536.73,789.14 L537.67,789.84 L538.60,791.19 L539.54,792.94 L540.47,794.92 L541.40,797.33 L542.34,800.44 L543.27,804.32 L544.20,808.24 L545.14,812.16 L546.07,816.60 L547.01,822.42 L547.94,828.00 L548.87,832.95 L549.81,836.69 L550.74,839.52 L551.68,842.02 L552.61,844.41 L553.54,846.60 L554.48,848.59 L555.41,850.43 L556.35,851.97 L557.28,853.32 L558.21,854.53 L559.15,855.59 L560.08,856.52 L561.01,857.39 L561.95,858.17 L562.88,858.85 L563.82,859.38 L564.75,859.80 L565.68,860.15 L566.62,860.46 L567.55,860.72 L568.49,860.96 L569.42,861.20 L570.35,861.43 L571.29,861.65 L572.22,861.86 L573.16,862.05 L574.09,862.23 L575.02,862.39 L575.96,862.53 L576.89,862.65 L577.82,862.74 L578.76,862.81 L579.69,862.87 L580.63,862.93 L581.56,862.99 L582.49,863.04 L583.43,863.10 L584.36,863.15 L585.30,863.19 L586.23,863.24 L587.16,863.29 L588.10,863.33 L589.03,863.37 L589.97,863.41 L590.90,863.44 L591.83,863.48 L592.77,863.51 L593.70,863.54 L594.63,863.57 L595.57,863.60 L596.50,863.63 L597.44,863.65 L598.37,863.68 L599.30,863.70 L600.24,863.72 L601.17,863.74 L602.11,863.76 L603.04,863.78 L603.97,863.79 L604.91,863.81 L605.84,863.82 L606.78,863.84 L607.71,863.85 L608.64,863.86 L609.58,863.88 L610.51,863.89 L611.44,863.90 L612.38,863.91 L613.31,863.93 L614.25,863.94 L615.18,863.95 L616.11,863.96 L617.05,863.97 L617.98,863.98 L618.92,864.00 L619.85,864.01 L620.78,864.02 L621.72,864.03 L622.65,864.04 L623.59,864.05 L624.52,864.06 L625.45,864.07 L626.39,864.07 L627.32,864.08 L628.25,864.09 L629.19,864.10 L630.12,864.11 L631.06,864.11 L631.99,864.12 L632.92,864.13 L633.86,864.13 L634.79,864.14 L635.73,864.15 L636.66,864.15 L637.59,864.16 L638.53,864.16 L639.46,864.17 L640.40,864.17 L641.33,864.17 L642.26,864.18 L643.20,864.18 L644.13,864.18 L645.06,864.18 L646.00,864.19 L646.93,864.19 L647.87,864.19 L648.80,864.19" fill="none" stroke="#35752f" stroke-width="1.15" stroke-linejoin="round"/>
<rect x="134.25" y="927.30" width="16.95" height="88.50" fill="#f4f4f4"/>
<path d="M94.70,927.30 L94.70,1015.80 L207.70,1015.80" fill="none" stroke="#cfcfcf" stroke-width="0.9"/>
<line x1="122.95" y1="1015.80" x2="122.95" y2="1014.60" stroke="#cfcfcf" stroke-width="0.8"/>
<line x1="151.20" y1="1015.80" x2="151.20" y2="1014.60" stroke="#cfcfcf" stroke-width="0.8"/>
<line x1="179.45" y1="1015.80" x2="179.45" y2="1014.60" stroke="#cfcfcf" stroke-width="0.8"/>
<line x1="207.70" y1="1015.80" x2="207.70" y2="1014.60" stroke="#cfcfcf" stroke-width="0.8"/>
<line x1="94.70" y1="971.55" x2="95.90" y2="971.55" stroke="#cfcfcf" stroke-width="0.8"/>
<line x1="94.70" y1="927.30" x2="95.90" y2="927.30" stroke="#cfcfcf" stroke-width="0.8"/>
<text x="92.50" y="1018.40" font-size="7.0" text-anchor="end" font-weight="normal" fill="#262626" stroke="#262626" stroke-width="0.1">0</text>
<text x="92.50" y="974.15" font-size="7.0" text-anchor="end" font-weight="normal" fill="#262626" stroke="#262626" stroke-width="0.1">0.5</text>
<text x="92.50" y="929.90" font-size="7.0" text-anchor="end" font-weight="normal" fill="#262626" stroke="#262626" stroke-width="0.1">1</text>
<text x="94.70" y="1024.60" font-size="7.0" text-anchor="middle" font-weight="normal" fill="#262626" stroke="#262626" stroke-width="0.1">0</text>
<text x="122.95" y="1024.60" font-size="7.0" text-anchor="middle" font-weight="normal" fill="#262626" stroke="#262626" stroke-width="0.1">5</text>
<text x="151.20" y="1024.60" font-size="7.0" text-anchor="middle" font-weight="normal" fill="#262626" stroke="#262626" stroke-width="0.1">10</text>
<text x="179.45" y="1024.60" font-size="7.0" text-anchor="middle" font-weight="normal" fill="#262626" stroke="#262626" stroke-width="0.1">15</text>
<text x="207.70" y="1024.60" font-size="7.0" text-anchor="middle" font-weight="normal" fill="#262626" stroke="#262626" stroke-width="0.1">20</text>
<line x1="95.30" y1="956.86" x2="207.70" y2="956.86" stroke="#b8649a" stroke-width="1.35" stroke-dasharray="2.3,0.7"/>
<path d="M94.70,999.16 L95.63,999.32 L96.57,999.47 L97.50,999.62 L98.44,999.77 L99.37,999.92 L100.30,1000.07 L101.24,1000.21 L102.17,1000.35 L103.10,1000.48 L104.04,1000.61 L104.97,1000.74 L105.91,1000.86 L106.84,1000.97 L107.77,1001.08 L108.71,1001.19 L109.64,1001.29 L110.58,1001.38 L111.51,1001.47 L112.44,1001.55 L113.38,1001.63 L114.31,1001.71 L115.25,1001.79 L116.18,1001.86 L117.11,1001.93 L118.05,1001.99 L118.98,1002.06 L119.91,1002.12 L120.85,1002.19 L121.78,1002.25 L122.72,1002.31 L123.65,1002.37 L124.58,1002.43 L125.52,1002.48 L126.45,1002.54 L127.39,1002.60 L128.32,1002.66 L129.25,1002.72 L130.19,1002.78 L131.12,1002.84 L132.06,1002.90 L132.99,1002.97 L133.92,1003.03 L134.86,1003.10 L135.79,1003.17 L136.72,1003.24 L137.66,1003.31 L138.59,1003.38 L139.53,1003.46 L140.46,1003.53 L141.39,1003.60 L142.33,1003.68 L143.26,1003.75 L144.20,1003.82 L145.13,1003.89 L146.06,1003.96 L147.00,1004.02 L147.93,1004.09 L148.87,1004.15 L149.80,1004.21 L150.73,1004.27 L151.67,1004.32 L152.60,1004.37 L153.53,1004.43 L154.47,1004.48 L155.40,1004.52 L156.34,1004.57 L157.27,1004.62 L158.20,1004.67 L159.14,1004.71 L160.07,1004.76 L161.01,1004.80 L161.94,1004.84 L162.87,1004.89 L163.81,1004.93 L164.74,1004.97 L165.68,1005.01 L166.61,1005.05 L167.54,1005.09 L168.48,1005.12 L169.41,1005.16 L170.34,1005.20 L171.28,1005.24 L172.21,1005.27 L173.15,1005.31 L174.08,1005.34 L175.01,1005.38 L175.95,1005.42 L176.88,1005.45 L177.82,1005.49 L178.75,1005.52 L179.68,1005.56 L180.62,1005.59 L181.55,1005.62 L182.49,1005.66 L183.42,1005.69 L184.35,1005.72 L185.29,1005.76 L186.22,1005.79 L187.15,1005.82 L188.09,1005.85 L189.02,1005.88 L189.96,1005.91 L190.89,1005.94 L191.82,1005.97 L192.76,1006.00 L193.69,1006.03 L194.63,1006.06 L195.56,1006.09 L196.49,1006.12 L197.43,1006.15 L198.36,1006.17 L199.30,1006.20 L200.23,1006.23 L201.16,1006.25 L202.10,1006.28 L203.03,1006.30 L203.96,1006.33 L204.90,1006.35 L205.83,1006.37 L206.77,1006.40 L207.70,1006.42" fill="none" stroke="#35752f" stroke-width="1.15" stroke-linejoin="round"/>
<path d="M134.25,1002.88 L135.19,1000.83 L136.12,998.79 L137.06,996.74 L137.99,994.70 L138.93,992.65 L139.86,990.61 L140.80,988.56 L141.73,986.52 L142.67,984.47 L143.60,982.43 L144.54,980.38 L145.47,978.33 L146.41,976.29 L147.35,974.24 L148.28,972.20 L149.22,970.15 L150.15,968.11 L151.09,966.06 M151.09,966.06 L152.02,966.71 L152.94,967.35 L153.87,967.97 L154.80,968.59 L155.73,969.19 L156.66,969.78 L157.58,970.36 L158.51,970.93 L159.44,971.48 L160.37,972.03 L161.30,972.57 L162.22,973.10 L163.15,973.61 L164.08,974.12 L165.01,974.62 L165.94,975.11 L166.86,975.59 L167.79,976.06 L168.72,976.52 L169.65,976.97 L170.58,977.42 L171.50,977.85 L172.43,978.28 L173.36,978.70 L174.29,979.12 L175.22,979.52 L176.15,979.92 L177.07,980.31 L178.00,980.69 L178.93,981.07 L179.86,981.43 L180.79,981.79 L181.71,982.15 L182.64,982.50 L183.57,982.84 L184.50,983.17 L185.43,983.50 L186.35,983.83 L187.28,984.14 L188.21,984.45 L189.14,984.76 L190.07,985.06 L190.99,985.35 L191.92,985.64 L192.85,985.92 L193.78,986.20 L194.71,986.47 L195.63,986.74 L196.56,987.00 L197.49,987.26 L198.42,987.51 L199.35,987.76 L200.28,988.00 L201.20,988.24 L202.13,988.47 L203.06,988.70 L203.99,988.93 L204.92,989.15 L205.84,989.37 L206.77,989.58 L207.70,989.79" fill="none" stroke="#cc2f8a" stroke-width="1.15" stroke-linejoin="round"/>
<rect x="283.78" y="927.00" width="16.97" height="89.50" fill="#f4f4f4"/>
<path d="M244.20,927.00 L244.20,1016.50 L357.30,1016.50" fill="none" stroke="#cfcfcf" stroke-width="0.9"/>
<line x1="272.48" y1="1016.50" x2="272.48" y2="1015.30" stroke="#cfcfcf" stroke-width="0.8"/>
<line x1="300.75" y1="1016.50" x2="300.75" y2="1015.30" stroke="#cfcfcf" stroke-width="0.8"/>
<line x1="329.02" y1="1016.50" x2="329.02" y2="1015.30" stroke="#cfcfcf" stroke-width="0.8"/>
<line x1="357.30" y1="1016.50" x2="357.30" y2="1015.30" stroke="#cfcfcf" stroke-width="0.8"/>
<line x1="244.20" y1="971.75" x2="245.40" y2="971.75" stroke="#cfcfcf" stroke-width="0.8"/>
<line x1="244.20" y1="927.00" x2="245.40" y2="927.00" stroke="#cfcfcf" stroke-width="0.8"/>
<text x="242.00" y="1019.10" font-size="7.0" text-anchor="end" font-weight="normal" fill="#262626" stroke="#262626" stroke-width="0.1">0</text>
<text x="242.00" y="974.35" font-size="7.0" text-anchor="end" font-weight="normal" fill="#262626" stroke="#262626" stroke-width="0.1">0.5</text>
<text x="242.00" y="929.60" font-size="7.0" text-anchor="end" font-weight="normal" fill="#262626" stroke="#262626" stroke-width="0.1">1</text>
<text x="244.20" y="1025.30" font-size="7.0" text-anchor="middle" font-weight="normal" fill="#262626" stroke="#262626" stroke-width="0.1">0</text>
<text x="272.48" y="1025.30" font-size="7.0" text-anchor="middle" font-weight="normal" fill="#262626" stroke="#262626" stroke-width="0.1">5</text>
<text x="300.75" y="1025.30" font-size="7.0" text-anchor="middle" font-weight="normal" fill="#262626" stroke="#262626" stroke-width="0.1">10</text>
<text x="329.02" y="1025.30" font-size="7.0" text-anchor="middle" font-weight="normal" fill="#262626" stroke="#262626" stroke-width="0.1">15</text>
<text x="357.30" y="1025.30" font-size="7.0" text-anchor="middle" font-weight="normal" fill="#262626" stroke="#262626" stroke-width="0.1">20</text>
<line x1="244.80" y1="988.49" x2="357.30" y2="988.49" stroke="#b8649a" stroke-width="1.35" stroke-dasharray="2.3,0.7"/>
<line x1="300.75" y1="968.53" x2="300.75" y2="982.85" stroke="#f0a4d2" stroke-width="0.9"/>
<line x1="299.85" y1="968.53" x2="301.65" y2="968.53" stroke="#f0a4d2" stroke-width="0.8"/>
<line x1="299.85" y1="982.85" x2="301.65" y2="982.85" stroke="#f0a4d2" stroke-width="0.8"/>
<circle cx="300.75" cy="975.60" r="1.5" fill="#f0a4d2"/>
<line x1="300.75" y1="1001.73" x2="300.75" y2="1002.63" stroke="#a9dc78" stroke-width="0.9"/>
<line x1="299.85" y1="1001.73" x2="301.65" y2="1001.73" stroke="#a9dc78" stroke-width="0.8"/>
<line x1="299.85" y1="1002.63" x2="301.65" y2="1002.63" stroke="#a9dc78" stroke-width="0.8"/>
<circle cx="300.75" cy="1002.18" r="1.5" fill="#a9dc78"/>
<path d="M244.20,999.67 L245.13,999.56 L246.07,999.45 L247.00,999.35 L247.94,999.26 L248.87,999.17 L249.81,999.09 L250.74,999.02 L251.68,998.95 L252.61,998.89 L253.55,998.84 L254.48,998.80 L255.42,998.76 L256.35,998.73 L257.29,998.71 L258.22,998.70 L259.16,998.69 L260.09,998.69 L261.02,998.71 L261.96,998.73 L262.89,998.76 L263.83,998.81 L264.76,998.85 L265.70,998.91 L266.63,998.97 L267.57,999.03 L268.50,999.10 L269.44,999.17 L270.37,999.24 L271.31,999.31 L272.24,999.38 L273.18,999.45 L274.11,999.51 L275.05,999.58 L275.98,999.65 L276.91,999.72 L277.85,999.80 L278.78,999.87 L279.72,999.95 L280.65,1000.03 L281.59,1000.11 L282.52,1000.18 L283.46,1000.26 L284.39,1000.32 L285.33,1000.39 L286.26,1000.46 L287.20,1000.54 L288.13,1000.61 L289.07,1000.69 L290.00,1000.76 L290.94,1000.83 L291.87,1000.90 L292.80,1000.97 L293.74,1001.04 L294.67,1001.10 L295.61,1001.16 L296.54,1001.21 L297.48,1001.26 L298.41,1001.30 L299.35,1001.34 L300.28,1001.36 L301.22,1001.38 L302.15,1001.40 L303.09,1001.42 L304.02,1001.44 L304.96,1001.45 L305.89,1001.47 L306.83,1001.48 L307.76,1001.49 L308.70,1001.51 L309.63,1001.52 L310.56,1001.53 L311.50,1001.54 L312.43,1001.55 L313.37,1001.56 L314.30,1001.57 L315.24,1001.58 L316.17,1001.59 L317.11,1001.59 L318.04,1001.60 L318.98,1001.61 L319.91,1001.62 L320.85,1001.62 L321.78,1001.63 L322.72,1001.64 L323.65,1001.65 L324.59,1001.65 L325.52,1001.66 L326.45,1001.67 L327.39,1001.67 L328.32,1001.68 L329.26,1001.69 L330.19,1001.69 L331.13,1001.70 L332.06,1001.71 L333.00,1001.71 L333.93,1001.72 L334.87,1001.73 L335.80,1001.73 L336.74,1001.74 L337.67,1001.74 L338.61,1001.75 L339.54,1001.75 L340.48,1001.76 L341.41,1001.76 L342.34,1001.77 L343.28,1001.77 L344.21,1001.78 L345.15,1001.78 L346.08,1001.79 L347.02,1001.79 L347.95,1001.80 L348.89,1001.80 L349.82,1001.80 L350.76,1001.81 L351.69,1001.81 L352.63,1001.81 L353.56,1001.81 L354.50,1001.82 L355.43,1001.82 L356.37,1001.82 L357.30,1001.82" fill="none" stroke="#35752f" stroke-width="1.15" stroke-linejoin="round"/>
<path d="M283.78,1000.12 L284.66,999.28 L285.54,998.43 L286.41,997.55 L287.29,996.65 L288.17,995.74 L289.04,994.79 L289.92,993.82 L290.80,992.82 L291.67,991.80 L292.55,990.75 L293.43,989.68 L294.30,988.58 M294.30,988.58 L295.24,981.83 L296.18,977.88 L297.12,975.52 L298.06,974.20 L299.00,973.17 L299.94,972.48 L300.89,972.31 L301.83,972.86 L302.77,973.76 L303.71,974.68 L304.65,975.76 L305.59,976.80 L306.53,977.68 L307.47,978.50 L308.41,979.26 L309.35,979.98 L310.29,980.68 L311.23,981.35 L312.17,981.94 L313.11,982.44 L314.05,982.90 L314.99,983.34 L315.93,983.75 L316.87,984.13 L317.81,984.47 L318.75,984.77 L319.69,985.02 L320.63,985.23 L321.57,985.43 L322.51,985.62 L323.45,985.79 L324.39,985.96 L325.33,986.11 L326.27,986.25 L327.21,986.38 L328.15,986.49 L329.09,986.58 L330.03,986.65 L330.97,986.71 L331.91,986.76 L332.85,986.81 L333.79,986.86 L334.73,986.91 L335.67,986.95 L336.61,987.00 L337.55,987.04 L338.50,987.08 L339.44,987.12 L340.38,987.16 L341.32,987.19 L342.26,987.23 L343.20,987.26 L344.14,987.29 L345.08,987.32 L346.02,987.34 L346.96,987.37 L347.90,987.39 L348.84,987.41 L349.78,987.43 L350.72,987.45 L351.66,987.46 L352.60,987.47 L353.54,987.48 L354.48,987.49 L355.42,987.50 L356.36,987.50 L357.30,987.50" fill="none" stroke="#cc2f8a" stroke-width="1.15" stroke-linejoin="round"/>
<rect x="428.89" y="927.00" width="17.01" height="89.10" fill="#f4f4f4"/>
<path d="M389.20,927.00 L389.20,1016.10 L502.60,1016.10" fill="none" stroke="#cfcfcf" stroke-width="0.9"/>
<line x1="417.55" y1="1016.10" x2="417.55" y2="1014.90" stroke="#cfcfcf" stroke-width="0.8"/>
<line x1="445.90" y1="1016.10" x2="445.90" y2="1014.90" stroke="#cfcfcf" stroke-width="0.8"/>
<line x1="474.25" y1="1016.10" x2="474.25" y2="1014.90" stroke="#cfcfcf" stroke-width="0.8"/>
<line x1="502.60" y1="1016.10" x2="502.60" y2="1014.90" stroke="#cfcfcf" stroke-width="0.8"/>
<line x1="389.20" y1="971.55" x2="390.40" y2="971.55" stroke="#cfcfcf" stroke-width="0.8"/>
<line x1="389.20" y1="927.00" x2="390.40" y2="927.00" stroke="#cfcfcf" stroke-width="0.8"/>
<text x="387.00" y="1018.70" font-size="7.0" text-anchor="end" font-weight="normal" fill="#262626" stroke="#262626" stroke-width="0.1">0</text>
<text x="387.00" y="974.15" font-size="7.0" text-anchor="end" font-weight="normal" fill="#262626" stroke="#262626" stroke-width="0.1">0.5</text>
<text x="387.00" y="929.60" font-size="7.0" text-anchor="end" font-weight="normal" fill="#262626" stroke="#262626" stroke-width="0.1">1</text>
<text x="389.20" y="1024.90" font-size="7.0" text-anchor="middle" font-weight="normal" fill="#262626" stroke="#262626" stroke-width="0.1">0</text>
<text x="417.55" y="1024.90" font-size="7.0" text-anchor="middle" font-weight="normal" fill="#262626" stroke="#262626" stroke-width="0.1">5</text>
<text x="445.90" y="1024.90" font-size="7.0" text-anchor="middle" font-weight="normal" fill="#262626" stroke="#262626" stroke-width="0.1">10</text>
<text x="474.25" y="1024.90" font-size="7.0" text-anchor="middle" font-weight="normal" fill="#262626" stroke="#262626" stroke-width="0.1">15</text>
<text x="502.60" y="1024.90" font-size="7.0" text-anchor="middle" font-weight="normal" fill="#262626" stroke="#262626" stroke-width="0.1">20</text>
<path d="M428.89,1015.12 L429.82,1014.98 L430.76,1014.85 L431.69,1014.71 L432.62,1014.58 L433.56,1014.45 L434.49,1014.32 L435.42,1014.20 L436.35,1014.08 L437.29,1013.95 L438.22,1013.84 L439.15,1013.72 L440.09,1013.61 L441.02,1013.50 L441.95,1013.39 L442.89,1013.28 L443.82,1013.17 L444.75,1013.05 L445.68,1012.93 L446.62,1012.79 L447.55,1012.63 L448.48,1012.47 L449.42,1012.33 L450.35,1012.22 L451.28,1012.18 L452.22,1012.18 L453.15,1012.18 L454.08,1012.18 L455.02,1012.18 L455.95,1012.18 L456.88,1012.18 L457.81,1012.18 L458.75,1012.18 L459.68,1012.18 L460.61,1012.18 L461.55,1012.19 L462.48,1012.22 L463.41,1012.25 L464.35,1012.28 L465.28,1012.33 L466.21,1012.38 L467.14,1012.43 L468.08,1012.48 L469.01,1012.54 L469.94,1012.59 L470.88,1012.65 L471.81,1012.70 L472.74,1012.74 L473.68,1012.78 L474.61,1012.82 L475.54,1012.85 L476.47,1012.88 L477.41,1012.91 L478.34,1012.95 L479.27,1012.98 L480.21,1013.01 L481.14,1013.04 L482.07,1013.07 L483.01,1013.10 L483.94,1013.13 L484.87,1013.16 L485.81,1013.19 L486.74,1013.22 L487.67,1013.24 L488.60,1013.27 L489.54,1013.30 L490.47,1013.32 L491.40,1013.35 L492.34,1013.38 L493.27,1013.40 L494.20,1013.42 L495.14,1013.45 L496.07,1013.47 L497.00,1013.49 L497.93,1013.51 L498.87,1013.53 L499.80,1013.55 L500.73,1013.57 L501.67,1013.59 L502.60,1013.61" fill="none" stroke="#cc2f8a" stroke-width="1.15" stroke-linejoin="round"/>
<path d="M389.20,999.71 L390.14,1001.09 L391.07,1002.41 L392.01,1003.65 L392.95,1004.81 L393.89,1005.86 L394.82,1006.83 L395.76,1007.77 L396.70,1008.67 L397.63,1009.51 L398.57,1010.26 L399.51,1010.89 L400.45,1011.39 L401.38,1011.79 L402.32,1012.16 L403.26,1012.50 L404.20,1012.80 L405.13,1013.08 L406.07,1013.32 L407.01,1013.52 L407.94,1013.70 L408.88,1013.84 L409.82,1013.98 L410.76,1014.10 L411.69,1014.22 L412.63,1014.33 L413.57,1014.43 L414.50,1014.53 L415.44,1014.62 L416.38,1014.69 L417.32,1014.76 L418.25,1014.82 L419.19,1014.88 L420.13,1014.92 L421.06,1014.95 L422.00,1014.98 L422.94,1015.01 L423.88,1015.04 L424.81,1015.06 L425.75,1015.09 L426.69,1015.11 L427.62,1015.14 L428.56,1015.16 L429.50,1015.18 L430.44,1015.20 L431.37,1015.22 L432.31,1015.24 L433.25,1015.25 L434.19,1015.27 L435.12,1015.29 L436.06,1015.30 L437.00,1015.31 L437.93,1015.33 L438.87,1015.34 L439.81,1015.35 L440.75,1015.36 L441.68,1015.36 L442.62,1015.37 L443.56,1015.38 L444.49,1015.38 L445.43,1015.39 L446.37,1015.39 L447.31,1015.39 L448.24,1015.39 L449.18,1015.40 L450.12,1015.40 L451.05,1015.40 L451.99,1015.41 L452.93,1015.41 L453.87,1015.41 L454.80,1015.41 L455.74,1015.42 L456.68,1015.42 L457.61,1015.42 L458.55,1015.42 L459.49,1015.43 L460.43,1015.43 L461.36,1015.43 L462.30,1015.43 L463.24,1015.43 L464.18,1015.44 L465.11,1015.44 L466.05,1015.44 L466.99,1015.44 L467.92,1015.44 L468.86,1015.45 L469.80,1015.45 L470.74,1015.45 L471.67,1015.45 L472.61,1015.45 L473.55,1015.45 L474.48,1015.46 L475.42,1015.46 L476.36,1015.46 L477.30,1015.46 L478.23,1015.46 L479.17,1015.46 L480.11,1015.46 L481.04,1015.46 L481.98,1015.46 L482.92,1015.47 L483.86,1015.47 L484.79,1015.47 L485.73,1015.47 L486.67,1015.47 L487.60,1015.47 L488.54,1015.47 L489.48,1015.47 L490.42,1015.47 L491.35,1015.47 L492.29,1015.47 L493.23,1015.47 L494.17,1015.47 L495.10,1015.47 L496.04,1015.48 L496.98,1015.48 L497.91,1015.48 L498.85,1015.48 L499.79,1015.48 L500.73,1015.48 L501.66,1015.48 L502.60,1015.48" fill="none" stroke="#35752f" stroke-width="1.15" stroke-linejoin="round"/>
<rect x="578.78" y="926.20" width="16.92" height="89.30" fill="#f4f4f4"/>
<path d="M539.30,926.20 L539.30,1015.50 L652.10,1015.50" fill="none" stroke="#cfcfcf" stroke-width="0.9"/>
<line x1="567.50" y1="1015.50" x2="567.50" y2="1014.30" stroke="#cfcfcf" stroke-width="0.8"/>
<line x1="595.70" y1="1015.50" x2="595.70" y2="1014.30" stroke="#cfcfcf" stroke-width="0.8"/>
<line x1="623.90" y1="1015.50" x2="623.90" y2="1014.30" stroke="#cfcfcf" stroke-width="0.8"/>
<line x1="652.10" y1="1015.50" x2="652.10" y2="1014.30" stroke="#cfcfcf" stroke-width="0.8"/>
<line x1="539.30" y1="970.85" x2="540.50" y2="970.85" stroke="#cfcfcf" stroke-width="0.8"/>
<line x1="539.30" y1="926.20" x2="540.50" y2="926.20" stroke="#cfcfcf" stroke-width="0.8"/>
<text x="537.10" y="1018.10" font-size="7.0" text-anchor="end" font-weight="normal" fill="#262626" stroke="#262626" stroke-width="0.1">0</text>
<text x="537.10" y="973.45" font-size="7.0" text-anchor="end" font-weight="normal" fill="#262626" stroke="#262626" stroke-width="0.1">0.5</text>
<text x="537.10" y="928.80" font-size="7.0" text-anchor="end" font-weight="normal" fill="#262626" stroke="#262626" stroke-width="0.1">1</text>
<text x="539.30" y="1024.30" font-size="7.0" text-anchor="middle" font-weight="normal" fill="#262626" stroke="#262626" stroke-width="0.1">0</text>
<text x="567.50" y="1024.30" font-size="7.0" text-anchor="middle" font-weight="normal" fill="#262626" stroke="#262626" stroke-width="0.1">5</text>
<text x="595.70" y="1024.30" font-size="7.0" text-anchor="middle" font-weight="normal" fill="#262626" stroke="#262626" stroke-width="0.1">10</text>
<text x="623.90" y="1024.30" font-size="7.0" text-anchor="middle" font-weight="normal" fill="#262626" stroke="#262626" stroke-width="0.1">15</text>
<text x="652.10" y="1024.30" font-size="7.0" text-anchor="middle" font-weight="normal" fill="#262626" stroke="#262626" stroke-width="0.1">20</text>
<line x1="595.70" y1="969.06" x2="595.70" y2="989.87" stroke="#f0a4d2" stroke-width="0.9"/>
<line x1="594.80" y1="969.06" x2="596.60" y2="969.06" stroke="#f0a4d2" stroke-width="0.8"/>
<line x1="594.80" y1="989.87" x2="596.60" y2="989.87" stroke="#f0a4d2" stroke-width="0.8"/>
<circle cx="595.70" cy="979.69" r="1.5" fill="#f0a4d2"/>
<line x1="595.70" y1="992.01" x2="595.70" y2="1000.14" stroke="#a9dc78" stroke-width="0.9"/>
<line x1="594.80" y1="992.01" x2="596.60" y2="992.01" stroke="#a9dc78" stroke-width="0.8"/>
<line x1="594.80" y1="1000.14" x2="596.60" y2="1000.14" stroke="#a9dc78" stroke-width="0.8"/>
<circle cx="595.70" cy="997.64" r="1.5" fill="#a9dc78"/>
<path d="M581.04,1000.32 L581.97,999.49 L582.91,998.70 L583.84,997.94 L584.78,997.21 L585.71,996.52 L586.65,995.88 L587.58,995.35 L588.52,994.86 L589.45,994.31 L590.39,993.58 L591.32,992.31 L592.26,990.54 L593.19,988.71 L594.13,987.27 L595.06,986.41 L596.00,985.67 L596.93,985.09 L597.87,984.80 L598.80,984.87 L599.74,985.24 L600.67,985.78 L601.61,986.37 L602.54,986.88 L603.48,987.31 L604.41,987.75 L605.35,988.19 L606.28,988.62 L607.22,989.04 L608.15,989.44 L609.09,989.79 L610.02,990.10 L610.96,990.35 L611.89,990.58 L612.83,990.79 L613.76,991.00 L614.70,991.19 L615.63,991.37 L616.57,991.54 L617.50,991.70 L618.44,991.85 L619.37,991.98 L620.31,992.10 L621.24,992.21 L622.18,992.30 L623.11,992.38 L624.05,992.44 L624.98,992.51 L625.92,992.58 L626.85,992.64 L627.79,992.71 L628.72,992.77 L629.66,992.83 L630.59,992.89 L631.53,992.95 L632.46,993.00 L633.40,993.05 L634.33,993.10 L635.27,993.15 L636.20,993.20 L637.14,993.25 L638.07,993.29 L639.01,993.33 L639.94,993.37 L640.88,993.40 L641.81,993.44 L642.75,993.47 L643.68,993.50 L644.62,993.52 L645.55,993.54 L646.49,993.56 L647.42,993.58 L648.36,993.60 L649.29,993.61 L650.23,993.62 L651.16,993.62 L652.10,993.62" fill="none" stroke="#cc2f8a" stroke-width="1.15" stroke-linejoin="round"/>
<path d="M539.30,926.20 L540.23,926.49 L541.16,927.24 L542.10,928.30 L543.03,929.96 L543.96,932.98 L544.89,936.63 L545.83,940.26 L546.76,944.25 L547.69,948.49 L548.62,952.66 L549.55,956.84 L550.49,961.00 L551.42,964.93 L552.35,968.57 L553.28,972.05 L554.22,975.24 L555.15,978.08 L556.08,980.76 L557.01,983.23 L557.94,985.42 L558.88,987.24 L559.81,988.83 L560.74,990.27 L561.67,991.57 L562.61,992.71 L563.54,993.70 L564.47,994.55 L565.40,995.34 L566.33,996.07 L567.27,996.73 L568.20,997.30 L569.13,997.77 L570.06,998.13 L571.00,998.44 L571.93,998.72 L572.86,998.98 L573.79,999.21 L574.72,999.42 L575.66,999.61 L576.59,999.77 L577.52,999.92 L578.45,1000.05 L579.39,1000.16 L580.32,1000.27 L581.25,1000.37 L582.18,1000.46 L583.11,1000.56 L584.05,1000.64 L584.98,1000.73 L585.91,1000.81 L586.84,1000.88 L587.78,1000.95 L588.71,1001.02 L589.64,1001.08 L590.57,1001.14 L591.50,1001.19 L592.44,1001.24 L593.37,1001.28 L594.30,1001.32 L595.23,1001.35 L596.17,1001.38 L597.10,1001.41 L598.03,1001.43 L598.96,1001.46 L599.90,1001.48 L600.83,1001.51 L601.76,1001.53 L602.69,1001.55 L603.62,1001.57 L604.56,1001.60 L605.49,1001.62 L606.42,1001.64 L607.35,1001.66 L608.29,1001.68 L609.22,1001.70 L610.15,1001.72 L611.08,1001.74 L612.01,1001.76 L612.95,1001.78 L613.88,1001.80 L614.81,1001.82 L615.74,1001.84 L616.68,1001.85 L617.61,1001.87 L618.54,1001.89 L619.47,1001.90 L620.40,1001.92 L621.34,1001.94 L622.27,1001.95 L623.20,1001.97 L624.13,1001.98 L625.07,1001.99 L626.00,1002.01 L626.93,1002.02 L627.86,1002.03 L628.79,1002.04 L629.73,1002.06 L630.66,1002.07 L631.59,1002.08 L632.52,1002.09 L633.46,1002.10 L634.39,1002.11 L635.32,1002.12 L636.25,1002.12 L637.18,1002.13 L638.12,1002.14 L639.05,1002.15 L639.98,1002.15 L640.91,1002.16 L641.85,1002.16 L642.78,1002.17 L643.71,1002.17 L644.64,1002.18 L645.57,1002.18 L646.51,1002.19 L647.44,1002.19 L648.37,1002.19 L649.30,1002.19 L650.24,1002.19 L651.17,1002.19 L652.10,1002.19" fill="none" stroke="#35752f" stroke-width="1.15" stroke-linejoin="round"/>
<rect x="96.25" y="361.40" width="112.35" height="7.60" fill="#fff" stroke="#f4b8d7" stroke-width="1.5"/>
<rect x="95.50" y="498.50" width="113.70" height="9.10" fill="#f4b8d7"/>
<rect x="96.90" y="500.15" width="20.10" height="6.20" fill="#fff"/>
<rect x="95.50" y="636.00" width="113.70" height="9.00" fill="#f4b8d7"/>
<rect x="96.90" y="637.65" width="20.10" height="6.10" fill="#fff"/>
<rect x="95.30" y="774.00" width="114.00" height="8.90" fill="#f4b8d7"/>
<rect x="96.70" y="775.65" width="20.30" height="6.00" fill="#fff"/>
<rect x="96.00" y="913.55" width="112.30" height="7.75" fill="#fff" stroke="#f4b8d7" stroke-width="1.5"/>
<rect x="246.90" y="361.00" width="113.90" height="8.60" fill="#f6bf93"/>
<rect x="248.30" y="362.65" width="8.70" height="5.70" fill="#fff"/>
<rect x="246.90" y="498.50" width="113.90" height="8.80" fill="#f6bf93"/>
<rect x="248.30" y="500.15" width="8.70" height="5.90" fill="#fff"/>
<rect x="246.90" y="636.00" width="113.90" height="9.00" fill="#f6bf93"/>
<rect x="248.30" y="637.65" width="8.70" height="6.10" fill="#fff"/>
<rect x="246.80" y="774.00" width="114.50" height="8.90" fill="#f6bf93"/>
<rect x="248.20" y="775.65" width="8.80" height="6.00" fill="#fff"/>
<rect x="246.90" y="912.90" width="113.80" height="9.00" fill="#f6bf93"/>
<rect x="248.30" y="914.55" width="45.40" height="6.10" fill="#fff"/>
<rect x="54.90" y="1083.00" width="4.1" height="11.60" fill="#b5dd8c"/>
<ellipse cx="56.95" cy="1088.10" rx="3.5" ry="2.0" fill="#b5dd8c"/>
<rect x="169.15" y="1083.00" width="4.1" height="11.60" fill="#f0afd7"/>
<ellipse cx="171.20" cy="1088.10" rx="3.5" ry="2.0" fill="#f0afd7"/>
<rect x="44.8" y="1108.2" width="26.3" height="4.2" fill="#3f7a35"/>
<rect x="158.0" y="1108.4" width="25.8" height="4.0" fill="#c8338c"/>
<rect x="275.0" y="1083.8" width="28.0" height="9.9" fill="#f0f0f0"/>
<rect x="275.10" y="1109.2" width="4.0" height="4.1" fill="#9a1a58"/>
<rect x="283.60" y="1109.2" width="4.0" height="4.1" fill="#9a1a58"/>
<rect x="292.10" y="1109.2" width="4.0" height="4.1" fill="#9a1a58"/>
<rect x="300.1" y="1109.2" width="0.9" height="4.1" fill="#9a1a58"/>
<rect x="394.2" y="1086.6" width="30.4" height="6.6" fill="#fff" stroke="#f4b8d7" stroke-width="1.6"/>
<rect x="393.4" y="1105.4" width="32.0" height="8.9" fill="#f4b8d7"/>
<rect x="538.8" y="1086.6" width="29.6" height="6.6" fill="#fff" stroke="#f6bf93" stroke-width="1.6"/>
<rect x="538.0" y="1105.4" width="31.2" height="8.9" fill="#f6bf93"/>
<text x="85.70" y="1093.60" font-size="9.9" text-anchor="start" font-weight="normal" fill="#b8df90" textLength="38.10" lengthAdjust="spacingAndGlyphs">PBS data</text>
<text x="85.40" y="1115.50" font-size="9.9" text-anchor="start" font-weight="normal" fill="#3f7a35" textLength="28.00" lengthAdjust="spacingAndGlyphs">PBS fit</text>
<text x="202.90" y="1092.80" font-size="9.9" text-anchor="start" font-weight="normal" fill="#f2b4da" textLength="45.10" lengthAdjust="spacingAndGlyphs">HDM data</text>
<text x="202.90" y="1114.10" font-size="9.9" text-anchor="start" font-weight="normal" fill="#c42a87" textLength="35.00" lengthAdjust="spacingAndGlyphs">HDM fit</text>
<text x="317.90" y="1094.00" font-size="9.9" text-anchor="start" font-weight="normal" fill="#c9c9c9" textLength="22.30" lengthAdjust="spacingAndGlyphs">HDM</text>
<text x="317.90" y="1114.60" font-size="9.9" text-anchor="start" font-weight="normal" fill="#9b2463" textLength="45.10" lengthAdjust="spacingAndGlyphs">Threshold</text>
<text x="441.60" y="1092.90" font-size="9.9" text-anchor="start" font-weight="normal" fill="#f3aad5" textLength="72.00" lengthAdjust="spacingAndGlyphs">Remodelling off</text>
<text x="441.60" y="1113.30" font-size="9.9" text-anchor="start" font-weight="normal" fill="#f3aad5" textLength="70.30" lengthAdjust="spacingAndGlyphs">Remodelling on</text>
<text x="581.30" y="1092.90" font-size="9.9" text-anchor="start" font-weight="normal" fill="#f5b487" textLength="72.50" lengthAdjust="spacingAndGlyphs">Sensitisation off</text>
<text x="581.30" y="1113.30" font-size="9.9" text-anchor="start" font-weight="normal" fill="#f5b487" textLength="71.20" lengthAdjust="spacingAndGlyphs">Sensitisation on</text></svg>
</body></html>
